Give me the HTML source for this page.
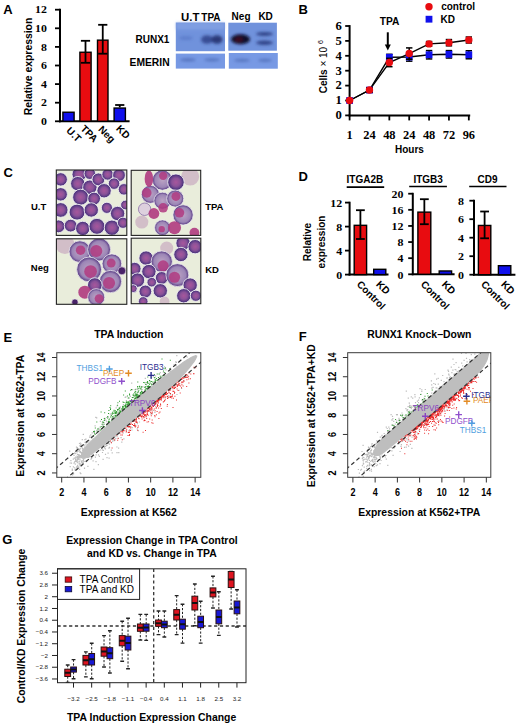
<!DOCTYPE html><html><head><meta charset="utf-8"><style>html,body{margin:0;padding:0;background:#fff;}svg{display:block;}</style></head><body><svg width="520" height="725" viewBox="0 0 520 725"><rect width="520" height="725" fill="#fff"/><text x="3.30" y="13.60" font-size="13" font-weight="bold" text-anchor="start" fill="#000" font-family='"Liberation Sans", sans-serif'>A</text>
<text x="298.60" y="13.90" font-size="13" font-weight="bold" text-anchor="start" fill="#000" font-family='"Liberation Sans", sans-serif'>B</text>
<text x="3.60" y="177.00" font-size="13" font-weight="bold" text-anchor="start" fill="#000" font-family='"Liberation Sans", sans-serif'>C</text>
<text x="298.60" y="181.40" font-size="13" font-weight="bold" text-anchor="start" fill="#000" font-family='"Liberation Sans", sans-serif'>D</text>
<text x="3.60" y="341.60" font-size="13" font-weight="bold" text-anchor="start" fill="#000" font-family='"Liberation Sans", sans-serif'>E</text>
<text x="298.80" y="340.90" font-size="13" font-weight="bold" text-anchor="start" fill="#000" font-family='"Liberation Sans", sans-serif'>F</text>
<text x="2.20" y="543.80" font-size="13" font-weight="bold" text-anchor="start" fill="#000" font-family='"Liberation Sans", sans-serif'>G</text>
<line x1="60.00" y1="8.80" x2="60.00" y2="122.20" stroke="#000" stroke-width="2"/>
<line x1="59.00" y1="121.30" x2="129.60" y2="121.30" stroke="#000" stroke-width="1.9"/>
<line x1="55.00" y1="121.30" x2="60.00" y2="121.30" stroke="#000" stroke-width="1.8"/>
<text x="0.00" y="0.00" font-size="10.6" font-weight="bold" text-anchor="end" fill="#000" font-family='"Liberation Serif", serif' transform="translate(46.90 125.00) scale(1.12 1)">0</text>
<line x1="55.00" y1="102.70" x2="60.00" y2="102.70" stroke="#000" stroke-width="1.8"/>
<text x="0.00" y="0.00" font-size="10.6" font-weight="bold" text-anchor="end" fill="#000" font-family='"Liberation Serif", serif' transform="translate(46.90 106.40) scale(1.12 1)">2</text>
<line x1="55.00" y1="84.10" x2="60.00" y2="84.10" stroke="#000" stroke-width="1.8"/>
<text x="0.00" y="0.00" font-size="10.6" font-weight="bold" text-anchor="end" fill="#000" font-family='"Liberation Serif", serif' transform="translate(46.90 87.80) scale(1.12 1)">4</text>
<line x1="55.00" y1="65.50" x2="60.00" y2="65.50" stroke="#000" stroke-width="1.8"/>
<text x="0.00" y="0.00" font-size="10.6" font-weight="bold" text-anchor="end" fill="#000" font-family='"Liberation Serif", serif' transform="translate(46.90 69.20) scale(1.12 1)">6</text>
<line x1="55.00" y1="46.90" x2="60.00" y2="46.90" stroke="#000" stroke-width="1.8"/>
<text x="0.00" y="0.00" font-size="10.6" font-weight="bold" text-anchor="end" fill="#000" font-family='"Liberation Serif", serif' transform="translate(46.90 50.60) scale(1.12 1)">8</text>
<line x1="55.00" y1="28.30" x2="60.00" y2="28.30" stroke="#000" stroke-width="1.8"/>
<text x="0.00" y="0.00" font-size="10.6" font-weight="bold" text-anchor="end" fill="#000" font-family='"Liberation Serif", serif' transform="translate(46.90 32.00) scale(1.12 1)">10</text>
<line x1="55.00" y1="9.70" x2="60.00" y2="9.70" stroke="#000" stroke-width="1.8"/>
<text x="0.00" y="0.00" font-size="10.6" font-weight="bold" text-anchor="end" fill="#000" font-family='"Liberation Serif", serif' transform="translate(46.90 13.40) scale(1.12 1)">12</text>
<text x="32.20" y="66.50" font-size="10.4" font-weight="bold" text-anchor="middle" fill="#000" font-family='"Liberation Sans", sans-serif' transform="rotate(-90 32.2 66.5)">Relative expression</text>
<rect x="62.90" y="112.23" width="11.20" height="9.07" fill="#1010ec" stroke="#000" stroke-width="1.4"/>
<rect x="79.90" y="52.25" width="11.20" height="69.05" fill="#e80c10" stroke="#000" stroke-width="1.4"/>
<line x1="85.50" y1="40.80" x2="85.50" y2="62.80" stroke="#000" stroke-width="1.8"/>
<line x1="80.90" y1="40.80" x2="90.10" y2="40.80" stroke="#000" stroke-width="1.8"/>
<line x1="80.90" y1="62.80" x2="90.10" y2="62.80" stroke="#000" stroke-width="1.8"/>
<rect x="97.50" y="40.16" width="10.50" height="81.14" fill="#e80c10" stroke="#000" stroke-width="1.4"/>
<line x1="102.75" y1="24.80" x2="102.75" y2="53.70" stroke="#000" stroke-width="1.8"/>
<line x1="98.15" y1="24.80" x2="107.35" y2="24.80" stroke="#000" stroke-width="1.8"/>
<line x1="98.15" y1="53.70" x2="107.35" y2="53.70" stroke="#000" stroke-width="1.8"/>
<rect x="114.10" y="108.05" width="11.30" height="13.25" fill="#1010ec" stroke="#000" stroke-width="1.4"/>
<line x1="119.75" y1="105.00" x2="119.75" y2="107.35" stroke="#000" stroke-width="1.8"/>
<line x1="115.15" y1="105.00" x2="124.35" y2="105.00" stroke="#000" stroke-width="1.8"/>
<text x="65.80" y="131.30" font-size="10" font-weight="bold" text-anchor="start" fill="#000" font-family='"Liberation Sans", sans-serif' transform="rotate(45 65.8 131.3)">U.T</text>
<text x="80.10" y="129.20" font-size="10" font-weight="bold" text-anchor="start" fill="#000" font-family='"Liberation Sans", sans-serif' transform="rotate(45 80.1 129.2)">TPA</text>
<text x="97.75" y="130.00" font-size="10" font-weight="bold" text-anchor="start" fill="#000" font-family='"Liberation Sans", sans-serif' transform="rotate(45 97.75 130.0)">Neg</text>
<text x="115.55" y="129.30" font-size="10" font-weight="bold" text-anchor="start" fill="#000" font-family='"Liberation Sans", sans-serif' transform="rotate(45 115.55 129.3)">KD</text>
<text x="169.40" y="42.60" font-size="10" font-weight="bold" text-anchor="end" fill="#000" font-family='"Liberation Sans", sans-serif'>RUNX1</text>
<text x="169.60" y="66.20" font-size="10.3" font-weight="bold" text-anchor="end" fill="#000" font-family='"Liberation Sans", sans-serif'>EMERIN</text>
<text x="181.00" y="20.70" font-size="10.2" font-weight="bold" text-anchor="start" fill="#000" font-family='"Liberation Sans", sans-serif' textLength="18.4" lengthAdjust="spacingAndGlyphs">U.T</text>
<text x="201.30" y="20.70" font-size="10" font-weight="bold" text-anchor="start" fill="#000" font-family='"Liberation Sans", sans-serif'>TPA</text>
<text x="231.60" y="20.20" font-size="10" font-weight="bold" text-anchor="start" fill="#000" font-family='"Liberation Sans", sans-serif'>Neg</text>
<text x="258.40" y="20.40" font-size="10" font-weight="bold" text-anchor="start" fill="#000" font-family='"Liberation Sans", sans-serif'>KD</text>
<defs><filter id="blur1" x="-50%" y="-50%" width="200%" height="200%"><feGaussianBlur stdDeviation="1.6"/></filter><filter id="blur2" x="-50%" y="-50%" width="200%" height="200%"><feGaussianBlur stdDeviation="0.9"/></filter><filter id="blur3" x="-10%" y="-10%" width="120%" height="120%"><feGaussianBlur stdDeviation="0.55"/></filter></defs>
<rect x="175.80" y="22.50" width="49.20" height="28.70" fill="#7092dc" stroke="none" stroke-width="1"/>
<rect x="228.30" y="22.70" width="48.60" height="28.00" fill="#7092dc" stroke="none" stroke-width="1"/>
<rect x="175.80" y="53.60" width="49.20" height="15.00" fill="#7799e4" stroke="none" stroke-width="1"/>
<rect x="228.80" y="53.00" width="49.00" height="15.70" fill="#7799e4" stroke="none" stroke-width="1"/>
<g filter="url(#blur1)">
<rect x="176" y="22.5" width="48.6" height="7" fill="#8aa6e6" opacity="0.6"/>
<ellipse cx="186" cy="38" rx="7" ry="2" fill="#5070c0" opacity="0.55"/>
<ellipse cx="207" cy="39.5" rx="6" ry="4.3" fill="#24347a" opacity="0.72"/>
<ellipse cx="217" cy="39.5" rx="5.5" ry="4.3" fill="#1c2a68" opacity="0.85"/>
<ellipse cx="240.5" cy="39.3" rx="9.5" ry="5" fill="#0a0a2c"/>
<ellipse cx="238.8" cy="39.6" rx="4" ry="2.5" fill="#4a0a22" opacity="0.8"/>
<ellipse cx="264.5" cy="33.9" rx="8.5" ry="2.0" fill="#26367a" opacity="0.85"/>
<ellipse cx="264.5" cy="42.8" rx="8.5" ry="2.2" fill="#26367a" opacity="0.85"/>
<ellipse cx="188" cy="59.8" rx="8" ry="1.6" fill="#4a66b0" opacity="0.75"/>
<ellipse cx="212" cy="59.8" rx="8" ry="1.6" fill="#4a66b0" opacity="0.7"/>
<ellipse cx="242" cy="60.4" rx="8" ry="1.6" fill="#4a66b0" opacity="0.7"/>
<ellipse cx="265" cy="60.4" rx="7" ry="1.6" fill="#4a66b0" opacity="0.7"/>
</g>
<line x1="349.60" y1="25.10" x2="349.60" y2="116.30" stroke="#000" stroke-width="2"/>
<line x1="348.60" y1="115.40" x2="470.20" y2="115.40" stroke="#000" stroke-width="2"/>
<line x1="345.20" y1="115.40" x2="349.60" y2="115.40" stroke="#000" stroke-width="1.8"/>
<text x="0.00" y="0.00" font-size="11.5" font-weight="bold" text-anchor="end" fill="#000" font-family='"Liberation Serif", serif' transform="translate(341.80 119.20) scale(1.1 1)">0</text>
<line x1="345.20" y1="100.50" x2="349.60" y2="100.50" stroke="#000" stroke-width="1.8"/>
<text x="0.00" y="0.00" font-size="11.5" font-weight="bold" text-anchor="end" fill="#000" font-family='"Liberation Serif", serif' transform="translate(341.80 104.30) scale(1.1 1)">1</text>
<line x1="345.20" y1="85.60" x2="349.60" y2="85.60" stroke="#000" stroke-width="1.8"/>
<text x="0.00" y="0.00" font-size="11.5" font-weight="bold" text-anchor="end" fill="#000" font-family='"Liberation Serif", serif' transform="translate(341.80 89.40) scale(1.1 1)">2</text>
<line x1="345.20" y1="70.70" x2="349.60" y2="70.70" stroke="#000" stroke-width="1.8"/>
<text x="0.00" y="0.00" font-size="11.5" font-weight="bold" text-anchor="end" fill="#000" font-family='"Liberation Serif", serif' transform="translate(341.80 74.50) scale(1.1 1)">3</text>
<line x1="345.20" y1="55.80" x2="349.60" y2="55.80" stroke="#000" stroke-width="1.8"/>
<text x="0.00" y="0.00" font-size="11.5" font-weight="bold" text-anchor="end" fill="#000" font-family='"Liberation Serif", serif' transform="translate(341.80 59.60) scale(1.1 1)">4</text>
<line x1="345.20" y1="40.90" x2="349.60" y2="40.90" stroke="#000" stroke-width="1.8"/>
<text x="0.00" y="0.00" font-size="11.5" font-weight="bold" text-anchor="end" fill="#000" font-family='"Liberation Serif", serif' transform="translate(341.80 44.70) scale(1.1 1)">5</text>
<line x1="345.20" y1="26.00" x2="349.60" y2="26.00" stroke="#000" stroke-width="1.8"/>
<text x="0.00" y="0.00" font-size="11.5" font-weight="bold" text-anchor="end" fill="#000" font-family='"Liberation Serif", serif' transform="translate(341.80 29.80) scale(1.1 1)">6</text>
<line x1="349.60" y1="115.40" x2="349.60" y2="120.40" stroke="#000" stroke-width="1.8"/>
<text x="0.00" y="0.00" font-size="11.5" font-weight="bold" text-anchor="middle" fill="#000" font-family='"Liberation Serif", serif' transform="translate(349.60 138.90) scale(1.08 1)">1</text>
<line x1="369.47" y1="115.40" x2="369.47" y2="120.40" stroke="#000" stroke-width="1.8"/>
<text x="0.00" y="0.00" font-size="11.5" font-weight="bold" text-anchor="middle" fill="#000" font-family='"Liberation Serif", serif' transform="translate(369.47 138.90) scale(1.08 1)">24</text>
<line x1="389.34" y1="115.40" x2="389.34" y2="120.40" stroke="#000" stroke-width="1.8"/>
<text x="0.00" y="0.00" font-size="11.5" font-weight="bold" text-anchor="middle" fill="#000" font-family='"Liberation Serif", serif' transform="translate(389.34 138.90) scale(1.08 1)">48</text>
<line x1="409.21" y1="115.40" x2="409.21" y2="120.40" stroke="#000" stroke-width="1.8"/>
<text x="0.00" y="0.00" font-size="11.5" font-weight="bold" text-anchor="middle" fill="#000" font-family='"Liberation Serif", serif' transform="translate(409.21 138.90) scale(1.08 1)">24</text>
<line x1="429.08" y1="115.40" x2="429.08" y2="120.40" stroke="#000" stroke-width="1.8"/>
<text x="0.00" y="0.00" font-size="11.5" font-weight="bold" text-anchor="middle" fill="#000" font-family='"Liberation Serif", serif' transform="translate(429.08 138.90) scale(1.08 1)">48</text>
<line x1="448.95" y1="115.40" x2="448.95" y2="120.40" stroke="#000" stroke-width="1.8"/>
<text x="0.00" y="0.00" font-size="11.5" font-weight="bold" text-anchor="middle" fill="#000" font-family='"Liberation Serif", serif' transform="translate(448.95 138.90) scale(1.08 1)">72</text>
<line x1="468.82" y1="115.40" x2="468.82" y2="120.40" stroke="#000" stroke-width="1.8"/>
<text x="0.00" y="0.00" font-size="11.5" font-weight="bold" text-anchor="middle" fill="#000" font-family='"Liberation Serif", serif' transform="translate(468.82 138.90) scale(1.08 1)">96</text>
<text x="409.40" y="153.00" font-size="10" font-weight="bold" text-anchor="middle" fill="#000" font-family='"Liberation Sans", sans-serif'>Hours</text>
<text transform="translate(327.3 93.3) rotate(-90)" font-size="10" font-family='"Liberation Sans", sans-serif' font-weight="bold" fill="#000">Cells<tspan font-weight="normal"> × 10 </tspan><tspan font-size="7" font-weight="normal" dy="-4.5">6</tspan></text>
<polyline points="349.60,100.50 369.47,90.07 389.34,57.29 409.21,56.99 429.08,54.76 448.95,54.31 468.82,54.76" fill="none" stroke="#000" stroke-width="1.4"/>
<polyline points="349.60,100.50 369.47,90.07 389.34,62.51 409.21,53.56 429.08,43.88 448.95,42.69 468.82,40.01" fill="none" stroke="#000" stroke-width="1.4"/>
<rect x="346.20" y="97.10" width="6.80" height="6.80" fill="#1010ec" stroke="none" stroke-width="1"/>
<line x1="369.47" y1="87.84" x2="369.47" y2="92.31" stroke="#000" stroke-width="1.5"/>
<line x1="366.27" y1="87.84" x2="372.67" y2="87.84" stroke="#000" stroke-width="1.5"/>
<line x1="366.27" y1="92.31" x2="372.67" y2="92.31" stroke="#000" stroke-width="1.5"/>
<rect x="366.07" y="86.67" width="6.80" height="6.80" fill="#1010ec" stroke="none" stroke-width="1"/>
<line x1="389.34" y1="54.31" x2="389.34" y2="60.27" stroke="#000" stroke-width="1.5"/>
<line x1="386.14" y1="54.31" x2="392.54" y2="54.31" stroke="#000" stroke-width="1.5"/>
<line x1="386.14" y1="60.27" x2="392.54" y2="60.27" stroke="#000" stroke-width="1.5"/>
<rect x="385.94" y="53.89" width="6.80" height="6.80" fill="#1010ec" stroke="none" stroke-width="1"/>
<line x1="409.21" y1="52.82" x2="409.21" y2="61.16" stroke="#000" stroke-width="1.5"/>
<line x1="406.01" y1="52.82" x2="412.41" y2="52.82" stroke="#000" stroke-width="1.5"/>
<line x1="406.01" y1="61.16" x2="412.41" y2="61.16" stroke="#000" stroke-width="1.5"/>
<rect x="405.81" y="53.59" width="6.80" height="6.80" fill="#1010ec" stroke="none" stroke-width="1"/>
<line x1="429.08" y1="50.58" x2="429.08" y2="58.93" stroke="#000" stroke-width="1.5"/>
<line x1="425.88" y1="50.58" x2="432.28" y2="50.58" stroke="#000" stroke-width="1.5"/>
<line x1="425.88" y1="58.93" x2="432.28" y2="58.93" stroke="#000" stroke-width="1.5"/>
<rect x="425.68" y="51.36" width="6.80" height="6.80" fill="#1010ec" stroke="none" stroke-width="1"/>
<line x1="448.95" y1="50.59" x2="448.95" y2="58.04" stroke="#000" stroke-width="1.5"/>
<line x1="445.75" y1="50.59" x2="452.15" y2="50.59" stroke="#000" stroke-width="1.5"/>
<line x1="445.75" y1="58.04" x2="452.15" y2="58.04" stroke="#000" stroke-width="1.5"/>
<rect x="445.55" y="50.91" width="6.80" height="6.80" fill="#1010ec" stroke="none" stroke-width="1"/>
<line x1="468.82" y1="50.73" x2="468.82" y2="58.78" stroke="#000" stroke-width="1.5"/>
<line x1="465.62" y1="50.73" x2="472.02" y2="50.73" stroke="#000" stroke-width="1.5"/>
<line x1="465.62" y1="58.78" x2="472.02" y2="58.78" stroke="#000" stroke-width="1.5"/>
<rect x="465.42" y="51.36" width="6.80" height="6.80" fill="#1010ec" stroke="none" stroke-width="1"/>
<circle cx="349.60" cy="100.50" r="3.7" fill="#e80c10"/>
<line x1="369.47" y1="87.84" x2="369.47" y2="92.31" stroke="#000" stroke-width="1.5"/>
<line x1="366.27" y1="87.84" x2="372.67" y2="87.84" stroke="#000" stroke-width="1.5"/>
<line x1="366.27" y1="92.31" x2="372.67" y2="92.31" stroke="#000" stroke-width="1.5"/>
<circle cx="369.47" cy="90.07" r="3.7" fill="#e80c10"/>
<line x1="389.34" y1="58.33" x2="389.34" y2="66.68" stroke="#000" stroke-width="1.5"/>
<line x1="386.14" y1="58.33" x2="392.54" y2="58.33" stroke="#000" stroke-width="1.5"/>
<line x1="386.14" y1="66.68" x2="392.54" y2="66.68" stroke="#000" stroke-width="1.5"/>
<circle cx="389.34" cy="62.51" r="3.7" fill="#e80c10"/>
<line x1="409.21" y1="47.90" x2="409.21" y2="59.23" stroke="#000" stroke-width="1.5"/>
<line x1="406.01" y1="47.90" x2="412.41" y2="47.90" stroke="#000" stroke-width="1.5"/>
<line x1="406.01" y1="59.23" x2="412.41" y2="59.23" stroke="#000" stroke-width="1.5"/>
<circle cx="409.21" cy="53.56" r="3.7" fill="#e80c10"/>
<line x1="429.08" y1="41.50" x2="429.08" y2="46.26" stroke="#000" stroke-width="1.5"/>
<line x1="425.88" y1="41.50" x2="432.28" y2="41.50" stroke="#000" stroke-width="1.5"/>
<line x1="425.88" y1="46.26" x2="432.28" y2="46.26" stroke="#000" stroke-width="1.5"/>
<circle cx="429.08" cy="43.88" r="3.7" fill="#e80c10"/>
<line x1="448.95" y1="39.56" x2="448.95" y2="45.82" stroke="#000" stroke-width="1.5"/>
<line x1="445.75" y1="39.56" x2="452.15" y2="39.56" stroke="#000" stroke-width="1.5"/>
<line x1="445.75" y1="45.82" x2="452.15" y2="45.82" stroke="#000" stroke-width="1.5"/>
<circle cx="448.95" cy="42.69" r="3.7" fill="#e80c10"/>
<line x1="468.82" y1="37.03" x2="468.82" y2="42.99" stroke="#000" stroke-width="1.5"/>
<line x1="465.62" y1="37.03" x2="472.02" y2="37.03" stroke="#000" stroke-width="1.5"/>
<line x1="465.62" y1="42.99" x2="472.02" y2="42.99" stroke="#000" stroke-width="1.5"/>
<circle cx="468.82" cy="40.01" r="3.7" fill="#e80c10"/>
<circle cx="429" cy="6.7" r="3.7" fill="#e80c10"/>
<rect x="425.60" y="15.80" width="6.80" height="6.80" fill="#1010ec" stroke="none" stroke-width="1"/>
<text x="441.20" y="10.20" font-size="10" font-weight="bold" text-anchor="start" fill="#000" font-family='"Liberation Sans", sans-serif'>control</text>
<text x="440.60" y="22.70" font-size="10" font-weight="bold" text-anchor="start" fill="#000" font-family='"Liberation Sans", sans-serif'>KD</text>
<text x="389.60" y="24.90" font-size="10.2" font-weight="bold" text-anchor="middle" fill="#000" font-family='"Liberation Sans", sans-serif'>TPA</text>
<line x1="387.80" y1="32.30" x2="387.80" y2="45.00" stroke="#000" stroke-width="2"/>
<polygon points="384.8,44.4 390.8,44.4 387.8,50.5" fill="#000"/>
<radialGradient id="gpur"><stop offset="0" stop-color="#a8569c"/><stop offset="0.5" stop-color="#8a5298"/><stop offset="0.78" stop-color="#603e88"/><stop offset="1" stop-color="#3a2a6c"/></radialGradient><radialGradient id="glav"><stop offset="0" stop-color="#bca4c4"/><stop offset="0.72" stop-color="#9c86b6"/><stop offset="0.9" stop-color="#6e5294"/><stop offset="1" stop-color="#4e3a7a"/></radialGradient>
<clipPath id="cp1"><rect x="56.3" y="170.0" width="70.5" height="65.4"/></clipPath>
<g clip-path="url(#cp1)">
<rect x="56.30" y="170.00" width="70.50" height="65.40" fill="#e9eddb" stroke="none" stroke-width="1"/>
<g filter="url(#blur3)">
<circle cx="60.69" cy="179.38" r="6.69" fill="url(#gpur)" stroke="#f2eef4" stroke-width="0.9"/>
<circle cx="79.18" cy="174.40" r="7.17" fill="url(#gpur)" stroke="#f2eef4" stroke-width="0.9"/>
<circle cx="89.85" cy="173.69" r="5.74" fill="url(#gpur)" stroke="#f2eef4" stroke-width="0.9"/>
<circle cx="77.76" cy="183.65" r="7.17" fill="url(#gpur)" stroke="#f2eef4" stroke-width="0.9"/>
<circle cx="89.85" cy="187.20" r="7.17" fill="url(#gpur)" stroke="#f2eef4" stroke-width="0.9"/>
<circle cx="98.39" cy="179.38" r="6.37" fill="url(#gpur)" stroke="#f2eef4" stroke-width="0.9"/>
<circle cx="107.63" cy="174.40" r="5.74" fill="url(#gpur)" stroke="#f2eef4" stroke-width="0.9"/>
<circle cx="119.01" cy="175.11" r="6.37" fill="url(#gpur)" stroke="#f2eef4" stroke-width="0.9"/>
<circle cx="114.03" cy="183.65" r="5.74" fill="url(#gpur)" stroke="#f2eef4" stroke-width="0.9"/>
<circle cx="104.08" cy="190.76" r="7.17" fill="url(#gpur)" stroke="#f2eef4" stroke-width="0.9"/>
<circle cx="123.99" cy="189.34" r="5.74" fill="url(#gpur)" stroke="#f2eef4" stroke-width="0.9"/>
<circle cx="60.69" cy="194.32" r="6.69" fill="url(#gpur)" stroke="#f2eef4" stroke-width="0.9"/>
<circle cx="80.60" cy="197.16" r="7.97" fill="url(#gpur)" stroke="#f2eef4" stroke-width="0.9"/>
<circle cx="94.12" cy="198.58" r="6.37" fill="url(#gpur)" stroke="#f2eef4" stroke-width="0.9"/>
<circle cx="60.69" cy="209.96" r="7.33" fill="url(#gpur)" stroke="#f2eef4" stroke-width="0.9"/>
<circle cx="77.05" cy="212.10" r="7.97" fill="url(#gpur)" stroke="#f2eef4" stroke-width="0.9"/>
<circle cx="91.27" cy="209.96" r="7.17" fill="url(#gpur)" stroke="#f2eef4" stroke-width="0.9"/>
<circle cx="106.92" cy="207.83" r="5.58" fill="url(#gpur)" stroke="#f2eef4" stroke-width="0.9"/>
<circle cx="117.59" cy="213.52" r="7.17" fill="url(#gpur)" stroke="#f2eef4" stroke-width="0.9"/>
<circle cx="125.41" cy="204.98" r="4.78" fill="url(#gpur)" stroke="#f2eef4" stroke-width="0.9"/>
<circle cx="58.56" cy="226.32" r="6.37" fill="url(#gpur)" stroke="#f2eef4" stroke-width="0.9"/>
<circle cx="70.65" cy="225.61" r="6.37" fill="url(#gpur)" stroke="#f2eef4" stroke-width="0.9"/>
<circle cx="82.74" cy="228.46" r="7.17" fill="url(#gpur)" stroke="#f2eef4" stroke-width="0.9"/>
<circle cx="96.96" cy="226.32" r="7.97" fill="url(#gpur)" stroke="#f2eef4" stroke-width="0.9"/>
<circle cx="111.90" cy="227.74" r="7.65" fill="url(#gpur)" stroke="#f2eef4" stroke-width="0.9"/>
<circle cx="122.99" cy="222.77" r="5.58" fill="url(#gpur)" stroke="#f2eef4" stroke-width="0.9"/>
</g></g>
<rect x="56.30" y="170.00" width="70.50" height="65.40" fill="none" stroke="#222" stroke-width="1.1"/>
<clipPath id="cp2"><rect x="131.2" y="170.3" width="69.5" height="65.1"/></clipPath>
<g clip-path="url(#cp2)">
<rect x="131.20" y="170.30" width="69.50" height="65.10" fill="#e9eddb" stroke="none" stroke-width="1"/>
<g filter="url(#blur3)">
<circle cx="190.17" cy="176.53" r="9.00" fill="#c9a9c0" opacity="0.7"/>
<circle cx="141.80" cy="222.05" r="6.54" fill="#c9a9c0" opacity="0.7"/>
<circle cx="162.43" cy="180.09" r="10.14" fill="url(#glav)" stroke="#f0ecf2" stroke-width="0.8"/>
<circle cx="163.14" cy="175.82" r="4.14" fill="#b03a80" opacity="0.85"/>
<circle cx="150.34" cy="194.32" r="9.00" fill="url(#glav)" stroke="#f0ecf2" stroke-width="0.8"/>
<circle cx="146.78" cy="192.89" r="4.78" fill="#b03a80" opacity="0.85"/>
<ellipse cx="148.91" cy="178.67" rx="4.27" ry="8.25" fill="#b03a80" opacity="0.9"/>
<circle cx="175.94" cy="182.22" r="8.28" fill="url(#gpur)" stroke="#f2eef4" stroke-width="0.9"/>
<circle cx="162.43" cy="200.72" r="8.51" fill="url(#glav)" stroke="#f0ecf2" stroke-width="0.8"/>
<circle cx="163.14" cy="207.83" r="4.78" fill="#b03a80" opacity="0.85"/>
<circle cx="175.23" cy="198.58" r="8.51" fill="url(#glav)" stroke="#f0ecf2" stroke-width="0.8"/>
<circle cx="175.94" cy="196.45" r="4.46" fill="#b03a80" opacity="0.85"/>
<circle cx="144.65" cy="209.25" r="6.22" fill="#ddd0de" stroke="#8a70a8" stroke-width="0.8"/>
<circle cx="153.89" cy="213.52" r="5.40" fill="#b03a80" opacity="0.9"/>
<circle cx="183.05" cy="214.94" r="10.14" fill="url(#glav)" stroke="#f0ecf2" stroke-width="0.8"/>
<circle cx="179.50" cy="212.81" r="4.78" fill="#b03a80" opacity="0.85"/>
<circle cx="162.43" cy="227.74" r="7.85" fill="url(#glav)" stroke="#f0ecf2" stroke-width="0.8"/>
<circle cx="161.72" cy="229.17" r="3.19" fill="#b03a80" opacity="0.85"/>
<circle cx="174.52" cy="227.74" r="6.54" fill="#b03a80" opacity="0.9"/>
<circle cx="194.43" cy="232.72" r="4.91" fill="#b03a80" opacity="0.9"/>
</g></g>
<rect x="131.20" y="170.30" width="69.50" height="65.10" fill="none" stroke="#222" stroke-width="1.1"/>
<clipPath id="cp3"><rect x="56.4" y="238.8" width="70.4" height="65.5"/></clipPath>
<g clip-path="url(#cp3)">
<rect x="56.40" y="238.80" width="70.40" height="65.50" fill="#e9eddb" stroke="none" stroke-width="1"/>
<g filter="url(#blur3)">
<circle cx="64.96" cy="244.53" r="9.49" fill="#c9a9c0" opacity="0.7"/>
<circle cx="79.89" cy="251.65" r="10.80" fill="url(#glav)" stroke="#f0ecf2" stroke-width="0.8"/>
<circle cx="80.60" cy="250.22" r="4.78" fill="#b03a80" opacity="0.85"/>
<circle cx="99.10" cy="249.51" r="11.45" fill="url(#glav)" stroke="#f0ecf2" stroke-width="0.8"/>
<circle cx="96.25" cy="250.94" r="6.05" fill="#b03a80" opacity="0.85"/>
<circle cx="111.90" cy="263.74" r="9.82" fill="url(#glav)" stroke="#f0ecf2" stroke-width="0.8"/>
<circle cx="111.19" cy="263.03" r="4.46" fill="#b03a80" opacity="0.85"/>
<circle cx="89.14" cy="269.43" r="12.43" fill="url(#glav)" stroke="#f0ecf2" stroke-width="0.8"/>
<circle cx="90.56" cy="271.56" r="6.37" fill="#b03a80" opacity="0.85"/>
<circle cx="121.86" cy="270.85" r="3.98" fill="#4a2268" stroke="#efeaf2" stroke-width="0.6"/>
<circle cx="110.48" cy="281.52" r="11.12" fill="url(#glav)" stroke="#f0ecf2" stroke-width="0.8"/>
<circle cx="109.05" cy="282.94" r="6.05" fill="#b03a80" opacity="0.85"/>
<circle cx="94.83" cy="285.08" r="7.33" fill="url(#gpur)" stroke="#f2eef4" stroke-width="0.9"/>
<circle cx="84.87" cy="292.19" r="6.54" fill="#b03a80" opacity="0.9"/>
<circle cx="96.25" cy="297.17" r="8.51" fill="url(#glav)" stroke="#f0ecf2" stroke-width="0.8"/>
<circle cx="99.10" cy="298.59" r="4.46" fill="#b03a80" opacity="0.85"/>
<circle cx="74.91" cy="302.15" r="3.19" fill="#4a2268" stroke="#efeaf2" stroke-width="0.6"/>
</g></g>
<rect x="56.40" y="238.80" width="70.40" height="65.50" fill="none" stroke="#222" stroke-width="1.1"/>
<clipPath id="cp4"><rect x="131.2" y="238.2" width="69.60000000000002" height="65.5"/></clipPath>
<g clip-path="url(#cp4)">
<rect x="131.20" y="238.20" width="69.60" height="65.50" fill="#e9eddb" stroke="none" stroke-width="1"/>
<g filter="url(#blur3)">
<circle cx="166.70" cy="248.09" r="6.54" fill="#c9a9c0" opacity="0.7"/>
<circle cx="183.05" cy="243.11" r="7.17" fill="url(#gpur)" stroke="#f2eef4" stroke-width="0.9"/>
<circle cx="195.15" cy="246.67" r="7.17" fill="url(#gpur)" stroke="#f2eef4" stroke-width="0.9"/>
<circle cx="180.92" cy="254.49" r="7.17" fill="url(#gpur)" stroke="#f2eef4" stroke-width="0.9"/>
<circle cx="146.07" cy="258.05" r="7.17" fill="url(#gpur)" stroke="#f2eef4" stroke-width="0.9"/>
<circle cx="161.72" cy="261.60" r="10.63" fill="url(#glav)" stroke="#f0ecf2" stroke-width="0.8"/>
<circle cx="163.14" cy="265.87" r="5.58" fill="#b03a80" opacity="0.85"/>
<circle cx="134.69" cy="268.72" r="6.37" fill="url(#gpur)" stroke="#f2eef4" stroke-width="0.9"/>
<circle cx="148.91" cy="271.56" r="7.17" fill="url(#gpur)" stroke="#f2eef4" stroke-width="0.9"/>
<circle cx="161.72" cy="277.96" r="6.37" fill="url(#gpur)" stroke="#f2eef4" stroke-width="0.9"/>
<circle cx="177.36" cy="275.12" r="11.45" fill="url(#glav)" stroke="#f0ecf2" stroke-width="0.8"/>
<circle cx="174.52" cy="277.25" r="5.58" fill="#b03a80" opacity="0.85"/>
<circle cx="137.53" cy="280.10" r="7.17" fill="url(#gpur)" stroke="#f2eef4" stroke-width="0.9"/>
<circle cx="151.76" cy="282.23" r="4.78" fill="url(#gpur)" stroke="#f2eef4" stroke-width="0.9"/>
<circle cx="190.17" cy="285.08" r="7.17" fill="url(#gpur)" stroke="#f2eef4" stroke-width="0.9"/>
<circle cx="133.27" cy="288.63" r="3.98" fill="url(#gpur)" stroke="#f2eef4" stroke-width="0.9"/>
<circle cx="145.36" cy="291.48" r="6.37" fill="url(#gpur)" stroke="#f2eef4" stroke-width="0.9"/>
<circle cx="160.29" cy="290.77" r="7.17" fill="url(#gpur)" stroke="#f2eef4" stroke-width="0.9"/>
<circle cx="183.77" cy="295.74" r="7.17" fill="url(#gpur)" stroke="#f2eef4" stroke-width="0.9"/>
<circle cx="195.86" cy="295.74" r="5.58" fill="url(#gpur)" stroke="#f2eef4" stroke-width="0.9"/>
<circle cx="143.22" cy="301.43" r="4.78" fill="url(#gpur)" stroke="#f2eef4" stroke-width="0.9"/>
<circle cx="164.56" cy="301.43" r="4.91" fill="#c9a9c0" opacity="0.7"/>
</g></g>
<rect x="131.20" y="238.20" width="69.60" height="65.50" fill="none" stroke="#222" stroke-width="1.1"/>
<text x="31.00" y="209.80" font-size="9.5" font-weight="bold" text-anchor="start" fill="#000" font-family='"Liberation Sans", sans-serif'>U.T</text>
<text x="205.20" y="210.20" font-size="9.5" font-weight="bold" text-anchor="start" fill="#000" font-family='"Liberation Sans", sans-serif'>TPA</text>
<text x="30.80" y="270.80" font-size="9.5" font-weight="bold" text-anchor="start" fill="#000" font-family='"Liberation Sans", sans-serif'>Neg</text>
<text x="205.20" y="272.70" font-size="9.5" font-weight="bold" text-anchor="start" fill="#000" font-family='"Liberation Sans", sans-serif'>KD</text>
<line x1="349.60" y1="201.70" x2="349.60" y2="275.50" stroke="#000" stroke-width="2"/>
<line x1="348.60" y1="274.60" x2="388.50" y2="274.60" stroke="#000" stroke-width="2"/>
<line x1="345.00" y1="274.60" x2="349.60" y2="274.60" stroke="#000" stroke-width="1.8"/>
<text x="0.00" y="0.00" font-size="10.3" font-weight="bold" text-anchor="end" fill="#000" font-family='"Liberation Serif", serif' transform="translate(342.20 278.80) scale(1.16 1)">0</text>
<line x1="345.00" y1="250.60" x2="349.60" y2="250.60" stroke="#000" stroke-width="1.8"/>
<text x="0.00" y="0.00" font-size="10.3" font-weight="bold" text-anchor="end" fill="#000" font-family='"Liberation Serif", serif' transform="translate(342.20 254.80) scale(1.16 1)">4</text>
<line x1="345.00" y1="226.60" x2="349.60" y2="226.60" stroke="#000" stroke-width="1.8"/>
<text x="0.00" y="0.00" font-size="10.3" font-weight="bold" text-anchor="end" fill="#000" font-family='"Liberation Serif", serif' transform="translate(342.20 230.80) scale(1.16 1)">8</text>
<line x1="345.00" y1="202.60" x2="349.60" y2="202.60" stroke="#000" stroke-width="1.8"/>
<text x="0.00" y="0.00" font-size="10.3" font-weight="bold" text-anchor="end" fill="#000" font-family='"Liberation Serif", serif' transform="translate(342.20 206.80) scale(1.16 1)">12</text>
<rect x="354.20" y="225.32" width="12.40" height="49.28" fill="#e80c10" stroke="#000" stroke-width="1.4"/>
<line x1="360.40" y1="210.20" x2="360.40" y2="239.00" stroke="#000" stroke-width="1.8"/>
<line x1="356.00" y1="210.20" x2="364.80" y2="210.20" stroke="#000" stroke-width="1.8"/>
<line x1="356.00" y1="239.00" x2="364.80" y2="239.00" stroke="#000" stroke-width="1.8"/>
<rect x="373.70" y="269.30" width="12.10" height="5.30" fill="#1010ec" stroke="#000" stroke-width="1.4"/>
<text x="346.60" y="183.30" font-size="10" font-weight="bold" text-anchor="start" fill="#000" font-family='"Liberation Sans", sans-serif'>ITGA2B</text>
<line x1="346.70" y1="187.10" x2="384.20" y2="187.10" stroke="#000" stroke-width="1.6"/>
<text x="356.20" y="285.00" font-size="10" font-weight="bold" text-anchor="start" fill="#000" font-family='"Liberation Sans", sans-serif' transform="rotate(45 356.2 285.0)">Control</text>
<text x="375.55" y="285.00" font-size="10" font-weight="bold" text-anchor="start" fill="#000" font-family='"Liberation Sans", sans-serif' transform="rotate(45 375.55 285.0)">KD</text>
<line x1="412.80" y1="192.80" x2="412.80" y2="275.20" stroke="#000" stroke-width="2"/>
<line x1="411.80" y1="274.30" x2="454.60" y2="274.30" stroke="#000" stroke-width="2"/>
<line x1="408.20" y1="274.30" x2="412.80" y2="274.30" stroke="#000" stroke-width="1.8"/>
<text x="0.00" y="0.00" font-size="10.3" font-weight="bold" text-anchor="end" fill="#000" font-family='"Liberation Serif", serif' transform="translate(403.40 278.50) scale(1.16 1)">0</text>
<line x1="408.20" y1="258.18" x2="412.80" y2="258.18" stroke="#000" stroke-width="1.8"/>
<text x="0.00" y="0.00" font-size="10.3" font-weight="bold" text-anchor="end" fill="#000" font-family='"Liberation Serif", serif' transform="translate(403.40 262.38) scale(1.16 1)">4</text>
<line x1="408.20" y1="242.06" x2="412.80" y2="242.06" stroke="#000" stroke-width="1.8"/>
<text x="0.00" y="0.00" font-size="10.3" font-weight="bold" text-anchor="end" fill="#000" font-family='"Liberation Serif", serif' transform="translate(403.40 246.26) scale(1.16 1)">8</text>
<line x1="408.20" y1="225.94" x2="412.80" y2="225.94" stroke="#000" stroke-width="1.8"/>
<text x="0.00" y="0.00" font-size="10.3" font-weight="bold" text-anchor="end" fill="#000" font-family='"Liberation Serif", serif' transform="translate(403.40 230.14) scale(1.16 1)">12</text>
<line x1="408.20" y1="209.82" x2="412.80" y2="209.82" stroke="#000" stroke-width="1.8"/>
<text x="0.00" y="0.00" font-size="10.3" font-weight="bold" text-anchor="end" fill="#000" font-family='"Liberation Serif", serif' transform="translate(403.40 214.02) scale(1.16 1)">16</text>
<line x1="408.20" y1="193.70" x2="412.80" y2="193.70" stroke="#000" stroke-width="1.8"/>
<text x="0.00" y="0.00" font-size="10.3" font-weight="bold" text-anchor="end" fill="#000" font-family='"Liberation Serif", serif' transform="translate(403.40 197.90) scale(1.16 1)">20</text>
<rect x="417.90" y="212.13" width="12.90" height="62.17" fill="#e80c10" stroke="#000" stroke-width="1.4"/>
<line x1="424.35" y1="199.20" x2="424.35" y2="224.20" stroke="#000" stroke-width="1.8"/>
<line x1="419.95" y1="199.20" x2="428.75" y2="199.20" stroke="#000" stroke-width="1.8"/>
<line x1="419.95" y1="224.20" x2="428.75" y2="224.20" stroke="#000" stroke-width="1.8"/>
<rect x="439.20" y="270.97" width="12.40" height="3.33" fill="#1010ec" stroke="#000" stroke-width="1.4"/>
<text x="413.40" y="182.70" font-size="10" font-weight="bold" text-anchor="start" fill="#000" font-family='"Liberation Sans", sans-serif'>ITGB3</text>
<line x1="409.20" y1="186.50" x2="446.90" y2="186.50" stroke="#000" stroke-width="1.6"/>
<text x="420.15" y="285.00" font-size="10" font-weight="bold" text-anchor="start" fill="#000" font-family='"Liberation Sans", sans-serif' transform="rotate(45 420.15000000000003 285.0)">Control</text>
<text x="441.20" y="285.00" font-size="10" font-weight="bold" text-anchor="start" fill="#000" font-family='"Liberation Sans", sans-serif' transform="rotate(45 441.2 285.0)">KD</text>
<line x1="474.00" y1="199.80" x2="474.00" y2="275.60" stroke="#000" stroke-width="2"/>
<line x1="473.00" y1="274.70" x2="515.40" y2="274.70" stroke="#000" stroke-width="2"/>
<line x1="469.40" y1="274.70" x2="474.00" y2="274.70" stroke="#000" stroke-width="1.8"/>
<text x="0.00" y="0.00" font-size="10.3" font-weight="bold" text-anchor="end" fill="#000" font-family='"Liberation Serif", serif' transform="translate(464.00 278.90) scale(1.16 1)">0</text>
<line x1="469.40" y1="256.20" x2="474.00" y2="256.20" stroke="#000" stroke-width="1.8"/>
<text x="0.00" y="0.00" font-size="10.3" font-weight="bold" text-anchor="end" fill="#000" font-family='"Liberation Serif", serif' transform="translate(464.00 260.40) scale(1.16 1)">2</text>
<line x1="469.40" y1="237.70" x2="474.00" y2="237.70" stroke="#000" stroke-width="1.8"/>
<text x="0.00" y="0.00" font-size="10.3" font-weight="bold" text-anchor="end" fill="#000" font-family='"Liberation Serif", serif' transform="translate(464.00 241.90) scale(1.16 1)">4</text>
<line x1="469.40" y1="219.20" x2="474.00" y2="219.20" stroke="#000" stroke-width="1.8"/>
<text x="0.00" y="0.00" font-size="10.3" font-weight="bold" text-anchor="end" fill="#000" font-family='"Liberation Serif", serif' transform="translate(464.00 223.40) scale(1.16 1)">6</text>
<line x1="469.40" y1="200.70" x2="474.00" y2="200.70" stroke="#000" stroke-width="1.8"/>
<text x="0.00" y="0.00" font-size="10.3" font-weight="bold" text-anchor="end" fill="#000" font-family='"Liberation Serif", serif' transform="translate(464.00 204.90) scale(1.16 1)">8</text>
<rect x="478.40" y="225.45" width="12.40" height="49.25" fill="#e80c10" stroke="#000" stroke-width="1.4"/>
<line x1="484.60" y1="211.50" x2="484.60" y2="238.30" stroke="#000" stroke-width="1.8"/>
<line x1="480.20" y1="211.50" x2="489.00" y2="211.50" stroke="#000" stroke-width="1.8"/>
<line x1="480.20" y1="238.30" x2="489.00" y2="238.30" stroke="#000" stroke-width="1.8"/>
<rect x="498.40" y="265.69" width="12.40" height="9.01" fill="#1010ec" stroke="#000" stroke-width="1.4"/>
<text x="477.60" y="182.70" font-size="10" font-weight="bold" text-anchor="start" fill="#000" font-family='"Liberation Sans", sans-serif'>CD9</text>
<line x1="469.20" y1="186.50" x2="506.50" y2="186.50" stroke="#000" stroke-width="1.6"/>
<text x="480.40" y="285.00" font-size="10" font-weight="bold" text-anchor="start" fill="#000" font-family='"Liberation Sans", sans-serif' transform="rotate(45 480.40000000000003 285.0)">Control</text>
<text x="500.40" y="285.00" font-size="10" font-weight="bold" text-anchor="start" fill="#000" font-family='"Liberation Sans", sans-serif' transform="rotate(45 500.40000000000003 285.0)">KD</text>
<text x="311.20" y="242.00" font-size="10" font-weight="bold" text-anchor="middle" fill="#000" font-family='"Liberation Sans", sans-serif' transform="rotate(-90 311.2 242.0)">Relative</text>
<text x="324.80" y="242.00" font-size="10" font-weight="bold" text-anchor="middle" fill="#000" font-family='"Liberation Sans", sans-serif' transform="rotate(-90 324.8 242.0)">expression</text>
<clipPath id="sc1"><rect x="56.8" y="352.7" width="144.0" height="124.60000000000002"/></clipPath>
<g clip-path="url(#sc1)">
<path fill="#bcbcbc" d="M113.2 419.1h1.2v1.2h-1.2zM89.2 436.7h1.2v1.2h-1.2zM135.1 396.3h1.2v1.2h-1.2zM182.0 349.5h1.2v1.2h-1.2zM101.7 449.2h1.2v1.2h-1.2zM116.5 431.2h1.2v1.2h-1.2zM139.8 411.8h1.2v1.2h-1.2zM141.5 386.5h1.2v1.2h-1.2zM107.2 442.9h1.2v1.2h-1.2zM95.2 416.7h1.2v1.2h-1.2zM83.6 460.9h1.2v1.2h-1.2zM130.7 426.4h1.2v1.2h-1.2zM132.4 397.0h1.2v1.2h-1.2zM131.3 429.4h1.2v1.2h-1.2zM136.8 389.0h1.2v1.2h-1.2zM161.0 376.3h1.2v1.2h-1.2zM90.4 458.5h1.2v1.2h-1.2zM115.6 407.2h1.2v1.2h-1.2zM98.8 455.8h1.2v1.2h-1.2zM124.1 410.9h1.2v1.2h-1.2zM116.3 446.4h1.2v1.2h-1.2zM140.7 413.1h1.2v1.2h-1.2zM126.3 426.6h1.2v1.2h-1.2zM86.3 460.3h1.2v1.2h-1.2zM151.7 413.2h1.2v1.2h-1.2zM115.9 411.5h1.2v1.2h-1.2zM189.3 348.4h1.2v1.2h-1.2zM99.8 420.8h1.2v1.2h-1.2zM79.9 444.8h1.2v1.2h-1.2zM128.4 402.5h1.2v1.2h-1.2zM116.1 431.8h1.2v1.2h-1.2zM149.6 407.6h1.2v1.2h-1.2zM185.3 347.6h1.2v1.2h-1.2zM145.5 416.0h1.2v1.2h-1.2zM105.8 442.7h1.2v1.2h-1.2zM140.9 396.0h1.2v1.2h-1.2zM176.4 393.9h1.2v1.2h-1.2zM186.6 356.4h1.2v1.2h-1.2zM165.4 369.2h1.2v1.2h-1.2zM156.8 403.4h1.2v1.2h-1.2zM91.0 457.7h1.2v1.2h-1.2zM149.9 413.4h1.2v1.2h-1.2zM113.8 418.7h1.2v1.2h-1.2zM118.0 447.5h1.2v1.2h-1.2zM118.4 408.2h1.2v1.2h-1.2zM96.2 429.8h1.2v1.2h-1.2zM152.7 376.2h1.2v1.2h-1.2zM98.3 427.7h1.2v1.2h-1.2zM137.7 430.0h1.2v1.2h-1.2zM180.3 376.1h1.2v1.2h-1.2zM171.4 386.4h1.2v1.2h-1.2zM120.5 408.5h1.2v1.2h-1.2zM104.4 447.8h1.2v1.2h-1.2zM131.8 404.3h1.2v1.2h-1.2zM115.2 437.8h1.2v1.2h-1.2zM119.7 411.8h1.2v1.2h-1.2zM126.9 405.1h1.2v1.2h-1.2zM144.0 408.6h1.2v1.2h-1.2zM125.8 400.1h1.2v1.2h-1.2zM121.2 441.5h1.2v1.2h-1.2zM133.9 420.9h1.2v1.2h-1.2zM121.8 430.5h1.2v1.2h-1.2zM141.5 386.4h1.2v1.2h-1.2zM108.4 447.5h1.2v1.2h-1.2zM129.7 395.8h1.2v1.2h-1.2zM89.3 456.1h1.2v1.2h-1.2zM164.9 397.3h1.2v1.2h-1.2zM97.9 454.3h1.2v1.2h-1.2zM118.2 452.0h1.2v1.2h-1.2zM99.8 449.4h1.2v1.2h-1.2zM78.9 442.9h1.2v1.2h-1.2zM96.5 449.2h1.2v1.2h-1.2zM119.8 406.5h1.2v1.2h-1.2zM108.3 440.9h1.2v1.2h-1.2zM98.6 429.0h1.2v1.2h-1.2zM91.6 432.2h1.2v1.2h-1.2zM89.2 435.4h1.2v1.2h-1.2zM170.0 367.7h1.2v1.2h-1.2zM109.1 422.7h1.2v1.2h-1.2zM106.7 424.3h1.2v1.2h-1.2zM110.7 414.1h1.2v1.2h-1.2zM78.5 449.3h1.2v1.2h-1.2zM107.7 416.5h1.2v1.2h-1.2zM102.5 458.7h1.2v1.2h-1.2zM154.1 402.1h1.2v1.2h-1.2zM117.8 437.9h1.2v1.2h-1.2zM114.5 418.7h1.2v1.2h-1.2zM135.9 420.8h1.2v1.2h-1.2zM100.0 446.1h1.2v1.2h-1.2zM91.0 436.0h1.2v1.2h-1.2zM138.9 421.4h1.2v1.2h-1.2zM122.3 411.4h1.2v1.2h-1.2zM99.4 446.3h1.2v1.2h-1.2zM180.9 375.6h1.2v1.2h-1.2zM84.1 444.4h1.2v1.2h-1.2zM131.7 427.0h1.2v1.2h-1.2zM143.1 394.5h1.2v1.2h-1.2zM185.2 355.9h1.2v1.2h-1.2zM136.5 394.7h1.2v1.2h-1.2zM84.5 441.8h1.2v1.2h-1.2zM135.1 425.7h1.2v1.2h-1.2zM125.5 407.8h1.2v1.2h-1.2zM155.1 406.0h1.2v1.2h-1.2zM131.6 400.0h1.2v1.2h-1.2zM141.0 412.3h1.2v1.2h-1.2zM135.2 418.8h1.2v1.2h-1.2zM72.4 472.7h1.2v1.2h-1.2zM127.8 426.0h1.2v1.2h-1.2zM137.9 391.5h1.2v1.2h-1.2zM103.9 419.8h1.2v1.2h-1.2zM145.5 388.3h1.2v1.2h-1.2zM134.3 424.1h1.2v1.2h-1.2zM76.7 447.1h1.2v1.2h-1.2zM140.9 389.1h1.2v1.2h-1.2zM122.7 407.8h1.2v1.2h-1.2zM122.8 404.0h1.2v1.2h-1.2zM103.4 422.0h1.2v1.2h-1.2zM154.3 381.4h1.2v1.2h-1.2zM97.8 464.1h1.2v1.2h-1.2zM154.3 411.8h1.2v1.2h-1.2zM106.2 424.5h1.2v1.2h-1.2zM72.6 472.9h1.2v1.2h-1.2zM156.8 382.6h1.2v1.2h-1.2zM95.4 461.0h1.2v1.2h-1.2zM110.7 449.6h1.2v1.2h-1.2zM116.4 452.0h1.2v1.2h-1.2zM132.0 389.0h1.2v1.2h-1.2zM115.7 432.1h1.2v1.2h-1.2zM171.8 383.4h1.2v1.2h-1.2zM102.5 425.0h1.2v1.2h-1.2zM116.5 405.2h1.2v1.2h-1.2zM135.4 388.5h1.2v1.2h-1.2zM128.9 425.5h1.2v1.2h-1.2zM143.5 386.2h1.2v1.2h-1.2zM170.1 370.5h1.2v1.2h-1.2zM114.5 418.3h1.2v1.2h-1.2zM108.5 457.6h1.2v1.2h-1.2zM117.9 411.5h1.2v1.2h-1.2zM191.8 338.7h1.2v1.2h-1.2zM130.5 400.2h1.2v1.2h-1.2zM119.1 432.6h1.2v1.2h-1.2zM119.2 431.3h1.2v1.2h-1.2zM96.1 417.3h1.2v1.2h-1.2zM125.5 429.8h1.2v1.2h-1.2zM104.8 448.4h1.2v1.2h-1.2zM121.4 410.5h1.2v1.2h-1.2zM175.8 361.7h1.2v1.2h-1.2zM79.6 472.3h1.2v1.2h-1.2zM123.3 438.3h1.2v1.2h-1.2zM131.8 401.5h1.2v1.2h-1.2zM155.0 375.3h1.2v1.2h-1.2zM107.5 452.5h1.2v1.2h-1.2zM139.9 394.5h1.2v1.2h-1.2zM148.0 410.8h1.2v1.2h-1.2zM106.2 421.1h1.2v1.2h-1.2zM141.5 389.1h1.2v1.2h-1.2zM94.5 432.9h1.2v1.2h-1.2zM75.9 446.6h1.2v1.2h-1.2zM111.6 452.2h1.2v1.2h-1.2zM162.8 391.3h1.2v1.2h-1.2zM79.5 464.3h1.2v1.2h-1.2zM108.2 440.5h1.2v1.2h-1.2zM114.2 439.2h1.2v1.2h-1.2zM103.3 428.9h1.2v1.2h-1.2zM103.9 446.7h1.2v1.2h-1.2zM180.0 376.2h1.2v1.2h-1.2zM106.1 416.9h1.2v1.2h-1.2zM175.3 381.5h1.2v1.2h-1.2zM87.3 465.8h1.2v1.2h-1.2zM162.8 371.6h1.2v1.2h-1.2zM144.7 377.7h1.2v1.2h-1.2zM102.1 422.2h1.2v1.2h-1.2zM100.6 430.4h1.2v1.2h-1.2zM176.2 355.1h1.2v1.2h-1.2zM104.1 417.7h1.2v1.2h-1.2zM115.4 417.6h1.2v1.2h-1.2zM120.5 437.1h1.2v1.2h-1.2zM85.5 460.4h1.2v1.2h-1.2zM102.8 449.7h1.2v1.2h-1.2zM81.7 439.1h1.2v1.2h-1.2zM83.9 467.8h1.2v1.2h-1.2zM82.7 433.7h1.2v1.2h-1.2zM108.2 423.3h1.2v1.2h-1.2zM146.2 391.7h1.2v1.2h-1.2zM168.2 395.1h1.2v1.2h-1.2zM80.2 473.0h1.2v1.2h-1.2zM106.4 457.0h1.2v1.2h-1.2zM124.7 407.1h1.2v1.2h-1.2zM170.3 370.8h1.2v1.2h-1.2zM145.3 383.7h1.2v1.2h-1.2zM113.5 440.1h1.2v1.2h-1.2zM112.9 438.4h1.2v1.2h-1.2zM90.2 434.3h1.2v1.2h-1.2zM88.1 456.3h1.2v1.2h-1.2zM82.5 461.9h1.2v1.2h-1.2zM162.8 376.8h1.2v1.2h-1.2zM92.5 460.3h1.2v1.2h-1.2zM106.4 444.8h1.2v1.2h-1.2zM146.3 390.5h1.2v1.2h-1.2zM95.5 454.2h1.2v1.2h-1.2zM116.5 412.4h1.2v1.2h-1.2zM107.3 425.5h1.2v1.2h-1.2zM99.0 430.1h1.2v1.2h-1.2zM113.4 435.5h1.2v1.2h-1.2zM118.0 411.7h1.2v1.2h-1.2zM152.9 409.8h1.2v1.2h-1.2zM93.3 468.7h1.2v1.2h-1.2zM123.4 410.7h1.2v1.2h-1.2zM167.8 396.8h1.2v1.2h-1.2zM181.0 387.9h1.2v1.2h-1.2zM116.5 435.5h1.2v1.2h-1.2zM160.3 393.6h1.2v1.2h-1.2zM173.9 364.5h1.2v1.2h-1.2zM134.5 400.8h1.2v1.2h-1.2zM108.1 443.1h1.2v1.2h-1.2zM103.8 443.6h1.2v1.2h-1.2zM76.3 466.0h1.2v1.2h-1.2zM102.1 424.1h1.2v1.2h-1.2zM128.8 397.4h1.2v1.2h-1.2zM87.8 441.4h1.2v1.2h-1.2zM175.6 365.2h1.2v1.2h-1.2zM112.4 436.3h1.2v1.2h-1.2zM160.0 377.6h1.2v1.2h-1.2zM162.7 393.3h1.2v1.2h-1.2zM173.4 364.3h1.2v1.2h-1.2zM170.0 394.0h1.2v1.2h-1.2zM134.6 395.3h1.2v1.2h-1.2zM154.8 382.2h1.2v1.2h-1.2zM105.4 419.8h1.2v1.2h-1.2zM118.6 412.3h1.2v1.2h-1.2zM101.9 451.9h1.2v1.2h-1.2zM105.0 443.7h1.2v1.2h-1.2zM117.2 417.0h1.2v1.2h-1.2zM164.9 367.1h1.2v1.2h-1.2zM83.9 467.5h1.2v1.2h-1.2zM156.5 380.2h1.2v1.2h-1.2zM128.9 404.9h1.2v1.2h-1.2zM131.5 402.0h1.2v1.2h-1.2zM120.9 429.4h1.2v1.2h-1.2zM80.0 464.2h1.2v1.2h-1.2zM106.5 440.7h1.2v1.2h-1.2zM101.6 447.8h1.2v1.2h-1.2zM91.9 456.4h1.2v1.2h-1.2zM135.9 394.0h1.2v1.2h-1.2zM149.4 388.2h1.2v1.2h-1.2zM126.0 405.4h1.2v1.2h-1.2zM175.1 361.3h1.2v1.2h-1.2zM191.5 345.2h1.2v1.2h-1.2zM124.6 396.8h1.2v1.2h-1.2zM147.1 386.8h1.2v1.2h-1.2zM109.6 413.2h1.2v1.2h-1.2zM153.7 385.1h1.2v1.2h-1.2zM168.8 370.3h1.2v1.2h-1.2zM112.8 416.2h1.2v1.2h-1.2zM94.8 456.6h1.2v1.2h-1.2zM161.2 397.6h1.2v1.2h-1.2zM93.6 430.7h1.2v1.2h-1.2zM131.1 382.6h1.2v1.2h-1.2zM101.3 447.9h1.2v1.2h-1.2zM145.8 382.0h1.2v1.2h-1.2zM136.1 394.7h1.2v1.2h-1.2zM134.2 419.6h1.2v1.2h-1.2zM79.7 442.4h1.2v1.2h-1.2zM105.6 445.0h1.2v1.2h-1.2zM108.8 440.6h1.2v1.2h-1.2zM76.3 466.8h1.2v1.2h-1.2zM115.0 435.5h1.2v1.2h-1.2zM136.7 428.2h1.2v1.2h-1.2zM144.8 392.1h1.2v1.2h-1.2zM76.6 480.6h1.2v1.2h-1.2zM97.9 447.7h1.2v1.2h-1.2zM103.4 444.6h1.2v1.2h-1.2zM136.3 414.4h1.2v1.2h-1.2zM111.5 421.4h1.2v1.2h-1.2zM85.3 438.5h1.2v1.2h-1.2zM143.1 412.2h1.2v1.2h-1.2zM74.1 452.2h1.2v1.2h-1.2zM122.7 432.2h1.2v1.2h-1.2zM106.2 424.9h1.2v1.2h-1.2zM141.1 394.6h1.2v1.2h-1.2zM108.9 443.5h1.2v1.2h-1.2zM129.2 429.0h1.2v1.2h-1.2zM108.9 446.7h1.2v1.2h-1.2zM104.9 453.8h1.2v1.2h-1.2zM162.3 377.4h1.2v1.2h-1.2zM145.9 384.0h1.2v1.2h-1.2zM183.0 380.2h1.2v1.2h-1.2zM123.0 410.8h1.2v1.2h-1.2zM159.1 400.1h1.2v1.2h-1.2zM112.0 440.6h1.2v1.2h-1.2zM140.9 413.2h1.2v1.2h-1.2zM145.2 410.7h1.2v1.2h-1.2zM88.2 456.6h1.2v1.2h-1.2zM94.5 425.2h1.2v1.2h-1.2zM110.5 441.7h1.2v1.2h-1.2zM93.0 431.5h1.2v1.2h-1.2zM103.9 426.0h1.2v1.2h-1.2zM113.0 436.5h1.2v1.2h-1.2zM178.4 389.7h1.2v1.2h-1.2zM81.8 463.2h1.2v1.2h-1.2zM104.9 445.9h1.2v1.2h-1.2zM159.7 372.0h1.2v1.2h-1.2zM100.7 428.5h1.2v1.2h-1.2zM182.6 351.7h1.2v1.2h-1.2zM73.0 473.2h1.2v1.2h-1.2zM102.0 445.8h1.2v1.2h-1.2zM108.5 424.0h1.2v1.2h-1.2zM150.4 409.5h1.2v1.2h-1.2zM117.9 415.5h1.2v1.2h-1.2zM163.9 366.2h1.2v1.2h-1.2zM80.4 445.2h1.2v1.2h-1.2zM125.3 396.2h1.2v1.2h-1.2zM136.8 423.0h1.2v1.2h-1.2zM78.7 464.3h1.2v1.2h-1.2zM77.3 458.0h1.2v1.2h-1.2zM80.6 443.4h1.2v1.2h-1.2zM82.0 453.2h1.2v1.2h-1.2zM92.4 438.5h1.2v1.2h-1.2zM84.5 449.5h1.2v1.2h-1.2zM78.6 454.6h1.2v1.2h-1.2zM74.9 458.7h1.2v1.2h-1.2zM85.4 443.2h1.2v1.2h-1.2zM80.0 450.8h1.2v1.2h-1.2zM81.6 460.3h1.2v1.2h-1.2zM83.4 456.6h1.2v1.2h-1.2zM82.5 458.0h1.2v1.2h-1.2zM77.4 450.7h1.2v1.2h-1.2zM84.3 451.5h1.2v1.2h-1.2zM78.3 466.6h1.2v1.2h-1.2zM85.5 445.5h1.2v1.2h-1.2zM77.7 458.8h1.2v1.2h-1.2zM81.4 452.1h1.2v1.2h-1.2zM69.6 466.0h1.2v1.2h-1.2zM80.8 460.4h1.2v1.2h-1.2zM79.1 464.3h1.2v1.2h-1.2zM92.5 443.9h1.2v1.2h-1.2zM73.4 452.9h1.2v1.2h-1.2zM70.9 462.6h1.2v1.2h-1.2zM81.1 453.6h1.2v1.2h-1.2zM81.9 449.2h1.2v1.2h-1.2zM79.2 445.3h1.2v1.2h-1.2zM75.1 456.4h1.2v1.2h-1.2zM89.2 440.3h1.2v1.2h-1.2zM75.4 451.0h1.2v1.2h-1.2zM77.1 456.9h1.2v1.2h-1.2zM92.0 453.2h1.2v1.2h-1.2zM78.8 456.9h1.2v1.2h-1.2zM86.0 455.3h1.2v1.2h-1.2zM88.6 447.4h1.2v1.2h-1.2zM74.0 461.4h1.2v1.2h-1.2zM83.2 455.1h1.2v1.2h-1.2zM79.7 455.0h1.2v1.2h-1.2zM82.0 455.7h1.2v1.2h-1.2zM79.9 445.0h1.2v1.2h-1.2zM82.9 459.6h1.2v1.2h-1.2zM76.7 458.9h1.2v1.2h-1.2zM80.2 451.7h1.2v1.2h-1.2zM76.8 456.1h1.2v1.2h-1.2zM83.2 444.7h1.2v1.2h-1.2zM78.1 454.0h1.2v1.2h-1.2zM82.1 454.3h1.2v1.2h-1.2zM75.2 453.1h1.2v1.2h-1.2zM77.5 466.2h1.2v1.2h-1.2zM85.1 449.7h1.2v1.2h-1.2zM78.6 461.0h1.2v1.2h-1.2zM80.9 452.8h1.2v1.2h-1.2zM83.8 454.7h1.2v1.2h-1.2zM82.5 460.5h1.2v1.2h-1.2zM88.0 447.0h1.2v1.2h-1.2zM76.4 455.4h1.2v1.2h-1.2zM85.6 454.5h1.2v1.2h-1.2zM87.5 445.2h1.2v1.2h-1.2zM93.1 435.0h1.2v1.2h-1.2zM78.1 455.1h1.2v1.2h-1.2zM91.4 445.7h1.2v1.2h-1.2zM69.6 462.4h1.2v1.2h-1.2zM84.8 453.5h1.2v1.2h-1.2zM73.7 457.6h1.2v1.2h-1.2zM73.4 454.7h1.2v1.2h-1.2zM78.8 449.7h1.2v1.2h-1.2zM88.0 453.2h1.2v1.2h-1.2zM91.8 442.0h1.2v1.2h-1.2zM85.9 450.1h1.2v1.2h-1.2zM83.9 446.5h1.2v1.2h-1.2zM76.9 457.2h1.2v1.2h-1.2zM80.2 455.0h1.2v1.2h-1.2zM92.6 444.4h1.2v1.2h-1.2zM78.4 455.4h1.2v1.2h-1.2zM80.9 457.0h1.2v1.2h-1.2zM74.7 463.5h1.2v1.2h-1.2zM83.9 451.2h1.2v1.2h-1.2zM75.0 460.8h1.2v1.2h-1.2zM74.1 467.3h1.2v1.2h-1.2zM79.0 468.7h1.2v1.2h-1.2zM78.9 456.6h1.2v1.2h-1.2zM76.5 448.3h1.2v1.2h-1.2zM84.7 454.2h1.2v1.2h-1.2zM77.6 456.2h1.2v1.2h-1.2zM72.7 458.6h1.2v1.2h-1.2zM71.7 468.6h1.2v1.2h-1.2zM81.9 454.6h1.2v1.2h-1.2zM79.1 448.7h1.2v1.2h-1.2zM83.3 452.6h1.2v1.2h-1.2zM81.7 462.2h1.2v1.2h-1.2zM92.0 448.1h1.2v1.2h-1.2zM87.8 450.3h1.2v1.2h-1.2zM78.4 462.6h1.2v1.2h-1.2zM80.0 450.8h1.2v1.2h-1.2zM79.5 457.3h1.2v1.2h-1.2zM79.9 444.3h1.2v1.2h-1.2zM69.1 450.6h1.2v1.2h-1.2zM82.6 450.1h1.2v1.2h-1.2zM82.7 455.5h1.2v1.2h-1.2zM79.4 456.3h1.2v1.2h-1.2zM74.2 457.5h1.2v1.2h-1.2zM87.0 447.5h1.2v1.2h-1.2zM72.0 474.2h1.2v1.2h-1.2zM84.0 455.9h1.2v1.2h-1.2zM81.8 447.6h1.2v1.2h-1.2zM78.4 457.2h1.2v1.2h-1.2zM85.0 451.7h1.2v1.2h-1.2zM87.2 456.8h1.2v1.2h-1.2zM93.1 445.1h1.2v1.2h-1.2zM76.9 464.7h1.2v1.2h-1.2zM79.4 462.9h1.2v1.2h-1.2zM84.3 457.3h1.2v1.2h-1.2zM82.7 449.6h1.2v1.2h-1.2zM83.7 456.0h1.2v1.2h-1.2zM81.7 447.8h1.2v1.2h-1.2zM76.7 462.0h1.2v1.2h-1.2zM88.8 451.1h1.2v1.2h-1.2zM80.8 456.5h1.2v1.2h-1.2zM80.8 461.6h1.2v1.2h-1.2zM76.6 451.3h1.2v1.2h-1.2zM81.5 445.3h1.2v1.2h-1.2zM81.4 464.3h1.2v1.2h-1.2zM77.0 460.3h1.2v1.2h-1.2zM75.6 457.2h1.2v1.2h-1.2zM83.1 458.6h1.2v1.2h-1.2zM86.6 441.9h1.2v1.2h-1.2zM71.7 469.7h1.2v1.2h-1.2zM79.4 451.7h1.2v1.2h-1.2zM74.4 469.3h1.2v1.2h-1.2zM75.2 460.2h1.2v1.2h-1.2zM79.0 454.4h1.2v1.2h-1.2zM86.1 456.5h1.2v1.2h-1.2zM73.4 462.5h1.2v1.2h-1.2zM79.6 448.1h1.2v1.2h-1.2zM80.4 455.8h1.2v1.2h-1.2zM80.8 452.6h1.2v1.2h-1.2zM75.1 468.8h1.2v1.2h-1.2zM83.8 457.0h1.2v1.2h-1.2zM77.0 453.8h1.2v1.2h-1.2zM79.3 459.4h1.2v1.2h-1.2zM70.3 460.0h1.2v1.2h-1.2zM76.2 460.9h1.2v1.2h-1.2zM75.7 460.5h1.2v1.2h-1.2zM84.4 452.9h1.2v1.2h-1.2zM77.1 453.9h1.2v1.2h-1.2zM86.8 443.8h1.2v1.2h-1.2zM87.4 445.5h1.2v1.2h-1.2zM76.2 467.5h1.2v1.2h-1.2zM82.8 449.2h1.2v1.2h-1.2zM79.3 451.1h1.2v1.2h-1.2zM79.2 455.1h1.2v1.2h-1.2zM84.3 453.8h1.2v1.2h-1.2zM83.3 448.0h1.2v1.2h-1.2zM86.3 453.7h1.2v1.2h-1.2zM82.2 449.9h1.2v1.2h-1.2zM89.3 442.9h1.2v1.2h-1.2zM84.3 439.1h1.2v1.2h-1.2zM79.3 459.0h1.2v1.2h-1.2zM72.8 466.3h1.2v1.2h-1.2z"/>
<path fill="#2b9a2b" d="M140.3 388.0h1v1h-1zM112.7 418.4h1v1h-1zM118.7 412.4h1v1h-1zM131.6 402.0h1v1h-1zM123.0 409.3h1v1h-1zM163.1 370.4h1v1h-1zM108.4 410.1h1v1h-1zM108.4 420.9h1v1h-1zM164.9 367.8h1v1h-1zM141.9 391.5h1v1h-1zM115.5 412.7h1v1h-1zM108.9 421.5h1v1h-1zM125.9 407.5h1v1h-1zM126.4 401.2h1v1h-1zM139.8 393.0h1v1h-1zM136.6 395.9h1v1h-1zM111.7 416.3h1v1h-1zM126.6 401.8h1v1h-1zM154.5 380.7h1v1h-1zM133.9 395.4h1v1h-1zM127.4 405.4h1v1h-1zM141.3 386.1h1v1h-1zM144.4 387.0h1v1h-1zM149.7 382.6h1v1h-1zM137.1 395.6h1v1h-1zM122.2 407.0h1v1h-1zM108.1 421.0h1v1h-1zM144.9 386.4h1v1h-1zM136.5 397.3h1v1h-1zM127.5 403.9h1v1h-1zM136.1 396.7h1v1h-1zM138.8 386.2h1v1h-1zM114.7 413.2h1v1h-1zM144.6 389.5h1v1h-1zM130.3 389.7h1v1h-1zM101.3 425.9h1v1h-1zM113.1 412.8h1v1h-1zM158.0 377.0h1v1h-1zM108.4 419.5h1v1h-1zM132.5 397.1h1v1h-1zM131.2 399.1h1v1h-1zM148.0 385.6h1v1h-1zM126.9 395.4h1v1h-1zM116.4 411.4h1v1h-1zM126.1 401.9h1v1h-1zM110.2 405.2h1v1h-1zM124.3 408.7h1v1h-1zM120.2 410.6h1v1h-1zM96.7 430.8h1v1h-1zM127.3 401.8h1v1h-1zM124.2 407.9h1v1h-1zM117.3 409.8h1v1h-1zM157.9 377.0h1v1h-1zM117.0 409.1h1v1h-1zM126.0 406.6h1v1h-1zM110.8 415.0h1v1h-1zM146.7 385.8h1v1h-1zM129.4 401.4h1v1h-1zM117.4 402.2h1v1h-1zM124.2 405.2h1v1h-1zM147.3 382.6h1v1h-1zM129.4 403.3h1v1h-1zM132.8 401.2h1v1h-1zM148.4 386.5h1v1h-1zM149.6 385.9h1v1h-1zM125.3 407.0h1v1h-1zM127.6 405.4h1v1h-1zM93.1 431.1h1v1h-1zM120.5 411.2h1v1h-1zM121.6 408.8h1v1h-1zM127.7 402.2h1v1h-1zM138.0 395.4h1v1h-1zM156.7 373.6h1v1h-1zM103.8 419.9h1v1h-1zM154.3 377.1h1v1h-1zM111.6 413.1h1v1h-1zM136.7 398.2h1v1h-1zM96.3 421.6h1v1h-1zM137.8 396.2h1v1h-1zM108.4 422.2h1v1h-1zM117.9 408.8h1v1h-1zM123.9 408.7h1v1h-1zM154.1 377.2h1v1h-1zM113.6 409.7h1v1h-1zM135.5 393.5h1v1h-1zM138.4 388.1h1v1h-1zM145.3 383.9h1v1h-1zM115.6 412.0h1v1h-1zM132.0 397.1h1v1h-1zM128.1 397.4h1v1h-1zM133.1 400.2h1v1h-1zM117.9 414.0h1v1h-1zM130.4 403.5h1v1h-1zM129.3 404.0h1v1h-1zM130.3 401.1h1v1h-1zM132.4 394.4h1v1h-1zM94.8 427.5h1v1h-1zM129.4 401.4h1v1h-1zM138.3 389.8h1v1h-1zM125.3 406.1h1v1h-1zM160.7 377.2h1v1h-1zM136.9 394.2h1v1h-1zM99.8 426.6h1v1h-1zM139.2 385.8h1v1h-1zM123.1 394.6h1v1h-1zM131.1 400.5h1v1h-1zM153.5 383.6h1v1h-1zM141.1 390.7h1v1h-1zM123.5 402.1h1v1h-1zM124.8 406.1h1v1h-1zM131.8 396.9h1v1h-1zM116.5 413.6h1v1h-1zM127.4 403.2h1v1h-1zM147.9 387.3h1v1h-1zM147.9 386.6h1v1h-1zM130.9 402.1h1v1h-1zM131.0 389.0h1v1h-1zM137.7 391.3h1v1h-1zM123.1 408.5h1v1h-1zM121.5 408.0h1v1h-1zM136.8 392.3h1v1h-1zM101.6 423.7h1v1h-1zM152.5 381.6h1v1h-1zM102.9 426.1h1v1h-1zM94.6 433.9h1v1h-1zM155.9 378.1h1v1h-1zM137.9 391.2h1v1h-1zM154.7 379.1h1v1h-1zM135.9 395.2h1v1h-1zM139.9 392.0h1v1h-1zM139.1 395.3h1v1h-1zM138.4 394.5h1v1h-1zM143.7 391.8h1v1h-1zM114.6 417.3h1v1h-1zM144.4 382.2h1v1h-1zM137.8 395.6h1v1h-1zM147.6 382.9h1v1h-1zM133.4 400.0h1v1h-1zM121.7 409.2h1v1h-1zM122.5 408.4h1v1h-1zM137.1 387.5h1v1h-1zM103.5 423.7h1v1h-1zM101.5 428.2h1v1h-1zM146.7 386.3h1v1h-1zM155.6 379.7h1v1h-1zM96.9 430.8h1v1h-1zM134.7 389.3h1v1h-1zM164.2 372.0h1v1h-1zM127.0 406.3h1v1h-1zM137.2 396.9h1v1h-1zM112.5 419.2h1v1h-1zM94.1 430.7h1v1h-1zM110.1 408.2h1v1h-1zM107.2 416.0h1v1h-1zM110.7 420.7h1v1h-1zM141.2 393.3h1v1h-1zM142.0 392.9h1v1h-1zM103.0 421.7h1v1h-1zM140.8 387.2h1v1h-1zM141.7 393.6h1v1h-1zM136.5 393.7h1v1h-1zM129.1 394.5h1v1h-1zM119.0 400.7h1v1h-1zM141.0 394.5h1v1h-1zM97.1 428.5h1v1h-1zM147.2 388.9h1v1h-1zM122.1 405.9h1v1h-1zM113.5 410.8h1v1h-1zM130.1 403.7h1v1h-1zM124.9 405.2h1v1h-1zM128.1 401.3h1v1h-1zM112.0 413.5h1v1h-1zM124.7 404.7h1v1h-1zM136.5 396.3h1v1h-1zM125.8 401.8h1v1h-1zM158.6 373.5h1v1h-1zM133.6 399.6h1v1h-1zM104.2 412.3h1v1h-1zM140.3 388.4h1v1h-1zM123.2 406.4h1v1h-1zM163.5 368.2h1v1h-1zM135.2 398.2h1v1h-1zM127.7 397.6h1v1h-1zM125.3 403.7h1v1h-1zM135.2 390.9h1v1h-1zM146.5 388.5h1v1h-1zM92.5 435.4h1v1h-1zM127.4 402.9h1v1h-1zM147.1 380.9h1v1h-1zM101.9 421.5h1v1h-1zM146.8 381.8h1v1h-1zM133.8 399.5h1v1h-1zM149.7 380.7h1v1h-1zM139.3 386.6h1v1h-1zM123.9 409.0h1v1h-1zM133.0 395.3h1v1h-1zM115.8 411.0h1v1h-1zM157.0 379.7h1v1h-1zM135.4 395.0h1v1h-1zM129.3 403.8h1v1h-1zM119.1 408.2h1v1h-1zM145.5 388.3h1v1h-1zM107.1 417.6h1v1h-1zM144.3 390.7h1v1h-1zM134.2 391.7h1v1h-1zM152.4 381.8h1v1h-1zM129.7 400.9h1v1h-1zM115.1 416.2h1v1h-1zM114.5 412.8h1v1h-1zM124.7 405.5h1v1h-1zM126.5 404.3h1v1h-1zM112.3 419.2h1v1h-1zM169.2 368.3h1v1h-1zM108.8 418.5h1v1h-1zM145.2 390.3h1v1h-1zM135.0 398.1h1v1h-1zM131.5 402.7h1v1h-1zM100.6 411.6h1v1h-1zM150.8 383.5h1v1h-1zM133.6 399.8h1v1h-1zM144.7 389.2h1v1h-1zM158.8 373.6h1v1h-1zM147.3 376.4h1v1h-1zM119.0 413.4h1v1h-1zM115.8 415.6h1v1h-1zM106.7 424.0h1v1h-1zM133.2 393.5h1v1h-1zM129.0 393.6h1v1h-1zM154.7 382.4h1v1h-1zM135.0 397.8h1v1h-1zM110.0 409.1h1v1h-1zM119.2 410.2h1v1h-1zM137.1 385.9h1v1h-1zM138.5 394.8h1v1h-1zM128.5 404.7h1v1h-1zM161.5 358.4h1v1h-1zM117.1 415.0h1v1h-1zM119.1 411.8h1v1h-1zM154.0 374.3h1v1h-1zM148.6 387.8h1v1h-1zM145.1 386.2h1v1h-1zM137.3 381.4h1v1h-1zM103.7 426.3h1v1h-1zM143.2 381.9h1v1h-1zM138.9 395.0h1v1h-1zM134.7 394.5h1v1h-1zM108.7 420.9h1v1h-1zM119.2 412.9h1v1h-1zM129.9 403.4h1v1h-1zM118.1 413.7h1v1h-1zM138.9 396.3h1v1h-1zM141.0 393.7h1v1h-1zM101.0 419.0h1v1h-1zM117.1 404.8h1v1h-1zM150.9 377.6h1v1h-1zM111.6 417.7h1v1h-1zM108.0 412.9h1v1h-1zM149.0 383.8h1v1h-1zM128.7 403.6h1v1h-1zM147.6 386.3h1v1h-1zM136.4 397.9h1v1h-1zM117.1 415.0h1v1h-1zM140.8 391.6h1v1h-1zM111.9 411.8h1v1h-1zM119.7 410.9h1v1h-1zM112.8 417.8h1v1h-1zM148.8 386.3h1v1h-1zM113.6 415.6h1v1h-1zM122.5 401.6h1v1h-1zM109.5 407.0h1v1h-1zM103.8 418.1h1v1h-1zM138.4 395.9h1v1h-1zM129.8 403.0h1v1h-1zM119.3 412.5h1v1h-1zM124.8 390.5h1v1h-1zM169.8 359.7h1v1h-1zM108.0 421.8h1v1h-1zM153.4 383.6h1v1h-1zM141.6 392.7h1v1h-1zM163.8 374.8h1v1h-1zM146.5 388.2h1v1h-1zM111.6 420.0h1v1h-1zM148.2 385.4h1v1h-1zM114.9 415.0h1v1h-1zM154.9 381.6h1v1h-1zM133.8 400.2h1v1h-1zM114.5 411.8h1v1h-1zM140.7 393.9h1v1h-1zM106.3 424.2h1v1h-1zM135.5 396.7h1v1h-1zM120.1 411.7h1v1h-1zM135.7 394.4h1v1h-1zM146.8 386.2h1v1h-1zM115.9 416.0h1v1h-1zM141.9 391.7h1v1h-1zM141.3 394.1h1v1h-1zM146.7 388.0h1v1h-1zM149.0 380.0h1v1h-1zM130.4 403.7h1v1h-1zM154.7 380.2h1v1h-1zM151.3 384.4h1v1h-1zM114.9 410.3h1v1h-1zM124.9 407.8h1v1h-1zM125.1 404.9h1v1h-1zM94.0 432.4h1v1h-1zM128.4 402.6h1v1h-1zM110.1 416.5h1v1h-1zM147.1 381.5h1v1h-1zM122.6 405.7h1v1h-1zM125.6 402.6h1v1h-1zM104.3 418.4h1v1h-1zM159.8 375.7h1v1h-1zM131.3 400.1h1v1h-1zM132.3 402.0h1v1h-1zM161.8 375.6h1v1h-1zM114.6 417.0h1v1h-1zM118.8 407.2h1v1h-1zM100.1 429.6h1v1h-1zM140.0 394.5h1v1h-1zM97.7 428.5h1v1h-1zM134.0 397.7h1v1h-1zM140.2 394.8h1v1h-1zM151.1 381.0h1v1h-1zM102.3 427.5h1v1h-1zM130.4 401.0h1v1h-1zM120.5 411.8h1v1h-1zM126.7 406.4h1v1h-1zM134.7 392.4h1v1h-1zM112.1 416.3h1v1h-1zM142.7 392.4h1v1h-1z"/>
<path fill="#ec2a2a" d="M172.9 397.8h1v1h-1zM148.8 408.0h1v1h-1zM173.9 387.2h1v1h-1zM149.2 418.6h1v1h-1zM169.4 389.5h1v1h-1zM139.6 415.3h1v1h-1zM151.3 422.3h1v1h-1zM171.3 397.6h1v1h-1zM172.1 394.2h1v1h-1zM121.7 432.3h1v1h-1zM186.2 386.1h1v1h-1zM140.2 415.4h1v1h-1zM161.0 396.9h1v1h-1zM156.0 399.4h1v1h-1zM151.2 406.6h1v1h-1zM115.7 434.7h1v1h-1zM188.2 378.5h1v1h-1zM183.3 380.3h1v1h-1zM171.7 395.9h1v1h-1zM177.7 380.4h1v1h-1zM161.5 395.8h1v1h-1zM163.5 394.2h1v1h-1zM156.6 411.0h1v1h-1zM160.4 396.6h1v1h-1zM155.5 402.2h1v1h-1zM185.2 375.5h1v1h-1zM143.9 414.6h1v1h-1zM129.7 426.2h1v1h-1zM185.9 376.7h1v1h-1zM141.5 414.7h1v1h-1zM156.2 399.7h1v1h-1zM130.0 422.2h1v1h-1zM143.1 412.7h1v1h-1zM142.8 411.9h1v1h-1zM126.2 428.7h1v1h-1zM173.9 388.1h1v1h-1zM157.9 402.5h1v1h-1zM136.7 421.8h1v1h-1zM152.6 405.8h1v1h-1zM160.0 398.7h1v1h-1zM144.2 410.6h1v1h-1zM138.2 417.9h1v1h-1zM148.5 409.8h1v1h-1zM113.2 438.2h1v1h-1zM175.7 383.3h1v1h-1zM157.3 401.3h1v1h-1zM142.6 431.8h1v1h-1zM143.3 417.2h1v1h-1zM133.2 419.1h1v1h-1zM176.5 384.1h1v1h-1zM122.9 430.1h1v1h-1zM151.5 409.4h1v1h-1zM128.5 424.1h1v1h-1zM186.4 379.2h1v1h-1zM132.9 421.1h1v1h-1zM146.7 412.5h1v1h-1zM160.2 404.6h1v1h-1zM172.5 388.3h1v1h-1zM167.0 396.1h1v1h-1zM168.3 391.6h1v1h-1zM170.0 392.9h1v1h-1zM180.7 378.3h1v1h-1zM176.5 381.4h1v1h-1zM168.7 392.4h1v1h-1zM154.5 416.2h1v1h-1zM158.0 400.0h1v1h-1zM169.9 397.0h1v1h-1zM159.7 398.2h1v1h-1zM152.2 405.3h1v1h-1zM166.0 392.1h1v1h-1zM148.9 409.1h1v1h-1zM148.5 407.4h1v1h-1zM170.1 396.0h1v1h-1zM154.5 403.2h1v1h-1zM135.3 418.7h1v1h-1zM132.0 424.0h1v1h-1zM158.4 397.4h1v1h-1zM181.3 379.0h1v1h-1zM174.2 392.1h1v1h-1zM186.3 373.9h1v1h-1zM150.8 415.2h1v1h-1zM112.8 436.7h1v1h-1zM157.6 401.0h1v1h-1zM181.4 384.3h1v1h-1zM155.4 403.1h1v1h-1zM163.8 394.7h1v1h-1zM147.0 411.2h1v1h-1zM146.6 421.4h1v1h-1zM163.4 396.3h1v1h-1zM127.4 426.1h1v1h-1zM149.4 408.7h1v1h-1zM158.1 407.5h1v1h-1zM187.2 375.3h1v1h-1zM151.5 407.7h1v1h-1zM195.2 367.2h1v1h-1zM156.0 407.2h1v1h-1zM134.2 419.8h1v1h-1zM189.9 378.2h1v1h-1zM155.2 400.4h1v1h-1zM178.7 385.1h1v1h-1zM172.5 407.1h1v1h-1zM178.1 382.6h1v1h-1zM133.0 420.6h1v1h-1zM155.1 403.2h1v1h-1zM135.7 417.7h1v1h-1zM160.9 399.3h1v1h-1zM161.2 394.8h1v1h-1zM150.0 411.7h1v1h-1zM144.0 415.1h1v1h-1zM110.0 440.6h1v1h-1zM174.1 387.6h1v1h-1zM162.9 394.2h1v1h-1zM154.5 404.3h1v1h-1zM141.3 416.8h1v1h-1zM158.1 399.8h1v1h-1zM129.8 422.6h1v1h-1zM168.3 389.0h1v1h-1zM127.5 424.6h1v1h-1zM155.6 407.7h1v1h-1zM160.0 403.5h1v1h-1zM122.9 427.8h1v1h-1zM169.0 389.7h1v1h-1zM165.6 392.9h1v1h-1zM134.1 419.5h1v1h-1zM127.5 435.0h1v1h-1zM158.5 399.0h1v1h-1zM152.0 404.9h1v1h-1zM121.8 439.3h1v1h-1zM158.5 412.4h1v1h-1zM151.5 407.6h1v1h-1zM140.2 413.0h1v1h-1zM182.6 385.4h1v1h-1zM144.5 420.1h1v1h-1zM172.1 386.9h1v1h-1zM159.5 411.6h1v1h-1zM154.3 414.9h1v1h-1zM139.7 415.5h1v1h-1zM165.8 391.9h1v1h-1zM144.1 419.4h1v1h-1zM153.8 408.6h1v1h-1zM139.8 414.0h1v1h-1zM147.1 407.8h1v1h-1zM188.5 372.6h1v1h-1zM157.5 398.4h1v1h-1zM156.2 401.3h1v1h-1zM149.6 405.0h1v1h-1zM130.0 430.0h1v1h-1zM146.6 408.5h1v1h-1zM135.9 418.1h1v1h-1zM139.3 413.7h1v1h-1zM162.7 395.3h1v1h-1zM133.0 424.9h1v1h-1zM126.7 425.9h1v1h-1zM173.6 384.5h1v1h-1zM151.7 411.5h1v1h-1zM171.3 386.6h1v1h-1zM146.7 413.3h1v1h-1zM148.1 421.2h1v1h-1zM137.2 429.8h1v1h-1zM154.8 401.4h1v1h-1zM152.2 403.1h1v1h-1zM165.1 392.7h1v1h-1zM179.2 383.3h1v1h-1zM147.6 407.7h1v1h-1zM159.8 397.0h1v1h-1zM176.6 381.9h1v1h-1zM155.2 403.5h1v1h-1zM141.6 418.6h1v1h-1zM148.6 410.7h1v1h-1zM157.8 399.3h1v1h-1zM148.8 405.7h1v1h-1zM134.8 426.6h1v1h-1zM144.8 414.0h1v1h-1zM128.5 426.8h1v1h-1zM147.2 410.0h1v1h-1zM143.3 410.4h1v1h-1zM144.2 410.5h1v1h-1zM130.2 427.4h1v1h-1zM142.4 413.3h1v1h-1zM180.1 385.4h1v1h-1zM177.6 389.9h1v1h-1zM130.8 422.4h1v1h-1zM117.6 437.8h1v1h-1zM162.6 395.4h1v1h-1zM150.1 409.4h1v1h-1zM164.6 393.0h1v1h-1zM174.5 385.2h1v1h-1zM160.8 395.9h1v1h-1zM129.1 434.0h1v1h-1zM166.7 395.8h1v1h-1zM119.6 430.8h1v1h-1zM133.5 419.6h1v1h-1zM143.7 412.0h1v1h-1zM119.4 432.6h1v1h-1zM161.3 395.4h1v1h-1zM173.9 387.6h1v1h-1zM165.6 392.2h1v1h-1zM151.3 408.7h1v1h-1zM146.5 407.3h1v1h-1zM173.5 391.1h1v1h-1zM142.7 410.8h1v1h-1zM175.1 387.1h1v1h-1zM120.7 431.0h1v1h-1zM128.7 430.2h1v1h-1zM137.4 427.0h1v1h-1zM167.6 389.4h1v1h-1zM164.4 394.2h1v1h-1zM167.5 397.6h1v1h-1zM142.3 411.4h1v1h-1zM184.5 377.1h1v1h-1zM182.5 381.8h1v1h-1zM167.0 398.1h1v1h-1zM160.8 397.9h1v1h-1zM121.8 434.4h1v1h-1zM150.9 406.9h1v1h-1zM182.2 377.0h1v1h-1zM168.4 388.5h1v1h-1zM164.8 399.3h1v1h-1zM141.0 415.9h1v1h-1zM188.1 376.2h1v1h-1zM156.7 399.9h1v1h-1zM122.5 430.2h1v1h-1zM150.0 405.3h1v1h-1zM144.2 410.0h1v1h-1zM165.1 396.6h1v1h-1zM139.4 414.8h1v1h-1zM155.3 402.5h1v1h-1zM183.2 377.7h1v1h-1zM143.5 420.3h1v1h-1zM131.7 424.1h1v1h-1zM145.6 416.2h1v1h-1zM156.9 405.2h1v1h-1zM134.1 423.3h1v1h-1zM159.3 399.2h1v1h-1zM168.7 396.6h1v1h-1zM129.1 424.0h1v1h-1zM147.2 407.8h1v1h-1zM122.7 429.5h1v1h-1zM136.4 421.9h1v1h-1zM151.9 403.2h1v1h-1zM145.1 411.6h1v1h-1zM147.3 407.5h1v1h-1zM124.2 426.6h1v1h-1zM193.5 373.3h1v1h-1zM125.7 431.4h1v1h-1zM190.3 373.4h1v1h-1zM128.5 426.1h1v1h-1zM151.2 404.2h1v1h-1zM156.6 398.6h1v1h-1zM181.3 382.2h1v1h-1zM160.8 408.1h1v1h-1zM162.1 395.2h1v1h-1zM140.0 413.7h1v1h-1zM117.2 439.8h1v1h-1zM173.9 385.3h1v1h-1zM135.5 421.7h1v1h-1zM174.4 395.7h1v1h-1zM134.1 425.5h1v1h-1zM173.2 390.7h1v1h-1zM145.2 409.4h1v1h-1zM172.8 386.4h1v1h-1zM147.6 410.2h1v1h-1zM147.7 414.8h1v1h-1zM139.5 413.6h1v1h-1zM157.7 402.3h1v1h-1zM172.4 390.8h1v1h-1zM179.7 392.5h1v1h-1zM154.3 403.9h1v1h-1zM133.1 420.6h1v1h-1zM158.4 397.4h1v1h-1zM164.0 393.0h1v1h-1zM151.7 419.6h1v1h-1zM126.4 424.9h1v1h-1zM151.5 404.0h1v1h-1zM166.0 390.4h1v1h-1zM174.0 392.8h1v1h-1zM170.1 389.6h1v1h-1zM142.5 416.0h1v1h-1zM155.3 402.4h1v1h-1zM145.9 410.6h1v1h-1zM162.8 401.6h1v1h-1zM179.6 379.5h1v1h-1zM143.3 412.9h1v1h-1zM157.6 399.8h1v1h-1zM136.2 416.6h1v1h-1zM145.0 411.6h1v1h-1zM188.4 382.5h1v1h-1zM176.0 399.4h1v1h-1zM186.8 377.1h1v1h-1zM171.8 385.7h1v1h-1zM163.4 397.2h1v1h-1zM143.4 414.1h1v1h-1zM185.4 376.8h1v1h-1zM161.8 395.8h1v1h-1zM146.2 418.0h1v1h-1zM117.2 433.6h1v1h-1zM163.5 395.5h1v1h-1zM125.9 430.4h1v1h-1zM147.8 410.3h1v1h-1zM150.3 407.7h1v1h-1zM157.6 400.1h1v1h-1zM129.0 423.4h1v1h-1zM178.3 383.7h1v1h-1zM128.8 432.1h1v1h-1zM140.5 413.0h1v1h-1zM156.0 400.4h1v1h-1zM154.0 404.7h1v1h-1zM138.6 418.2h1v1h-1zM128.9 426.0h1v1h-1zM158.8 397.1h1v1h-1zM149.8 404.8h1v1h-1zM151.5 412.6h1v1h-1zM157.0 404.3h1v1h-1zM168.1 389.2h1v1h-1zM193.0 373.2h1v1h-1zM127.8 432.0h1v1h-1zM149.0 406.1h1v1h-1zM186.5 376.7h1v1h-1zM169.3 388.3h1v1h-1zM169.4 387.8h1v1h-1zM139.3 415.8h1v1h-1zM114.2 439.6h1v1h-1zM137.6 416.7h1v1h-1zM165.1 393.9h1v1h-1zM178.1 384.6h1v1h-1zM176.6 385.2h1v1h-1zM181.0 387.3h1v1h-1zM134.0 424.7h1v1h-1zM146.1 414.6h1v1h-1zM163.6 400.9h1v1h-1zM129.9 423.9h1v1h-1zM166.9 403.9h1v1h-1zM165.9 390.7h1v1h-1zM159.5 396.5h1v1h-1zM156.9 406.1h1v1h-1zM128.9 435.0h1v1h-1zM163.3 394.2h1v1h-1zM136.1 419.2h1v1h-1zM173.8 387.9h1v1h-1zM129.0 422.6h1v1h-1zM128.6 430.5h1v1h-1zM135.4 420.8h1v1h-1zM142.9 416.0h1v1h-1zM148.3 406.5h1v1h-1zM176.9 384.7h1v1h-1zM164.1 400.0h1v1h-1zM184.9 374.2h1v1h-1zM146.1 408.4h1v1h-1zM154.6 410.2h1v1h-1zM171.0 386.3h1v1h-1zM135.2 425.3h1v1h-1zM163.5 395.0h1v1h-1zM153.4 402.2h1v1h-1zM174.4 385.6h1v1h-1zM176.7 385.7h1v1h-1zM124.7 428.1h1v1h-1zM137.8 425.6h1v1h-1zM158.8 396.9h1v1h-1zM134.2 420.1h1v1h-1zM153.0 405.9h1v1h-1zM148.7 407.5h1v1h-1zM111.0 442.2h1v1h-1zM145.6 408.2h1v1h-1zM152.5 422.8h1v1h-1zM120.4 430.6h1v1h-1zM163.1 394.5h1v1h-1zM141.8 414.7h1v1h-1zM141.1 416.1h1v1h-1zM155.9 414.3h1v1h-1zM193.5 366.8h1v1h-1zM157.4 404.9h1v1h-1zM176.6 388.4h1v1h-1zM161.0 399.6h1v1h-1zM147.3 408.2h1v1h-1zM170.7 396.3h1v1h-1zM183.5 380.8h1v1h-1zM143.8 416.6h1v1h-1zM167.0 393.0h1v1h-1zM161.1 396.7h1v1h-1zM157.0 400.7h1v1h-1zM122.7 429.9h1v1h-1zM145.0 430.1h1v1h-1zM153.6 403.3h1v1h-1zM139.8 414.4h1v1h-1zM146.5 408.0h1v1h-1zM111.6 447.4h1v1h-1zM152.2 405.2h1v1h-1zM157.8 399.2h1v1h-1zM134.1 418.4h1v1h-1zM143.6 411.6h1v1h-1zM166.2 394.1h1v1h-1zM183.4 377.4h1v1h-1zM181.5 381.3h1v1h-1zM125.2 426.6h1v1h-1zM158.4 418.1h1v1h-1zM147.0 414.1h1v1h-1zM150.9 413.2h1v1h-1zM123.7 430.2h1v1h-1zM179.1 380.6h1v1h-1zM140.8 412.4h1v1h-1zM133.7 419.9h1v1h-1zM164.9 392.5h1v1h-1zM149.4 405.9h1v1h-1zM159.5 405.7h1v1h-1zM161.8 395.1h1v1h-1zM166.7 405.7h1v1h-1zM159.4 396.5h1v1h-1zM171.7 395.6h1v1h-1zM146.1 408.4h1v1h-1zM135.7 420.4h1v1h-1zM176.9 385.9h1v1h-1zM181.6 378.1h1v1h-1zM145.2 415.1h1v1h-1zM161.9 396.5h1v1h-1zM163.5 394.6h1v1h-1zM122.2 430.9h1v1h-1zM120.4 434.6h1v1h-1z"/>
<polygon points="75.0,461.4 76.6,460.1 78.1,458.8 79.6,457.4 81.1,456.1 82.7,451.8 84.2,449.4 85.7,447.3 87.2,445.4 88.7,443.7 90.3,442.2 91.8,440.7 93.3,439.3 94.8,437.9 96.4,436.5 97.9,435.0 99.4,433.5 100.9,432.0 102.4,430.5 104.0,429.1 105.5,427.6 107.0,426.1 108.5,424.6 110.1,423.1 111.6,421.6 113.1,420.3 114.6,418.9 116.1,417.6 117.7,416.2 119.2,414.9 120.7,413.5 122.2,412.1 123.7,410.8 125.3,409.4 126.8,408.1 128.3,406.7 129.8,405.4 131.4,404.0 132.9,402.7 134.4,401.3 135.9,400.0 137.4,398.6 139.0,397.3 140.5,396.0 142.0,394.7 143.5,393.5 145.1,392.3 146.6,391.0 148.1,389.8 149.6,388.5 151.1,387.3 152.7,386.1 154.2,384.8 155.7,383.6 157.2,382.4 158.8,381.1 160.3,379.9 161.8,378.6 163.3,377.5 164.8,376.3 166.4,375.2 167.9,374.0 169.4,372.9 170.9,371.7 172.5,370.6 174.0,369.4 175.5,368.3 177.0,367.1 178.5,366.0 180.1,364.8 181.6,363.7 183.1,362.6 184.6,361.6 186.2,360.6 187.7,359.6 189.2,358.7 190.7,357.8 192.2,357.0 193.8,356.3 195.3,355.7 196.8,356.1 196.8,356.1 195.3,359.5 193.8,361.8 192.2,363.9 190.7,365.9 189.2,367.8 187.7,369.6 186.2,371.5 184.6,373.2 183.1,374.9 181.6,376.6 180.1,378.2 178.5,379.6 177.0,381.0 175.5,382.4 174.0,383.7 172.5,385.1 170.9,386.5 169.4,387.9 167.9,389.3 166.4,390.7 164.8,392.0 163.3,393.4 161.8,394.8 160.3,396.2 158.8,397.5 157.2,398.8 155.7,400.2 154.2,401.5 152.7,402.9 151.1,404.2 149.6,405.6 148.1,406.9 146.6,408.2 145.1,409.6 143.5,410.9 142.0,412.3 140.5,413.6 139.0,414.9 137.4,416.2 135.9,417.5 134.4,418.8 132.9,420.1 131.4,421.4 129.8,422.7 128.3,424.0 126.8,425.3 125.3,426.6 123.7,427.9 122.2,429.2 120.7,430.5 119.2,431.8 117.7,433.1 116.1,434.4 114.6,435.7 113.1,437.0 111.6,438.2 110.1,439.5 108.5,440.7 107.0,441.9 105.5,443.1 104.0,444.3 102.4,445.5 100.9,446.7 99.4,447.9 97.9,449.1 96.4,450.3 94.8,451.5 93.3,452.7 91.8,453.9 90.3,455.0 88.7,456.1 87.2,456.9 85.7,457.6 84.2,458.1 82.7,458.1 81.1,456.1 79.6,457.4 78.1,458.8 76.6,460.1 75.0,461.4" fill="#bebebe" stroke="#bebebe" stroke-width="1.2" stroke-linejoin="round"/>
<line x1="39.5" y1="482.6" x2="217.4" y2="328.6" stroke="#333" stroke-width="1.2" stroke-dasharray="4 2.8"/>
<line x1="39.5" y1="501.8" x2="217.4" y2="347.9" stroke="#333" stroke-width="1.2" stroke-dasharray="4 2.8"/>
<text x="76.60" y="371.30" font-size="8.2" text-anchor="start" fill="#4f9ee0" font-family='"Liberation Sans", sans-serif'>THBS1</text>
<line x1="106.10" y1="369.00" x2="112.70" y2="369.00" stroke="#4f9ee0" stroke-width="1.4"/>
<line x1="109.40" y1="365.70" x2="109.40" y2="372.30" stroke="#4f9ee0" stroke-width="1.4"/>
<text x="103.00" y="376.30" font-size="8.2" text-anchor="start" fill="#e38b25" font-family='"Liberation Sans", sans-serif'>PAEP</text>
<line x1="125.20" y1="373.30" x2="131.80" y2="373.30" stroke="#e38b25" stroke-width="1.4"/>
<line x1="128.50" y1="370.00" x2="128.50" y2="376.60" stroke="#e38b25" stroke-width="1.4"/>
<text x="88.30" y="383.70" font-size="8.2" text-anchor="start" fill="#9050cc" font-family='"Liberation Sans", sans-serif'>PDGFB</text>
<line x1="118.40" y1="381.20" x2="125.00" y2="381.20" stroke="#9050cc" stroke-width="1.4"/>
<line x1="121.70" y1="377.90" x2="121.70" y2="384.50" stroke="#9050cc" stroke-width="1.4"/>
<text x="139.80" y="370.40" font-size="8.2" text-anchor="start" fill="#2b2e8e" font-family='"Liberation Sans", sans-serif'>ITGB3</text>
<line x1="147.80" y1="375.40" x2="154.40" y2="375.40" stroke="#2b2e8e" stroke-width="1.4"/>
<line x1="151.10" y1="372.10" x2="151.10" y2="378.70" stroke="#2b2e8e" stroke-width="1.4"/>
<text x="128.90" y="405.50" font-size="8.2" text-anchor="start" fill="#8a44c0" font-family='"Liberation Sans", sans-serif'>TRPV6</text>
<line x1="139.10" y1="410.50" x2="145.70" y2="410.50" stroke="#8a44c0" stroke-width="1.4"/>
<line x1="142.40" y1="407.20" x2="142.40" y2="413.80" stroke="#8a44c0" stroke-width="1.4"/>
</g>
<rect x="56.80" y="352.70" width="144.00" height="124.60" fill="none" stroke="#3a3a3a" stroke-width="1"/>
<line x1="52.00" y1="472.94" x2="56.80" y2="472.94" stroke="#333" stroke-width="1"/>
<text transform="translate(45.20 472.94) rotate(-90) scale(0.9 1)" font-size="10" font-weight="bold" text-anchor="middle" font-family='"Liberation Sans", sans-serif'>2</text>
<line x1="61.70" y1="477.30" x2="61.70" y2="482.50" stroke="#333" stroke-width="1"/>
<text x="0.00" y="0.00" font-size="10" font-weight="bold" text-anchor="middle" fill="#000" font-family='"Liberation Sans", sans-serif' transform="translate(61.70 495.90) scale(0.9 1)">2</text>
<line x1="52.00" y1="453.70" x2="56.80" y2="453.70" stroke="#333" stroke-width="1"/>
<text transform="translate(45.20 453.70) rotate(-90) scale(0.9 1)" font-size="10" font-weight="bold" text-anchor="middle" font-family='"Liberation Sans", sans-serif'>4</text>
<line x1="83.94" y1="477.30" x2="83.94" y2="482.50" stroke="#333" stroke-width="1"/>
<text x="0.00" y="0.00" font-size="10" font-weight="bold" text-anchor="middle" fill="#000" font-family='"Liberation Sans", sans-serif' transform="translate(83.94 495.90) scale(0.9 1)">4</text>
<line x1="52.00" y1="434.46" x2="56.80" y2="434.46" stroke="#333" stroke-width="1"/>
<text transform="translate(45.20 434.46) rotate(-90) scale(0.9 1)" font-size="10" font-weight="bold" text-anchor="middle" font-family='"Liberation Sans", sans-serif'>6</text>
<line x1="106.18" y1="477.30" x2="106.18" y2="482.50" stroke="#333" stroke-width="1"/>
<text x="0.00" y="0.00" font-size="10" font-weight="bold" text-anchor="middle" fill="#000" font-family='"Liberation Sans", sans-serif' transform="translate(106.18 495.90) scale(0.9 1)">6</text>
<line x1="52.00" y1="415.22" x2="56.80" y2="415.22" stroke="#333" stroke-width="1"/>
<text transform="translate(45.20 415.22) rotate(-90) scale(0.9 1)" font-size="10" font-weight="bold" text-anchor="middle" font-family='"Liberation Sans", sans-serif'>8</text>
<line x1="128.42" y1="477.30" x2="128.42" y2="482.50" stroke="#333" stroke-width="1"/>
<text x="0.00" y="0.00" font-size="10" font-weight="bold" text-anchor="middle" fill="#000" font-family='"Liberation Sans", sans-serif' transform="translate(128.42 495.90) scale(0.9 1)">8</text>
<line x1="52.00" y1="395.98" x2="56.80" y2="395.98" stroke="#333" stroke-width="1"/>
<text transform="translate(45.20 395.98) rotate(-90) scale(0.9 1)" font-size="10" font-weight="bold" text-anchor="middle" font-family='"Liberation Sans", sans-serif'>10</text>
<line x1="150.66" y1="477.30" x2="150.66" y2="482.50" stroke="#333" stroke-width="1"/>
<text x="0.00" y="0.00" font-size="10" font-weight="bold" text-anchor="middle" fill="#000" font-family='"Liberation Sans", sans-serif' transform="translate(150.66 495.90) scale(0.9 1)">10</text>
<line x1="52.00" y1="376.74" x2="56.80" y2="376.74" stroke="#333" stroke-width="1"/>
<text transform="translate(45.20 376.74) rotate(-90) scale(0.9 1)" font-size="10" font-weight="bold" text-anchor="middle" font-family='"Liberation Sans", sans-serif'>12</text>
<line x1="172.90" y1="477.30" x2="172.90" y2="482.50" stroke="#333" stroke-width="1"/>
<text x="0.00" y="0.00" font-size="10" font-weight="bold" text-anchor="middle" fill="#000" font-family='"Liberation Sans", sans-serif' transform="translate(172.90 495.90) scale(0.9 1)">12</text>
<line x1="52.00" y1="357.50" x2="56.80" y2="357.50" stroke="#333" stroke-width="1"/>
<text transform="translate(45.20 357.50) rotate(-90) scale(0.9 1)" font-size="10" font-weight="bold" text-anchor="middle" font-family='"Liberation Sans", sans-serif'>14</text>
<line x1="195.14" y1="477.30" x2="195.14" y2="482.50" stroke="#333" stroke-width="1"/>
<text x="0.00" y="0.00" font-size="10" font-weight="bold" text-anchor="middle" fill="#000" font-family='"Liberation Sans", sans-serif' transform="translate(195.14 495.90) scale(0.9 1)">14</text>
<text x="128.80" y="337.60" font-size="10.4" font-weight="bold" text-anchor="middle" fill="#000" font-family='"Liberation Sans", sans-serif'>TPA Induction</text>
<text x="128.80" y="515.60" font-size="10.4" font-weight="bold" text-anchor="middle" fill="#000" font-family='"Liberation Sans", sans-serif'>Expression at K562</text>
<text x="24.20" y="415.70" font-size="10.4" font-weight="bold" text-anchor="middle" fill="#000" font-family='"Liberation Sans", sans-serif' transform="rotate(-90 24.2 415.7)">Expression at K562+TPA</text>
<clipPath id="sc2"><rect x="347.7" y="352.7" width="143.10000000000002" height="124.60000000000002"/></clipPath>
<g clip-path="url(#sc2)">
<path fill="#bcbcbc" d="M438.8 403.2h1.2v1.2h-1.2zM416.8 405.6h1.2v1.2h-1.2zM414.4 433.6h1.2v1.2h-1.2zM415.2 407.1h1.2v1.2h-1.2zM417.9 406.2h1.2v1.2h-1.2zM437.2 408.8h1.2v1.2h-1.2zM410.3 405.3h1.2v1.2h-1.2zM411.3 447.8h1.2v1.2h-1.2zM445.5 406.0h1.2v1.2h-1.2zM418.4 405.4h1.2v1.2h-1.2zM367.2 448.9h1.2v1.2h-1.2zM421.2 390.9h1.2v1.2h-1.2zM451.9 377.2h1.2v1.2h-1.2zM400.4 445.8h1.2v1.2h-1.2zM395.9 420.4h1.2v1.2h-1.2zM414.5 428.4h1.2v1.2h-1.2zM443.7 383.8h1.2v1.2h-1.2zM421.2 389.3h1.2v1.2h-1.2zM410.7 408.0h1.2v1.2h-1.2zM443.1 384.0h1.2v1.2h-1.2zM424.0 424.2h1.2v1.2h-1.2zM413.8 406.6h1.2v1.2h-1.2zM379.8 458.3h1.2v1.2h-1.2zM451.3 372.1h1.2v1.2h-1.2zM460.7 391.7h1.2v1.2h-1.2zM448.1 373.5h1.2v1.2h-1.2zM396.3 414.3h1.2v1.2h-1.2zM385.7 426.6h1.2v1.2h-1.2zM466.5 361.2h1.2v1.2h-1.2zM391.5 424.3h1.2v1.2h-1.2zM458.8 385.6h1.2v1.2h-1.2zM391.3 419.2h1.2v1.2h-1.2zM443.4 381.1h1.2v1.2h-1.2zM384.8 456.4h1.2v1.2h-1.2zM431.3 387.5h1.2v1.2h-1.2zM388.2 426.5h1.2v1.2h-1.2zM460.9 352.8h1.2v1.2h-1.2zM402.9 435.0h1.2v1.2h-1.2zM416.8 400.6h1.2v1.2h-1.2zM462.1 365.2h1.2v1.2h-1.2zM451.5 377.5h1.2v1.2h-1.2zM401.4 412.4h1.2v1.2h-1.2zM398.0 441.5h1.2v1.2h-1.2zM461.1 362.6h1.2v1.2h-1.2zM406.5 409.3h1.2v1.2h-1.2zM381.6 452.0h1.2v1.2h-1.2zM421.4 399.6h1.2v1.2h-1.2zM442.2 384.8h1.2v1.2h-1.2zM407.1 432.1h1.2v1.2h-1.2zM392.5 424.6h1.2v1.2h-1.2zM393.0 426.2h1.2v1.2h-1.2zM453.6 373.4h1.2v1.2h-1.2zM419.7 403.6h1.2v1.2h-1.2zM432.3 412.4h1.2v1.2h-1.2zM374.8 459.1h1.2v1.2h-1.2zM403.0 418.4h1.2v1.2h-1.2zM455.4 369.4h1.2v1.2h-1.2zM398.6 423.0h1.2v1.2h-1.2zM380.5 459.9h1.2v1.2h-1.2zM399.5 450.9h1.2v1.2h-1.2zM376.9 464.2h1.2v1.2h-1.2zM406.4 439.2h1.2v1.2h-1.2zM444.7 410.5h1.2v1.2h-1.2zM464.2 381.0h1.2v1.2h-1.2zM391.3 450.2h1.2v1.2h-1.2zM405.7 390.6h1.2v1.2h-1.2zM415.6 431.4h1.2v1.2h-1.2zM406.9 409.2h1.2v1.2h-1.2zM430.8 380.3h1.2v1.2h-1.2zM437.7 383.6h1.2v1.2h-1.2zM463.5 359.7h1.2v1.2h-1.2zM443.8 408.5h1.2v1.2h-1.2zM423.9 424.0h1.2v1.2h-1.2zM441.8 385.0h1.2v1.2h-1.2zM419.4 388.1h1.2v1.2h-1.2zM465.4 352.7h1.2v1.2h-1.2zM442.1 374.9h1.2v1.2h-1.2zM458.2 366.7h1.2v1.2h-1.2zM441.7 401.4h1.2v1.2h-1.2zM442.8 400.6h1.2v1.2h-1.2zM446.5 408.8h1.2v1.2h-1.2zM410.6 407.1h1.2v1.2h-1.2zM447.8 379.5h1.2v1.2h-1.2zM406.2 437.9h1.2v1.2h-1.2zM442.7 401.5h1.2v1.2h-1.2zM444.9 400.7h1.2v1.2h-1.2zM414.0 409.6h1.2v1.2h-1.2zM448.9 377.1h1.2v1.2h-1.2zM433.4 412.5h1.2v1.2h-1.2zM407.7 397.5h1.2v1.2h-1.2zM397.8 419.9h1.2v1.2h-1.2zM455.9 388.3h1.2v1.2h-1.2zM409.8 443.7h1.2v1.2h-1.2zM478.2 353.8h1.2v1.2h-1.2zM392.3 418.0h1.2v1.2h-1.2zM419.0 405.8h1.2v1.2h-1.2zM385.7 458.6h1.2v1.2h-1.2zM408.6 402.4h1.2v1.2h-1.2zM430.2 410.9h1.2v1.2h-1.2zM408.6 432.3h1.2v1.2h-1.2zM418.6 421.4h1.2v1.2h-1.2zM416.9 432.4h1.2v1.2h-1.2zM431.8 410.5h1.2v1.2h-1.2zM375.7 465.1h1.2v1.2h-1.2zM405.3 408.1h1.2v1.2h-1.2zM455.5 362.1h1.2v1.2h-1.2zM390.6 447.1h1.2v1.2h-1.2zM402.2 440.1h1.2v1.2h-1.2zM411.5 406.6h1.2v1.2h-1.2zM474.0 374.5h1.2v1.2h-1.2zM431.1 415.3h1.2v1.2h-1.2zM408.9 405.8h1.2v1.2h-1.2zM401.9 419.9h1.2v1.2h-1.2zM446.6 377.2h1.2v1.2h-1.2zM453.4 373.7h1.2v1.2h-1.2zM393.1 420.7h1.2v1.2h-1.2zM404.4 416.8h1.2v1.2h-1.2zM470.5 361.1h1.2v1.2h-1.2zM412.7 409.2h1.2v1.2h-1.2zM409.2 410.6h1.2v1.2h-1.2zM458.3 371.3h1.2v1.2h-1.2zM413.5 409.4h1.2v1.2h-1.2zM441.1 404.3h1.2v1.2h-1.2zM404.6 414.9h1.2v1.2h-1.2zM414.9 402.1h1.2v1.2h-1.2zM401.8 440.8h1.2v1.2h-1.2zM407.7 411.2h1.2v1.2h-1.2zM376.9 431.7h1.2v1.2h-1.2zM446.7 396.0h1.2v1.2h-1.2zM444.4 398.7h1.2v1.2h-1.2zM470.7 354.1h1.2v1.2h-1.2zM409.8 435.2h1.2v1.2h-1.2zM409.7 428.6h1.2v1.2h-1.2zM419.4 425.6h1.2v1.2h-1.2zM417.2 404.8h1.2v1.2h-1.2zM422.9 419.9h1.2v1.2h-1.2zM438.6 415.4h1.2v1.2h-1.2zM437.4 389.8h1.2v1.2h-1.2zM453.6 394.4h1.2v1.2h-1.2zM425.6 420.4h1.2v1.2h-1.2zM401.7 414.8h1.2v1.2h-1.2zM384.9 434.6h1.2v1.2h-1.2zM431.1 384.2h1.2v1.2h-1.2zM433.2 382.9h1.2v1.2h-1.2zM405.3 415.6h1.2v1.2h-1.2zM380.0 457.0h1.2v1.2h-1.2zM422.1 401.8h1.2v1.2h-1.2zM374.2 460.6h1.2v1.2h-1.2zM410.2 432.0h1.2v1.2h-1.2zM482.4 348.7h1.2v1.2h-1.2zM405.6 446.5h1.2v1.2h-1.2zM477.1 351.6h1.2v1.2h-1.2zM413.8 430.0h1.2v1.2h-1.2zM402.3 417.1h1.2v1.2h-1.2zM412.7 428.7h1.2v1.2h-1.2zM421.5 417.4h1.2v1.2h-1.2zM437.9 420.1h1.2v1.2h-1.2zM465.9 357.7h1.2v1.2h-1.2zM392.5 454.7h1.2v1.2h-1.2zM403.9 446.7h1.2v1.2h-1.2zM456.7 371.1h1.2v1.2h-1.2zM479.2 370.4h1.2v1.2h-1.2zM446.1 398.8h1.2v1.2h-1.2zM388.9 428.2h1.2v1.2h-1.2zM417.6 405.1h1.2v1.2h-1.2zM434.2 373.2h1.2v1.2h-1.2zM412.6 426.4h1.2v1.2h-1.2zM436.4 409.9h1.2v1.2h-1.2zM448.5 374.5h1.2v1.2h-1.2zM389.5 430.6h1.2v1.2h-1.2zM408.8 402.5h1.2v1.2h-1.2zM414.5 396.2h1.2v1.2h-1.2zM454.6 368.9h1.2v1.2h-1.2zM423.5 397.8h1.2v1.2h-1.2zM381.3 454.4h1.2v1.2h-1.2zM435.6 387.2h1.2v1.2h-1.2zM424.6 400.4h1.2v1.2h-1.2zM398.2 443.0h1.2v1.2h-1.2zM446.3 377.5h1.2v1.2h-1.2zM399.1 422.8h1.2v1.2h-1.2zM462.2 388.3h1.2v1.2h-1.2zM400.8 444.0h1.2v1.2h-1.2zM391.5 419.5h1.2v1.2h-1.2zM426.3 415.7h1.2v1.2h-1.2zM367.9 446.6h1.2v1.2h-1.2zM437.6 377.7h1.2v1.2h-1.2zM414.1 406.0h1.2v1.2h-1.2zM396.4 421.7h1.2v1.2h-1.2zM412.1 397.5h1.2v1.2h-1.2zM420.4 393.7h1.2v1.2h-1.2zM407.1 409.1h1.2v1.2h-1.2zM449.6 376.6h1.2v1.2h-1.2zM449.4 378.1h1.2v1.2h-1.2zM439.4 386.2h1.2v1.2h-1.2zM474.2 353.5h1.2v1.2h-1.2zM432.6 409.5h1.2v1.2h-1.2zM410.6 429.6h1.2v1.2h-1.2zM459.6 385.5h1.2v1.2h-1.2zM436.4 390.6h1.2v1.2h-1.2zM448.0 407.0h1.2v1.2h-1.2zM434.8 383.8h1.2v1.2h-1.2zM475.0 376.0h1.2v1.2h-1.2zM439.4 412.5h1.2v1.2h-1.2zM447.9 370.7h1.2v1.2h-1.2zM454.7 373.3h1.2v1.2h-1.2zM440.7 379.8h1.2v1.2h-1.2zM419.4 422.4h1.2v1.2h-1.2zM408.0 445.5h1.2v1.2h-1.2zM463.7 382.8h1.2v1.2h-1.2zM410.7 406.4h1.2v1.2h-1.2zM457.9 370.4h1.2v1.2h-1.2zM478.7 344.8h1.2v1.2h-1.2zM393.6 447.2h1.2v1.2h-1.2zM469.8 375.8h1.2v1.2h-1.2zM429.3 412.9h1.2v1.2h-1.2zM380.7 452.6h1.2v1.2h-1.2zM381.2 435.4h1.2v1.2h-1.2zM387.2 464.7h1.2v1.2h-1.2zM403.7 437.3h1.2v1.2h-1.2zM413.2 408.8h1.2v1.2h-1.2zM436.0 378.6h1.2v1.2h-1.2zM406.4 410.1h1.2v1.2h-1.2zM447.4 369.5h1.2v1.2h-1.2zM401.9 440.1h1.2v1.2h-1.2zM368.8 447.4h1.2v1.2h-1.2zM391.9 415.8h1.2v1.2h-1.2zM429.6 414.7h1.2v1.2h-1.2zM390.5 414.0h1.2v1.2h-1.2zM409.0 404.7h1.2v1.2h-1.2zM400.0 436.0h1.2v1.2h-1.2zM387.0 430.7h1.2v1.2h-1.2zM397.4 424.2h1.2v1.2h-1.2zM409.1 429.4h1.2v1.2h-1.2zM415.0 404.9h1.2v1.2h-1.2zM452.3 369.5h1.2v1.2h-1.2zM398.6 419.2h1.2v1.2h-1.2zM412.8 410.9h1.2v1.2h-1.2zM387.8 430.5h1.2v1.2h-1.2zM437.5 413.6h1.2v1.2h-1.2zM450.7 366.6h1.2v1.2h-1.2zM418.8 397.2h1.2v1.2h-1.2zM399.0 419.8h1.2v1.2h-1.2zM396.8 414.0h1.2v1.2h-1.2zM414.3 394.1h1.2v1.2h-1.2zM436.3 387.4h1.2v1.2h-1.2zM387.9 446.4h1.2v1.2h-1.2zM408.1 440.2h1.2v1.2h-1.2zM424.5 400.7h1.2v1.2h-1.2zM457.1 372.9h1.2v1.2h-1.2zM423.3 399.0h1.2v1.2h-1.2zM369.9 447.6h1.2v1.2h-1.2zM417.9 402.1h1.2v1.2h-1.2zM395.9 413.9h1.2v1.2h-1.2zM418.6 429.6h1.2v1.2h-1.2zM379.6 455.6h1.2v1.2h-1.2zM398.6 423.1h1.2v1.2h-1.2zM413.7 405.3h1.2v1.2h-1.2zM410.7 408.1h1.2v1.2h-1.2zM451.0 393.2h1.2v1.2h-1.2zM410.7 396.2h1.2v1.2h-1.2zM452.4 358.5h1.2v1.2h-1.2zM411.5 436.6h1.2v1.2h-1.2zM429.5 417.5h1.2v1.2h-1.2zM456.7 388.1h1.2v1.2h-1.2zM422.3 402.7h1.2v1.2h-1.2zM400.3 414.5h1.2v1.2h-1.2zM398.8 437.1h1.2v1.2h-1.2zM431.2 392.5h1.2v1.2h-1.2zM415.0 428.6h1.2v1.2h-1.2zM394.0 446.8h1.2v1.2h-1.2zM469.1 358.9h1.2v1.2h-1.2zM407.5 406.1h1.2v1.2h-1.2zM464.6 380.3h1.2v1.2h-1.2zM371.5 443.0h1.2v1.2h-1.2zM469.3 360.4h1.2v1.2h-1.2zM439.9 386.6h1.2v1.2h-1.2zM427.5 416.3h1.2v1.2h-1.2zM433.7 392.8h1.2v1.2h-1.2zM424.7 388.9h1.2v1.2h-1.2zM449.6 376.2h1.2v1.2h-1.2zM395.6 441.0h1.2v1.2h-1.2zM370.7 468.7h1.2v1.2h-1.2zM381.7 438.1h1.2v1.2h-1.2zM434.3 391.0h1.2v1.2h-1.2zM418.7 405.1h1.2v1.2h-1.2zM404.9 433.5h1.2v1.2h-1.2zM394.7 423.4h1.2v1.2h-1.2zM432.6 411.5h1.2v1.2h-1.2zM398.2 419.6h1.2v1.2h-1.2zM442.5 408.2h1.2v1.2h-1.2zM398.4 417.8h1.2v1.2h-1.2zM421.9 401.4h1.2v1.2h-1.2zM386.6 427.9h1.2v1.2h-1.2zM411.7 410.6h1.2v1.2h-1.2zM432.5 386.8h1.2v1.2h-1.2zM440.4 386.2h1.2v1.2h-1.2zM468.4 382.6h1.2v1.2h-1.2zM435.3 389.9h1.2v1.2h-1.2zM418.0 399.6h1.2v1.2h-1.2zM453.4 363.9h1.2v1.2h-1.2zM374.6 443.8h1.2v1.2h-1.2zM366.8 459.5h1.2v1.2h-1.2zM374.7 454.8h1.2v1.2h-1.2zM377.0 444.2h1.2v1.2h-1.2zM360.1 469.6h1.2v1.2h-1.2zM375.0 452.0h1.2v1.2h-1.2zM379.3 456.0h1.2v1.2h-1.2zM369.4 454.9h1.2v1.2h-1.2zM368.7 464.3h1.2v1.2h-1.2zM367.9 458.4h1.2v1.2h-1.2zM378.0 454.6h1.2v1.2h-1.2zM368.6 457.3h1.2v1.2h-1.2zM379.7 436.6h1.2v1.2h-1.2zM368.5 465.3h1.2v1.2h-1.2zM363.0 463.0h1.2v1.2h-1.2zM380.2 448.2h1.2v1.2h-1.2zM376.3 453.8h1.2v1.2h-1.2zM376.4 445.2h1.2v1.2h-1.2zM366.2 466.1h1.2v1.2h-1.2zM376.4 442.9h1.2v1.2h-1.2zM374.8 448.7h1.2v1.2h-1.2zM368.7 454.8h1.2v1.2h-1.2zM360.9 468.7h1.2v1.2h-1.2zM382.3 451.2h1.2v1.2h-1.2zM374.3 446.7h1.2v1.2h-1.2zM373.7 456.1h1.2v1.2h-1.2zM369.2 470.0h1.2v1.2h-1.2zM373.2 450.3h1.2v1.2h-1.2zM357.8 468.9h1.2v1.2h-1.2zM375.4 448.4h1.2v1.2h-1.2zM373.5 466.1h1.2v1.2h-1.2zM377.9 447.2h1.2v1.2h-1.2zM363.7 452.7h1.2v1.2h-1.2zM374.9 450.1h1.2v1.2h-1.2zM375.9 452.5h1.2v1.2h-1.2zM372.6 453.8h1.2v1.2h-1.2zM379.6 449.1h1.2v1.2h-1.2zM365.1 461.4h1.2v1.2h-1.2zM381.6 449.4h1.2v1.2h-1.2zM376.8 451.1h1.2v1.2h-1.2zM382.3 439.9h1.2v1.2h-1.2zM378.9 454.6h1.2v1.2h-1.2zM363.7 471.8h1.2v1.2h-1.2zM370.5 453.2h1.2v1.2h-1.2zM365.7 453.8h1.2v1.2h-1.2zM358.8 472.5h1.2v1.2h-1.2zM362.7 475.8h1.2v1.2h-1.2zM375.3 456.5h1.2v1.2h-1.2zM380.7 440.8h1.2v1.2h-1.2zM366.8 454.2h1.2v1.2h-1.2zM370.3 452.0h1.2v1.2h-1.2zM361.8 458.0h1.2v1.2h-1.2zM375.9 458.5h1.2v1.2h-1.2zM378.1 459.0h1.2v1.2h-1.2zM363.2 457.0h1.2v1.2h-1.2zM382.7 450.3h1.2v1.2h-1.2zM373.3 445.4h1.2v1.2h-1.2zM366.5 454.7h1.2v1.2h-1.2zM385.3 454.9h1.2v1.2h-1.2zM373.3 456.3h1.2v1.2h-1.2zM370.2 460.7h1.2v1.2h-1.2zM372.7 461.5h1.2v1.2h-1.2zM369.1 464.9h1.2v1.2h-1.2zM368.0 453.4h1.2v1.2h-1.2zM366.1 467.9h1.2v1.2h-1.2zM362.8 461.4h1.2v1.2h-1.2zM369.0 452.4h1.2v1.2h-1.2zM378.1 449.8h1.2v1.2h-1.2zM369.8 450.6h1.2v1.2h-1.2zM380.5 443.5h1.2v1.2h-1.2zM378.3 440.3h1.2v1.2h-1.2zM375.3 448.8h1.2v1.2h-1.2zM373.1 457.0h1.2v1.2h-1.2zM366.8 464.8h1.2v1.2h-1.2zM376.6 446.9h1.2v1.2h-1.2zM380.0 443.8h1.2v1.2h-1.2zM374.5 461.2h1.2v1.2h-1.2zM373.3 453.9h1.2v1.2h-1.2zM371.3 456.1h1.2v1.2h-1.2zM370.7 455.9h1.2v1.2h-1.2zM361.4 450.9h1.2v1.2h-1.2zM375.9 451.3h1.2v1.2h-1.2zM366.1 456.5h1.2v1.2h-1.2zM378.9 452.1h1.2v1.2h-1.2zM375.8 458.5h1.2v1.2h-1.2zM368.9 462.8h1.2v1.2h-1.2zM379.6 457.1h1.2v1.2h-1.2zM379.7 450.2h1.2v1.2h-1.2zM368.6 461.9h1.2v1.2h-1.2zM363.3 459.0h1.2v1.2h-1.2zM380.7 449.4h1.2v1.2h-1.2zM374.1 458.7h1.2v1.2h-1.2zM380.8 441.8h1.2v1.2h-1.2zM376.5 448.2h1.2v1.2h-1.2zM374.0 457.1h1.2v1.2h-1.2zM367.9 457.8h1.2v1.2h-1.2zM376.2 458.1h1.2v1.2h-1.2zM381.5 434.7h1.2v1.2h-1.2zM384.4 444.8h1.2v1.2h-1.2zM364.4 454.1h1.2v1.2h-1.2zM370.9 449.2h1.2v1.2h-1.2zM383.7 441.2h1.2v1.2h-1.2zM377.9 452.2h1.2v1.2h-1.2zM382.5 441.7h1.2v1.2h-1.2zM362.1 456.5h1.2v1.2h-1.2zM362.9 471.6h1.2v1.2h-1.2zM383.4 448.0h1.2v1.2h-1.2zM372.1 458.8h1.2v1.2h-1.2zM375.1 463.1h1.2v1.2h-1.2zM381.3 448.3h1.2v1.2h-1.2zM370.2 445.9h1.2v1.2h-1.2zM375.8 450.5h1.2v1.2h-1.2zM375.9 448.9h1.2v1.2h-1.2zM381.4 445.2h1.2v1.2h-1.2zM370.9 470.6h1.2v1.2h-1.2zM367.1 455.9h1.2v1.2h-1.2zM375.6 444.4h1.2v1.2h-1.2zM377.5 446.8h1.2v1.2h-1.2zM366.1 458.5h1.2v1.2h-1.2zM379.4 463.1h1.2v1.2h-1.2zM378.6 440.0h1.2v1.2h-1.2zM374.2 455.4h1.2v1.2h-1.2zM379.3 445.2h1.2v1.2h-1.2zM376.2 458.4h1.2v1.2h-1.2zM366.7 461.6h1.2v1.2h-1.2zM380.2 442.9h1.2v1.2h-1.2zM378.4 453.5h1.2v1.2h-1.2zM362.5 444.7h1.2v1.2h-1.2zM362.6 463.6h1.2v1.2h-1.2zM383.3 442.5h1.2v1.2h-1.2zM370.8 464.0h1.2v1.2h-1.2zM373.9 445.3h1.2v1.2h-1.2zM375.5 457.3h1.2v1.2h-1.2zM383.7 441.9h1.2v1.2h-1.2zM369.1 463.3h1.2v1.2h-1.2zM365.6 460.9h1.2v1.2h-1.2zM365.8 470.1h1.2v1.2h-1.2zM372.2 454.6h1.2v1.2h-1.2zM362.5 459.7h1.2v1.2h-1.2zM381.0 447.8h1.2v1.2h-1.2zM361.8 465.1h1.2v1.2h-1.2zM368.8 459.8h1.2v1.2h-1.2zM372.0 454.1h1.2v1.2h-1.2zM372.0 460.5h1.2v1.2h-1.2zM371.7 459.3h1.2v1.2h-1.2zM383.5 445.0h1.2v1.2h-1.2zM367.0 453.7h1.2v1.2h-1.2zM370.7 450.1h1.2v1.2h-1.2zM377.1 441.5h1.2v1.2h-1.2zM371.0 453.1h1.2v1.2h-1.2zM382.4 447.3h1.2v1.2h-1.2zM370.0 450.2h1.2v1.2h-1.2zM373.9 454.3h1.2v1.2h-1.2zM371.8 446.0h1.2v1.2h-1.2zM376.9 451.8h1.2v1.2h-1.2zM374.3 446.2h1.2v1.2h-1.2zM377.1 453.5h1.2v1.2h-1.2zM363.6 466.6h1.2v1.2h-1.2zM364.6 458.5h1.2v1.2h-1.2zM366.8 455.9h1.2v1.2h-1.2zM376.0 457.7h1.2v1.2h-1.2zM368.1 447.1h1.2v1.2h-1.2zM368.4 456.1h1.2v1.2h-1.2zM376.4 447.6h1.2v1.2h-1.2zM374.6 452.1h1.2v1.2h-1.2zM376.3 440.1h1.2v1.2h-1.2zM372.2 460.8h1.2v1.2h-1.2zM372.4 459.3h1.2v1.2h-1.2zM363.9 470.6h1.2v1.2h-1.2zM371.1 444.6h1.2v1.2h-1.2zM375.6 442.7h1.2v1.2h-1.2zM380.4 441.8h1.2v1.2h-1.2zM371.1 459.9h1.2v1.2h-1.2zM368.6 452.3h1.2v1.2h-1.2zM367.5 452.1h1.2v1.2h-1.2zM373.5 446.6h1.2v1.2h-1.2zM383.6 432.9h1.2v1.2h-1.2zM383.1 447.5h1.2v1.2h-1.2zM379.7 444.7h1.2v1.2h-1.2zM384.7 442.9h1.2v1.2h-1.2z"/>
<path fill="#2b9a2b" d="M410.8 412.2h1v1h-1zM416.8 406.2h1v1h-1zM419.0 405.9h1v1h-1zM393.5 427.0h1v1h-1zM409.8 413.4h1v1h-1zM415.2 408.9h1v1h-1zM404.8 416.9h1v1h-1zM416.7 404.6h1v1h-1zM406.5 415.5h1v1h-1zM426.8 392.9h1v1h-1zM413.6 410.6h1v1h-1zM409.0 412.4h1v1h-1zM403.5 419.5h1v1h-1zM431.7 389.4h1v1h-1zM397.1 423.6h1v1h-1zM413.6 410.0h1v1h-1zM393.4 425.0h1v1h-1zM418.8 404.9h1v1h-1zM394.6 426.1h1v1h-1zM395.1 418.9h1v1h-1zM392.1 428.6h1v1h-1zM418.7 406.1h1v1h-1zM395.9 426.0h1v1h-1zM398.8 421.8h1v1h-1zM421.5 403.6h1v1h-1zM399.3 419.8h1v1h-1zM408.2 414.5h1v1h-1zM396.8 424.7h1v1h-1zM430.6 395.9h1v1h-1zM402.8 417.0h1v1h-1zM424.5 395.8h1v1h-1zM409.5 406.9h1v1h-1zM413.2 410.4h1v1h-1zM409.3 411.5h1v1h-1zM417.4 407.2h1v1h-1zM400.1 414.8h1v1h-1zM395.9 422.1h1v1h-1zM405.5 417.2h1v1h-1zM402.6 418.8h1v1h-1zM433.2 393.5h1v1h-1zM422.5 402.2h1v1h-1zM399.2 420.0h1v1h-1zM405.6 417.3h1v1h-1zM407.9 411.6h1v1h-1zM422.9 400.7h1v1h-1zM387.4 430.0h1v1h-1zM413.2 405.6h1v1h-1zM428.6 396.9h1v1h-1zM422.2 399.3h1v1h-1zM403.0 418.9h1v1h-1zM406.6 415.8h1v1h-1zM406.7 416.5h1v1h-1zM401.5 415.5h1v1h-1zM407.7 413.5h1v1h-1zM424.2 398.2h1v1h-1zM402.2 414.6h1v1h-1zM420.2 393.9h1v1h-1zM417.2 404.3h1v1h-1zM420.6 404.1h1v1h-1zM414.8 408.7h1v1h-1zM421.8 403.4h1v1h-1zM411.3 411.9h1v1h-1zM420.9 403.5h1v1h-1zM422.0 399.0h1v1h-1zM423.8 401.7h1v1h-1zM427.5 395.5h1v1h-1zM415.5 406.7h1v1h-1zM391.8 424.8h1v1h-1zM411.5 411.2h1v1h-1zM405.5 414.2h1v1h-1z"/>
<path fill="#ec2a2a" d="M452.6 395.6h1v1h-1zM431.9 411.5h1v1h-1zM431.2 415.7h1v1h-1zM425.5 416.8h1v1h-1zM450.3 397.4h1v1h-1zM435.0 429.5h1v1h-1zM430.3 418.0h1v1h-1zM438.1 415.0h1v1h-1zM430.4 418.3h1v1h-1zM416.4 428.5h1v1h-1zM440.1 405.7h1v1h-1zM459.2 389.0h1v1h-1zM433.1 418.0h1v1h-1zM448.0 403.7h1v1h-1zM408.1 432.6h1v1h-1zM449.0 397.2h1v1h-1zM440.4 414.7h1v1h-1zM432.8 413.9h1v1h-1zM453.8 398.1h1v1h-1zM473.3 377.7h1v1h-1zM448.7 398.8h1v1h-1zM429.9 416.2h1v1h-1zM422.9 420.6h1v1h-1zM446.6 406.5h1v1h-1zM477.7 376.7h1v1h-1zM422.6 424.5h1v1h-1zM451.3 398.1h1v1h-1zM463.0 385.3h1v1h-1zM439.5 420.5h1v1h-1zM466.5 388.8h1v1h-1zM441.9 405.4h1v1h-1zM453.9 395.1h1v1h-1zM427.5 416.3h1v1h-1zM439.9 404.8h1v1h-1zM401.4 439.9h1v1h-1zM450.7 396.3h1v1h-1zM440.1 406.7h1v1h-1zM461.2 388.9h1v1h-1zM449.2 405.2h1v1h-1zM448.7 401.6h1v1h-1zM463.1 392.0h1v1h-1zM436.9 407.3h1v1h-1zM453.5 393.6h1v1h-1zM437.6 421.0h1v1h-1zM431.7 413.4h1v1h-1zM423.7 419.5h1v1h-1zM444.3 401.3h1v1h-1zM425.0 417.6h1v1h-1zM430.6 412.8h1v1h-1zM438.5 414.5h1v1h-1zM438.8 409.8h1v1h-1zM423.6 418.6h1v1h-1zM421.6 422.9h1v1h-1zM468.1 381.9h1v1h-1zM436.1 410.6h1v1h-1zM434.5 413.9h1v1h-1zM442.4 407.1h1v1h-1zM449.6 398.8h1v1h-1zM462.6 386.9h1v1h-1zM429.7 415.8h1v1h-1zM450.0 397.2h1v1h-1zM433.2 420.7h1v1h-1zM443.1 402.9h1v1h-1zM465.2 384.6h1v1h-1zM422.5 424.6h1v1h-1zM453.7 394.0h1v1h-1zM438.5 406.9h1v1h-1zM460.4 389.2h1v1h-1zM463.6 386.3h1v1h-1zM431.5 413.9h1v1h-1zM452.8 394.9h1v1h-1zM434.3 415.2h1v1h-1zM441.0 404.6h1v1h-1zM455.0 394.7h1v1h-1zM405.7 433.4h1v1h-1zM454.0 393.4h1v1h-1zM411.3 431.8h1v1h-1zM449.2 416.6h1v1h-1zM441.5 403.9h1v1h-1zM463.1 385.6h1v1h-1zM450.7 398.8h1v1h-1zM415.2 434.7h1v1h-1zM443.4 401.9h1v1h-1zM411.1 428.8h1v1h-1zM448.6 397.6h1v1h-1zM421.1 422.7h1v1h-1zM446.8 401.8h1v1h-1zM470.1 380.4h1v1h-1zM427.1 424.1h1v1h-1zM474.2 377.1h1v1h-1zM422.4 420.3h1v1h-1zM450.1 397.9h1v1h-1zM447.2 399.8h1v1h-1zM453.1 395.0h1v1h-1zM459.3 389.3h1v1h-1zM434.7 422.2h1v1h-1zM462.1 386.3h1v1h-1zM422.0 422.4h1v1h-1zM401.0 447.7h1v1h-1zM440.0 408.4h1v1h-1zM435.5 410.3h1v1h-1zM449.6 404.2h1v1h-1zM466.5 388.7h1v1h-1zM430.7 413.1h1v1h-1zM461.1 397.2h1v1h-1zM455.0 399.8h1v1h-1zM430.8 414.3h1v1h-1zM444.0 405.8h1v1h-1zM438.9 411.6h1v1h-1zM414.2 435.7h1v1h-1zM420.1 427.0h1v1h-1zM461.4 387.9h1v1h-1zM464.0 388.0h1v1h-1zM416.2 424.8h1v1h-1zM458.5 392.1h1v1h-1zM427.3 422.2h1v1h-1zM415.7 428.0h1v1h-1zM424.7 418.1h1v1h-1zM433.5 429.3h1v1h-1zM475.6 376.7h1v1h-1zM454.2 396.7h1v1h-1zM457.9 396.7h1v1h-1zM438.2 409.3h1v1h-1zM419.8 421.6h1v1h-1zM472.1 380.8h1v1h-1zM418.6 423.6h1v1h-1zM426.9 415.8h1v1h-1zM438.4 410.4h1v1h-1zM460.2 389.0h1v1h-1zM438.0 415.0h1v1h-1zM432.1 412.5h1v1h-1zM419.1 422.9h1v1h-1zM422.8 419.9h1v1h-1zM421.2 424.6h1v1h-1zM452.8 399.6h1v1h-1zM425.1 423.4h1v1h-1zM468.8 387.1h1v1h-1zM440.7 407.8h1v1h-1zM415.7 435.9h1v1h-1zM447.3 400.2h1v1h-1zM462.9 388.0h1v1h-1zM441.6 403.6h1v1h-1zM419.1 423.7h1v1h-1zM428.0 416.5h1v1h-1zM451.4 395.3h1v1h-1zM459.6 395.8h1v1h-1zM470.7 380.9h1v1h-1zM468.1 382.8h1v1h-1zM430.5 413.0h1v1h-1zM418.0 425.3h1v1h-1zM442.0 410.6h1v1h-1zM433.0 417.1h1v1h-1zM441.2 411.0h1v1h-1zM433.0 411.3h1v1h-1zM468.5 389.3h1v1h-1zM412.1 429.8h1v1h-1zM424.1 418.1h1v1h-1zM456.0 393.8h1v1h-1zM463.3 392.6h1v1h-1zM448.8 397.2h1v1h-1zM436.1 410.3h1v1h-1zM442.2 404.0h1v1h-1zM461.0 391.1h1v1h-1zM403.7 435.4h1v1h-1zM455.7 397.8h1v1h-1zM428.0 419.5h1v1h-1zM431.1 415.5h1v1h-1zM448.0 402.0h1v1h-1zM470.6 382.2h1v1h-1zM428.1 415.6h1v1h-1zM473.7 378.8h1v1h-1zM421.0 425.8h1v1h-1zM432.9 412.5h1v1h-1zM419.5 422.1h1v1h-1zM443.0 403.1h1v1h-1zM439.5 406.9h1v1h-1zM435.5 408.3h1v1h-1zM411.4 429.2h1v1h-1zM451.1 399.3h1v1h-1zM426.4 417.5h1v1h-1zM434.3 412.8h1v1h-1zM425.2 421.2h1v1h-1zM437.3 413.0h1v1h-1zM443.7 401.6h1v1h-1zM414.1 426.5h1v1h-1zM445.7 400.6h1v1h-1zM439.9 406.5h1v1h-1zM420.5 421.8h1v1h-1zM461.7 390.1h1v1h-1zM421.4 420.5h1v1h-1zM456.7 390.9h1v1h-1zM444.6 402.3h1v1h-1zM431.7 414.8h1v1h-1zM449.0 397.4h1v1h-1zM446.7 401.5h1v1h-1zM415.1 425.5h1v1h-1zM425.2 417.4h1v1h-1zM414.7 438.0h1v1h-1zM431.7 414.2h1v1h-1zM425.2 419.7h1v1h-1zM436.3 407.8h1v1h-1zM441.2 420.5h1v1h-1zM415.9 426.4h1v1h-1zM423.3 420.1h1v1h-1zM454.2 399.1h1v1h-1zM454.6 392.7h1v1h-1zM438.7 408.4h1v1h-1zM448.0 406.8h1v1h-1zM409.7 440.8h1v1h-1zM417.1 423.9h1v1h-1zM442.8 405.0h1v1h-1zM447.9 400.8h1v1h-1zM428.5 418.0h1v1h-1zM400.5 440.8h1v1h-1zM458.0 389.8h1v1h-1zM458.5 389.8h1v1h-1zM434.0 409.6h1v1h-1zM409.2 435.3h1v1h-1zM474.8 381.1h1v1h-1zM452.8 399.7h1v1h-1zM468.5 387.7h1v1h-1zM442.1 404.5h1v1h-1zM438.6 406.8h1v1h-1zM439.8 405.3h1v1h-1zM428.5 415.8h1v1h-1zM435.8 408.6h1v1h-1zM440.7 407.5h1v1h-1zM448.3 402.4h1v1h-1zM426.9 420.3h1v1h-1zM433.7 411.0h1v1h-1zM448.6 401.7h1v1h-1zM449.8 397.8h1v1h-1zM432.8 411.6h1v1h-1zM451.0 396.8h1v1h-1zM425.9 423.5h1v1h-1zM447.0 401.5h1v1h-1zM428.3 415.4h1v1h-1zM407.7 436.6h1v1h-1zM446.7 409.9h1v1h-1zM425.7 416.8h1v1h-1zM453.4 397.8h1v1h-1zM433.4 411.7h1v1h-1zM448.8 409.9h1v1h-1zM458.2 390.6h1v1h-1zM430.6 413.8h1v1h-1zM420.7 426.8h1v1h-1zM457.1 394.7h1v1h-1zM460.0 388.2h1v1h-1zM452.0 394.7h1v1h-1zM461.0 388.1h1v1h-1zM443.3 401.8h1v1h-1zM434.4 409.2h1v1h-1zM433.5 412.7h1v1h-1zM447.2 399.0h1v1h-1zM405.5 435.8h1v1h-1zM429.4 418.0h1v1h-1zM461.6 388.5h1v1h-1zM442.5 402.5h1v1h-1zM431.2 414.1h1v1h-1zM439.8 405.3h1v1h-1zM430.4 413.6h1v1h-1zM461.0 397.2h1v1h-1zM426.3 417.9h1v1h-1zM443.0 402.1h1v1h-1zM453.4 395.4h1v1h-1zM452.2 404.7h1v1h-1zM410.9 429.6h1v1h-1zM444.6 413.1h1v1h-1zM441.4 407.2h1v1h-1zM416.3 427.7h1v1h-1zM436.8 407.9h1v1h-1zM437.7 406.4h1v1h-1zM415.3 426.4h1v1h-1zM436.4 408.4h1v1h-1zM448.3 407.2h1v1h-1zM421.6 421.6h1v1h-1zM433.5 411.5h1v1h-1zM459.0 389.6h1v1h-1zM444.2 401.8h1v1h-1zM414.3 429.1h1v1h-1zM417.2 425.5h1v1h-1zM431.3 416.3h1v1h-1zM431.8 418.9h1v1h-1zM433.0 410.8h1v1h-1zM446.3 400.6h1v1h-1zM435.2 412.3h1v1h-1zM437.5 409.8h1v1h-1zM449.9 396.8h1v1h-1zM467.2 384.4h1v1h-1zM439.2 405.7h1v1h-1zM421.9 422.6h1v1h-1zM427.4 415.4h1v1h-1zM444.1 402.8h1v1h-1zM430.6 412.8h1v1h-1zM438.7 406.0h1v1h-1zM430.3 414.6h1v1h-1zM444.3 406.6h1v1h-1zM425.2 421.2h1v1h-1zM442.1 405.8h1v1h-1zM437.1 418.6h1v1h-1zM445.9 401.8h1v1h-1zM449.6 401.0h1v1h-1zM422.2 424.4h1v1h-1zM404.4 438.3h1v1h-1zM455.6 393.3h1v1h-1zM457.8 395.1h1v1h-1zM431.9 412.3h1v1h-1zM412.3 430.1h1v1h-1zM417.8 424.0h1v1h-1zM428.6 430.0h1v1h-1zM458.4 393.0h1v1h-1zM453.4 399.5h1v1h-1zM454.3 394.2h1v1h-1zM415.1 430.9h1v1h-1zM444.1 402.1h1v1h-1zM448.1 401.4h1v1h-1zM437.5 414.2h1v1h-1zM428.7 425.9h1v1h-1zM426.8 416.8h1v1h-1zM425.3 424.2h1v1h-1zM433.3 411.8h1v1h-1zM406.7 441.7h1v1h-1zM458.8 389.3h1v1h-1zM432.3 418.2h1v1h-1zM435.2 409.0h1v1h-1zM462.5 387.3h1v1h-1zM452.9 396.8h1v1h-1zM432.6 411.4h1v1h-1zM428.4 415.8h1v1h-1zM433.8 410.3h1v1h-1zM436.6 411.2h1v1h-1zM427.2 420.7h1v1h-1zM443.6 401.8h1v1h-1zM452.3 399.0h1v1h-1zM452.8 397.8h1v1h-1zM436.6 414.7h1v1h-1zM423.0 420.0h1v1h-1zM439.8 405.3h1v1h-1zM458.1 389.7h1v1h-1zM422.6 419.6h1v1h-1zM438.3 407.3h1v1h-1zM439.5 405.0h1v1h-1zM463.6 384.8h1v1h-1zM451.7 396.5h1v1h-1zM424.9 419.6h1v1h-1zM449.5 398.6h1v1h-1zM445.7 401.3h1v1h-1zM412.2 430.6h1v1h-1zM420.4 424.1h1v1h-1zM416.0 438.4h1v1h-1zM410.4 429.6h1v1h-1zM427.1 417.0h1v1h-1zM426.9 417.0h1v1h-1zM433.5 418.6h1v1h-1zM417.2 423.7h1v1h-1zM431.4 414.6h1v1h-1zM452.5 395.6h1v1h-1zM408.4 434.6h1v1h-1zM463.7 385.5h1v1h-1zM413.1 431.9h1v1h-1zM436.8 410.7h1v1h-1zM455.6 391.9h1v1h-1zM435.2 412.1h1v1h-1zM446.3 400.7h1v1h-1zM442.5 404.4h1v1h-1zM458.0 390.5h1v1h-1zM459.2 388.5h1v1h-1zM444.7 405.0h1v1h-1zM438.1 407.0h1v1h-1zM448.8 398.7h1v1h-1zM445.4 402.5h1v1h-1zM405.8 434.2h1v1h-1zM443.4 402.0h1v1h-1zM446.7 402.6h1v1h-1zM430.1 416.8h1v1h-1zM417.3 424.0h1v1h-1zM464.3 387.2h1v1h-1zM433.4 411.3h1v1h-1zM439.4 405.3h1v1h-1zM440.3 412.5h1v1h-1zM434.1 410.1h1v1h-1zM468.4 383.2h1v1h-1zM455.7 394.7h1v1h-1zM428.6 414.2h1v1h-1zM437.1 408.4h1v1h-1zM436.8 409.4h1v1h-1zM420.4 422.3h1v1h-1zM464.5 385.8h1v1h-1zM441.9 403.0h1v1h-1zM436.9 409.5h1v1h-1zM442.9 402.5h1v1h-1zM463.0 386.1h1v1h-1zM449.0 398.1h1v1h-1zM418.3 422.8h1v1h-1zM420.2 421.3h1v1h-1zM415.0 427.3h1v1h-1zM419.1 425.7h1v1h-1zM427.0 419.8h1v1h-1zM409.9 430.5h1v1h-1zM465.2 385.5h1v1h-1zM457.9 389.7h1v1h-1zM447.8 401.0h1v1h-1zM428.6 414.6h1v1h-1zM436.6 409.5h1v1h-1zM429.7 415.6h1v1h-1zM414.5 430.6h1v1h-1zM425.6 418.3h1v1h-1zM439.5 408.1h1v1h-1zM435.5 410.5h1v1h-1zM465.1 387.5h1v1h-1zM444.1 415.5h1v1h-1zM445.7 405.3h1v1h-1zM413.8 427.8h1v1h-1zM427.5 415.5h1v1h-1zM437.7 407.1h1v1h-1zM446.3 400.8h1v1h-1zM445.7 399.8h1v1h-1zM423.1 422.0h1v1h-1zM436.0 410.7h1v1h-1zM450.2 397.1h1v1h-1zM442.2 403.1h1v1h-1zM465.8 393.0h1v1h-1zM473.3 380.9h1v1h-1zM426.4 424.4h1v1h-1zM464.5 398.2h1v1h-1zM428.0 418.9h1v1h-1zM430.5 416.4h1v1h-1zM456.4 398.2h1v1h-1zM421.7 421.9h1v1h-1zM424.5 417.7h1v1h-1zM420.5 422.6h1v1h-1zM456.8 395.0h1v1h-1zM429.9 414.2h1v1h-1zM403.5 436.3h1v1h-1zM403.6 438.2h1v1h-1zM398.1 441.4h1v1h-1zM427.1 415.6h1v1h-1zM448.7 398.9h1v1h-1zM426.7 424.1h1v1h-1zM433.5 424.6h1v1h-1zM418.1 423.0h1v1h-1zM448.7 405.2h1v1h-1zM441.4 404.4h1v1h-1zM441.0 404.9h1v1h-1zM423.2 424.4h1v1h-1zM452.4 396.3h1v1h-1zM462.8 391.0h1v1h-1zM431.2 415.0h1v1h-1zM416.1 427.5h1v1h-1zM463.8 387.2h1v1h-1zM464.4 388.0h1v1h-1zM437.7 409.0h1v1h-1zM416.8 428.0h1v1h-1zM426.8 420.9h1v1h-1zM418.3 424.3h1v1h-1zM437.0 413.8h1v1h-1zM421.9 421.0h1v1h-1zM413.4 426.8h1v1h-1zM438.5 413.2h1v1h-1zM435.5 418.5h1v1h-1zM443.0 402.9h1v1h-1zM439.0 407.8h1v1h-1zM439.6 407.1h1v1h-1zM474.8 376.3h1v1h-1zM403.5 435.3h1v1h-1zM436.0 416.0h1v1h-1zM468.0 386.9h1v1h-1zM442.7 403.4h1v1h-1zM427.6 415.1h1v1h-1zM441.1 405.2h1v1h-1zM435.1 411.8h1v1h-1zM453.7 393.3h1v1h-1zM451.2 400.2h1v1h-1zM446.5 405.2h1v1h-1zM455.3 393.6h1v1h-1zM442.6 403.2h1v1h-1zM451.4 395.9h1v1h-1zM441.2 409.2h1v1h-1zM462.0 397.7h1v1h-1zM407.1 434.0h1v1h-1zM449.5 403.1h1v1h-1zM438.4 407.7h1v1h-1zM448.4 397.5h1v1h-1zM430.9 412.6h1v1h-1zM453.1 396.1h1v1h-1zM453.7 394.2h1v1h-1zM425.5 421.8h1v1h-1zM443.8 403.5h1v1h-1zM426.8 416.8h1v1h-1zM432.2 412.3h1v1h-1zM441.8 421.5h1v1h-1zM405.1 435.4h1v1h-1zM464.3 388.5h1v1h-1zM434.7 415.2h1v1h-1zM412.1 428.3h1v1h-1zM418.9 425.2h1v1h-1zM442.7 406.1h1v1h-1zM439.7 408.9h1v1h-1zM455.0 398.7h1v1h-1zM454.3 392.5h1v1h-1zM458.2 389.9h1v1h-1zM451.7 401.5h1v1h-1zM455.7 394.0h1v1h-1zM455.8 393.8h1v1h-1zM447.4 402.9h1v1h-1zM442.1 403.4h1v1h-1zM441.2 408.3h1v1h-1zM459.9 390.7h1v1h-1zM446.9 402.4h1v1h-1zM451.7 395.0h1v1h-1zM428.8 418.2h1v1h-1zM454.6 392.5h1v1h-1zM432.4 412.1h1v1h-1zM413.2 427.7h1v1h-1zM446.6 399.7h1v1h-1zM446.4 402.7h1v1h-1zM437.2 407.9h1v1h-1zM426.4 424.3h1v1h-1zM452.7 396.7h1v1h-1zM418.3 423.5h1v1h-1zM428.8 415.5h1v1h-1zM431.2 416.7h1v1h-1zM445.2 401.3h1v1h-1zM462.8 389.4h1v1h-1zM442.1 404.7h1v1h-1zM427.4 416.7h1v1h-1zM451.8 396.0h1v1h-1zM472.8 378.2h1v1h-1zM456.2 394.1h1v1h-1zM418.0 426.2h1v1h-1zM462.9 386.1h1v1h-1zM440.0 405.9h1v1h-1zM438.0 422.1h1v1h-1zM463.2 393.0h1v1h-1zM419.3 428.8h1v1h-1zM458.6 400.2h1v1h-1zM406.4 444.2h1v1h-1zM433.6 411.5h1v1h-1zM450.9 396.6h1v1h-1zM423.5 427.2h1v1h-1zM414.8 427.3h1v1h-1zM433.7 411.9h1v1h-1zM460.0 394.5h1v1h-1zM433.2 410.4h1v1h-1zM440.2 405.8h1v1h-1zM470.8 379.7h1v1h-1zM435.7 414.8h1v1h-1zM443.2 403.2h1v1h-1zM426.9 417.1h1v1h-1zM437.0 412.6h1v1h-1zM424.2 418.2h1v1h-1zM432.2 425.9h1v1h-1zM426.1 420.1h1v1h-1zM440.9 403.8h1v1h-1zM412.3 430.5h1v1h-1zM433.9 421.1h1v1h-1zM429.9 414.9h1v1h-1zM446.0 399.6h1v1h-1zM438.8 408.7h1v1h-1zM444.7 402.0h1v1h-1zM425.9 416.8h1v1h-1zM454.6 395.3h1v1h-1zM432.3 417.1h1v1h-1zM446.0 401.5h1v1h-1zM423.1 426.2h1v1h-1zM440.7 404.2h1v1h-1zM431.6 416.0h1v1h-1zM403.7 439.8h1v1h-1zM452.6 396.3h1v1h-1zM425.8 418.8h1v1h-1zM449.3 400.1h1v1h-1zM433.9 409.7h1v1h-1zM458.9 390.5h1v1h-1zM434.3 411.8h1v1h-1zM424.3 423.1h1v1h-1zM451.1 395.3h1v1h-1zM451.9 396.0h1v1h-1zM398.3 442.1h1v1h-1zM451.6 396.2h1v1h-1zM449.8 396.8h1v1h-1zM440.8 406.9h1v1h-1zM423.6 419.3h1v1h-1zM415.5 428.2h1v1h-1zM442.6 405.5h1v1h-1zM417.4 424.5h1v1h-1zM415.5 426.8h1v1h-1zM428.1 433.3h1v1h-1zM428.9 421.9h1v1h-1zM441.9 410.1h1v1h-1zM466.7 383.1h1v1h-1zM430.9 413.5h1v1h-1zM460.6 391.5h1v1h-1zM430.3 418.2h1v1h-1zM428.2 414.7h1v1h-1zM433.3 410.6h1v1h-1zM426.9 416.9h1v1h-1zM430.1 416.4h1v1h-1zM449.4 402.6h1v1h-1zM453.1 395.1h1v1h-1zM431.4 417.0h1v1h-1zM443.9 407.5h1v1h-1zM459.7 390.9h1v1h-1zM426.2 420.4h1v1h-1zM432.5 413.5h1v1h-1zM423.2 419.9h1v1h-1zM470.8 381.6h1v1h-1zM409.1 430.8h1v1h-1zM420.1 421.7h1v1h-1zM453.3 395.7h1v1h-1zM457.7 390.2h1v1h-1zM451.6 401.3h1v1h-1zM431.8 419.0h1v1h-1zM432.1 426.1h1v1h-1zM423.8 424.9h1v1h-1zM417.5 433.4h1v1h-1zM450.7 395.8h1v1h-1zM466.9 385.6h1v1h-1zM449.3 399.4h1v1h-1zM435.4 408.7h1v1h-1zM464.0 388.3h1v1h-1zM438.1 408.5h1v1h-1zM441.2 405.1h1v1h-1zM413.8 434.1h1v1h-1zM436.1 427.6h1v1h-1zM466.7 385.0h1v1h-1zM449.6 396.5h1v1h-1zM463.0 387.4h1v1h-1zM454.6 392.4h1v1h-1zM462.9 385.4h1v1h-1zM419.1 431.1h1v1h-1zM424.4 423.1h1v1h-1zM446.5 399.4h1v1h-1zM435.5 408.3h1v1h-1zM435.8 422.7h1v1h-1zM416.3 436.8h1v1h-1zM449.8 399.2h1v1h-1zM439.1 405.7h1v1h-1zM439.9 405.6h1v1h-1zM458.8 389.4h1v1h-1zM426.3 418.5h1v1h-1zM442.3 407.4h1v1h-1zM439.9 406.2h1v1h-1zM404.6 435.1h1v1h-1zM418.0 423.0h1v1h-1zM462.7 390.5h1v1h-1zM448.0 407.3h1v1h-1zM429.9 414.6h1v1h-1zM441.6 406.7h1v1h-1zM421.5 424.2h1v1h-1zM453.9 393.7h1v1h-1zM424.4 420.7h1v1h-1zM450.5 399.3h1v1h-1zM440.0 410.6h1v1h-1zM445.7 401.9h1v1h-1zM439.1 411.0h1v1h-1zM418.5 423.9h1v1h-1zM436.4 408.6h1v1h-1zM434.5 410.3h1v1h-1zM468.9 380.3h1v1h-1zM449.3 398.2h1v1h-1zM443.2 402.5h1v1h-1zM404.3 453.3h1v1h-1zM429.0 414.7h1v1h-1zM411.4 440.7h1v1h-1zM426.4 418.8h1v1h-1zM453.4 394.4h1v1h-1zM425.9 429.7h1v1h-1zM457.5 392.0h1v1h-1zM471.4 382.3h1v1h-1zM419.8 424.7h1v1h-1zM412.6 434.9h1v1h-1zM438.2 424.2h1v1h-1zM444.3 403.1h1v1h-1zM435.9 414.3h1v1h-1zM449.7 397.0h1v1h-1zM432.1 412.1h1v1h-1zM436.7 408.6h1v1h-1zM449.2 403.8h1v1h-1zM466.1 384.9h1v1h-1zM416.9 426.3h1v1h-1zM445.2 400.2h1v1h-1zM418.1 423.4h1v1h-1zM430.1 418.4h1v1h-1zM440.0 406.6h1v1h-1zM428.4 415.4h1v1h-1zM427.6 420.6h1v1h-1zM421.3 420.5h1v1h-1zM424.7 418.6h1v1h-1zM451.3 396.6h1v1h-1zM434.7 424.7h1v1h-1zM436.1 409.7h1v1h-1zM469.9 382.2h1v1h-1zM434.0 409.9h1v1h-1zM459.6 391.0h1v1h-1zM437.7 407.0h1v1h-1zM422.2 422.2h1v1h-1zM441.2 406.5h1v1h-1zM436.4 408.2h1v1h-1zM424.5 422.9h1v1h-1zM431.2 412.7h1v1h-1zM428.7 417.8h1v1h-1zM453.0 398.8h1v1h-1zM445.9 399.6h1v1h-1zM421.2 422.1h1v1h-1zM455.0 393.2h1v1h-1zM426.4 425.3h1v1h-1zM432.0 420.9h1v1h-1zM427.3 416.0h1v1h-1zM445.9 404.8h1v1h-1zM429.6 413.7h1v1h-1zM454.0 399.7h1v1h-1zM447.3 399.2h1v1h-1zM414.6 426.1h1v1h-1zM444.1 401.6h1v1h-1zM436.6 409.3h1v1h-1zM421.3 422.8h1v1h-1zM439.8 409.6h1v1h-1zM416.9 424.6h1v1h-1zM440.0 406.5h1v1h-1zM449.5 400.8h1v1h-1zM409.2 430.5h1v1h-1zM430.8 414.5h1v1h-1zM452.6 394.8h1v1h-1zM457.0 390.5h1v1h-1zM447.5 401.8h1v1h-1zM420.6 421.7h1v1h-1zM418.9 423.5h1v1h-1zM418.3 424.7h1v1h-1zM441.5 407.1h1v1h-1zM414.7 432.3h1v1h-1zM458.0 399.2h1v1h-1zM440.9 409.5h1v1h-1zM417.5 423.7h1v1h-1zM458.8 390.0h1v1h-1zM441.0 406.6h1v1h-1zM453.4 407.6h1v1h-1zM430.7 415.7h1v1h-1zM447.8 399.0h1v1h-1zM420.4 425.1h1v1h-1zM454.4 393.4h1v1h-1zM439.9 419.0h1v1h-1zM432.6 412.0h1v1h-1zM457.7 395.1h1v1h-1zM433.1 415.5h1v1h-1zM453.7 393.2h1v1h-1zM423.4 418.7h1v1h-1zM454.3 394.5h1v1h-1zM441.0 405.6h1v1h-1zM414.9 426.3h1v1h-1zM419.3 424.4h1v1h-1zM454.1 399.1h1v1h-1zM410.5 429.9h1v1h-1zM452.4 395.9h1v1h-1zM451.9 396.3h1v1h-1zM460.9 390.4h1v1h-1zM438.5 413.6h1v1h-1zM452.6 394.8h1v1h-1zM449.8 400.1h1v1h-1zM433.1 418.0h1v1h-1zM437.2 410.8h1v1h-1zM440.6 404.1h1v1h-1zM460.6 391.8h1v1h-1zM456.9 391.3h1v1h-1zM448.9 400.2h1v1h-1zM473.9 376.2h1v1h-1zM418.0 425.0h1v1h-1zM431.0 413.5h1v1h-1zM413.7 438.9h1v1h-1zM441.8 403.9h1v1h-1zM443.7 410.4h1v1h-1zM466.6 393.9h1v1h-1zM413.4 427.9h1v1h-1zM418.2 433.1h1v1h-1zM455.8 392.9h1v1h-1zM425.2 417.7h1v1h-1zM411.2 429.6h1v1h-1zM446.9 400.9h1v1h-1zM429.8 421.0h1v1h-1zM448.9 398.6h1v1h-1zM429.0 415.2h1v1h-1zM444.2 405.7h1v1h-1zM459.1 399.9h1v1h-1zM438.9 406.2h1v1h-1zM450.1 396.8h1v1h-1zM401.6 437.7h1v1h-1zM443.4 406.1h1v1h-1zM431.8 414.1h1v1h-1zM430.1 420.9h1v1h-1zM443.1 402.4h1v1h-1zM464.3 385.2h1v1h-1zM476.1 381.8h1v1h-1zM427.1 422.3h1v1h-1zM427.7 415.9h1v1h-1zM442.6 422.1h1v1h-1zM458.9 392.8h1v1h-1zM405.0 440.8h1v1h-1zM427.2 417.3h1v1h-1zM426.1 423.3h1v1h-1zM415.4 425.6h1v1h-1zM448.0 398.2h1v1h-1zM413.7 437.4h1v1h-1zM463.2 385.8h1v1h-1zM440.1 413.2h1v1h-1zM446.7 402.4h1v1h-1zM441.8 404.5h1v1h-1zM457.6 391.6h1v1h-1zM442.5 408.6h1v1h-1zM436.7 408.5h1v1h-1zM443.2 401.9h1v1h-1zM415.1 426.3h1v1h-1zM427.3 428.5h1v1h-1zM459.3 388.3h1v1h-1zM451.0 396.4h1v1h-1zM405.1 434.5h1v1h-1zM443.0 403.6h1v1h-1zM413.3 427.2h1v1h-1zM425.3 427.2h1v1h-1zM431.1 413.5h1v1h-1zM421.1 423.3h1v1h-1zM431.1 413.4h1v1h-1zM416.0 426.1h1v1h-1zM462.4 389.0h1v1h-1zM446.7 399.2h1v1h-1zM444.1 405.4h1v1h-1zM438.2 408.3h1v1h-1zM436.0 409.4h1v1h-1zM441.7 403.7h1v1h-1zM444.9 402.3h1v1h-1zM447.7 401.4h1v1h-1zM464.6 386.4h1v1h-1zM458.1 390.3h1v1h-1zM471.2 379.2h1v1h-1zM438.4 412.6h1v1h-1zM463.6 384.7h1v1h-1zM412.9 428.6h1v1h-1zM406.8 434.8h1v1h-1zM423.9 421.6h1v1h-1zM467.1 384.1h1v1h-1zM441.1 407.2h1v1h-1zM400.7 438.4h1v1h-1zM459.3 388.4h1v1h-1zM429.7 417.1h1v1h-1zM416.7 427.4h1v1h-1zM440.4 405.6h1v1h-1zM472.7 393.9h1v1h-1zM450.0 397.1h1v1h-1zM408.2 438.8h1v1h-1zM444.9 401.2h1v1h-1zM462.7 385.5h1v1h-1zM431.9 411.4h1v1h-1zM470.0 390.7h1v1h-1zM400.8 437.7h1v1h-1zM449.5 407.0h1v1h-1zM453.1 393.5h1v1h-1zM415.2 437.2h1v1h-1zM440.0 409.1h1v1h-1zM417.7 423.2h1v1h-1zM470.9 382.1h1v1h-1zM453.7 403.4h1v1h-1zM414.1 428.0h1v1h-1zM431.1 422.7h1v1h-1zM411.6 428.6h1v1h-1zM475.3 377.8h1v1h-1zM440.2 407.1h1v1h-1zM435.5 416.4h1v1h-1zM459.8 392.5h1v1h-1zM450.1 397.3h1v1h-1zM442.1 403.0h1v1h-1zM430.4 412.7h1v1h-1zM449.0 403.4h1v1h-1zM424.1 429.6h1v1h-1zM444.4 402.8h1v1h-1zM434.6 409.4h1v1h-1zM458.0 395.9h1v1h-1zM421.8 421.5h1v1h-1zM411.5 430.3h1v1h-1zM438.6 411.5h1v1h-1zM445.2 403.9h1v1h-1zM433.3 419.6h1v1h-1zM453.2 393.7h1v1h-1zM425.2 417.3h1v1h-1zM405.4 433.6h1v1h-1zM427.5 415.6h1v1h-1zM399.9 438.9h1v1h-1zM431.1 413.1h1v1h-1zM431.1 416.4h1v1h-1zM450.1 396.0h1v1h-1zM425.9 420.5h1v1h-1zM424.1 432.8h1v1h-1zM417.9 425.0h1v1h-1zM417.5 425.7h1v1h-1zM446.9 401.1h1v1h-1zM433.8 409.7h1v1h-1zM456.1 406.9h1v1h-1zM413.4 428.1h1v1h-1zM432.2 415.8h1v1h-1zM454.8 395.3h1v1h-1zM464.3 386.2h1v1h-1zM446.9 399.9h1v1h-1zM415.9 426.1h1v1h-1zM419.0 424.6h1v1h-1zM445.2 404.8h1v1h-1zM450.9 397.2h1v1h-1zM421.6 420.3h1v1h-1zM413.6 431.9h1v1h-1zM446.1 400.0h1v1h-1zM443.2 401.9h1v1h-1zM415.3 427.4h1v1h-1zM413.9 428.3h1v1h-1zM443.1 402.9h1v1h-1zM465.4 384.5h1v1h-1zM451.9 397.6h1v1h-1zM451.3 397.0h1v1h-1zM436.7 410.9h1v1h-1zM425.1 421.5h1v1h-1zM436.1 416.4h1v1h-1zM472.5 388.1h1v1h-1zM427.7 416.4h1v1h-1zM464.7 384.8h1v1h-1zM406.5 434.4h1v1h-1zM430.2 414.3h1v1h-1zM412.8 428.7h1v1h-1zM432.3 412.8h1v1h-1zM434.3 409.3h1v1h-1zM441.8 405.2h1v1h-1zM432.5 414.1h1v1h-1zM439.1 405.3h1v1h-1zM418.8 423.4h1v1h-1zM434.9 416.9h1v1h-1zM436.7 415.2h1v1h-1zM445.4 404.2h1v1h-1zM431.6 419.1h1v1h-1zM440.8 404.0h1v1h-1zM450.5 398.2h1v1h-1zM428.9 416.9h1v1h-1zM428.4 415.9h1v1h-1zM428.2 424.0h1v1h-1zM417.3 427.4h1v1h-1zM413.4 430.5h1v1h-1zM448.8 398.0h1v1h-1zM459.9 391.8h1v1h-1zM438.1 410.4h1v1h-1zM427.4 416.7h1v1h-1zM410.3 434.4h1v1h-1zM442.4 403.6h1v1h-1zM438.5 406.0h1v1h-1zM427.7 423.5h1v1h-1zM439.7 409.5h1v1h-1zM466.3 382.5h1v1h-1zM458.5 389.6h1v1h-1zM419.1 424.1h1v1h-1zM437.6 406.9h1v1h-1zM449.1 397.8h1v1h-1zM455.8 408.5h1v1h-1zM471.4 379.4h1v1h-1zM437.2 410.1h1v1h-1zM461.2 388.4h1v1h-1zM468.2 384.9h1v1h-1zM416.3 426.1h1v1h-1zM452.8 394.6h1v1h-1zM471.3 380.5h1v1h-1zM415.4 428.9h1v1h-1zM463.2 390.1h1v1h-1zM425.5 416.9h1v1h-1zM413.5 435.4h1v1h-1zM432.7 410.9h1v1h-1zM440.0 404.7h1v1h-1zM442.7 403.2h1v1h-1zM455.6 391.7h1v1h-1zM416.5 425.0h1v1h-1zM458.0 393.2h1v1h-1zM451.4 408.0h1v1h-1zM443.5 402.2h1v1h-1zM418.5 424.9h1v1h-1zM457.5 389.9h1v1h-1zM469.0 380.9h1v1h-1zM458.1 393.1h1v1h-1zM460.5 389.5h1v1h-1zM401.5 439.1h1v1h-1zM451.9 394.8h1v1h-1zM425.2 417.1h1v1h-1zM416.5 428.0h1v1h-1zM441.3 411.4h1v1h-1zM442.7 404.2h1v1h-1zM457.3 391.4h1v1h-1z"/>
<polygon points="368.5,457.4 370.0,456.1 371.5,454.8 373.0,453.5 374.5,450.2 376.0,446.9 377.5,444.6 379.0,442.5 380.5,440.7 382.0,439.0 383.5,437.5 385.0,436.1 386.5,434.8 388.0,433.5 389.5,432.2 391.0,430.9 392.5,429.6 394.0,428.4 395.5,427.1 397.0,425.8 398.5,424.5 400.0,423.2 401.5,421.9 403.0,420.6 404.5,419.3 406.0,418.0 407.5,416.7 409.0,415.4 410.5,414.1 412.0,412.8 413.5,411.5 415.0,410.2 416.5,408.9 418.0,407.6 419.5,406.3 421.0,405.0 422.5,403.7 424.0,402.4 425.5,401.1 427.0,399.8 428.5,398.5 430.0,397.2 431.5,395.9 433.0,394.6 434.5,393.3 436.0,392.0 437.5,390.7 439.0,389.4 440.5,388.1 442.0,386.8 443.5,385.5 445.0,384.2 446.5,382.9 448.0,381.6 449.5,380.3 451.0,379.0 452.5,377.7 454.0,376.4 455.5,375.1 457.0,373.8 458.5,372.5 460.0,371.2 461.5,369.9 463.0,368.6 464.5,367.3 466.0,366.0 467.5,364.7 469.0,363.4 470.5,362.1 472.1,360.8 473.6,359.5 475.1,358.2 476.6,356.9 478.1,355.6 479.6,354.5 481.1,353.4 482.6,352.5 484.1,351.8 485.6,351.3 487.1,351.3 488.6,353.5 488.6,353.5 487.1,359.6 485.6,362.8 484.1,365.3 482.6,367.5 481.1,369.5 479.6,371.2 478.1,372.8 476.6,374.2 475.1,375.6 473.6,376.9 472.1,378.3 470.5,379.7 469.0,381.1 467.5,382.5 466.0,383.9 464.5,385.3 463.0,386.7 461.5,388.0 460.0,389.4 458.5,390.6 457.0,391.9 455.5,393.1 454.0,394.3 452.5,395.6 451.0,396.8 449.5,398.1 448.0,399.3 446.5,400.6 445.0,401.8 443.5,403.1 442.0,404.3 440.5,405.6 439.0,406.8 437.5,408.1 436.0,409.3 434.5,410.6 433.0,411.8 431.5,413.0 430.0,414.3 428.5,415.5 427.0,416.8 425.5,418.0 424.0,419.3 422.5,420.5 421.0,421.8 419.5,423.0 418.0,424.3 416.5,425.5 415.0,426.8 413.5,428.0 412.0,429.2 410.5,430.5 409.0,431.7 407.5,433.0 406.0,434.2 404.5,435.4 403.0,436.6 401.5,437.9 400.0,439.1 398.5,440.3 397.0,441.5 395.5,442.8 394.0,444.0 392.5,445.2 391.0,446.4 389.5,447.7 388.0,448.9 386.5,450.1 385.0,451.3 383.5,452.5 382.0,453.4 380.5,454.3 379.0,454.9 377.5,455.3 376.0,455.3 374.5,454.3 373.0,453.5 371.5,454.8 370.0,456.1 368.5,457.4" fill="#bebebe" stroke="#bebebe" stroke-width="1.2" stroke-linejoin="round"/>
<line x1="330.7" y1="482.6" x2="508.6" y2="328.6" stroke="#333" stroke-width="1.2" stroke-dasharray="4 2.8"/>
<line x1="330.7" y1="501.8" x2="508.6" y2="347.9" stroke="#333" stroke-width="1.2" stroke-dasharray="4 2.8"/>
<text x="412.60" y="410.80" font-size="8.2" text-anchor="start" fill="#8a44c0" font-family='"Liberation Sans", sans-serif'>TRPV6</text>
<line x1="422.00" y1="416.20" x2="428.60" y2="416.20" stroke="#8a44c0" stroke-width="1.4"/>
<line x1="425.30" y1="412.90" x2="425.30" y2="419.50" stroke="#8a44c0" stroke-width="1.4"/>
<text x="445.10" y="424.20" font-size="8.2" text-anchor="start" fill="#9050cc" font-family='"Liberation Sans", sans-serif'>PDGFB</text>
<line x1="455.40" y1="414.60" x2="462.00" y2="414.60" stroke="#9050cc" stroke-width="1.4"/>
<line x1="458.70" y1="411.30" x2="458.70" y2="417.90" stroke="#9050cc" stroke-width="1.4"/>
<text x="459.80" y="433.20" font-size="8.2" text-anchor="start" fill="#4f9ee0" font-family='"Liberation Sans", sans-serif'>THBS1</text>
<line x1="468.50" y1="423.30" x2="475.10" y2="423.30" stroke="#4f9ee0" stroke-width="1.4"/>
<line x1="471.80" y1="420.00" x2="471.80" y2="426.60" stroke="#4f9ee0" stroke-width="1.4"/>
<text x="473.00" y="403.00" font-size="8.2" text-anchor="start" fill="#e38b25" font-family='"Liberation Sans", sans-serif'>PAEP</text>
<line x1="463.60" y1="401.20" x2="470.20" y2="401.20" stroke="#e38b25" stroke-width="1.4"/>
<line x1="466.90" y1="397.90" x2="466.90" y2="404.50" stroke="#e38b25" stroke-width="1.4"/>
<text x="471.30" y="398.40" font-size="8.2" text-anchor="start" fill="#2b2e8e" font-family='"Liberation Sans", sans-serif'>ITGB3</text>
<line x1="463.10" y1="396.30" x2="469.70" y2="396.30" stroke="#2b2e8e" stroke-width="1.4"/>
<line x1="466.40" y1="393.00" x2="466.40" y2="399.60" stroke="#2b2e8e" stroke-width="1.4"/>
</g>
<rect x="347.70" y="352.70" width="143.10" height="124.60" fill="none" stroke="#3a3a3a" stroke-width="1"/>
<line x1="342.90" y1="472.94" x2="347.70" y2="472.94" stroke="#333" stroke-width="1"/>
<text transform="translate(336.10 472.94) rotate(-90) scale(0.9 1)" font-size="10" font-weight="bold" text-anchor="middle" font-family='"Liberation Sans", sans-serif'>2</text>
<line x1="352.90" y1="477.30" x2="352.90" y2="482.50" stroke="#333" stroke-width="1"/>
<text x="0.00" y="0.00" font-size="10" font-weight="bold" text-anchor="middle" fill="#000" font-family='"Liberation Sans", sans-serif' transform="translate(352.90 495.90) scale(0.9 1)">2</text>
<line x1="342.90" y1="453.70" x2="347.70" y2="453.70" stroke="#333" stroke-width="1"/>
<text transform="translate(336.10 453.70) rotate(-90) scale(0.9 1)" font-size="10" font-weight="bold" text-anchor="middle" font-family='"Liberation Sans", sans-serif'>4</text>
<line x1="375.14" y1="477.30" x2="375.14" y2="482.50" stroke="#333" stroke-width="1"/>
<text x="0.00" y="0.00" font-size="10" font-weight="bold" text-anchor="middle" fill="#000" font-family='"Liberation Sans", sans-serif' transform="translate(375.14 495.90) scale(0.9 1)">4</text>
<line x1="342.90" y1="434.46" x2="347.70" y2="434.46" stroke="#333" stroke-width="1"/>
<text transform="translate(336.10 434.46) rotate(-90) scale(0.9 1)" font-size="10" font-weight="bold" text-anchor="middle" font-family='"Liberation Sans", sans-serif'>6</text>
<line x1="397.38" y1="477.30" x2="397.38" y2="482.50" stroke="#333" stroke-width="1"/>
<text x="0.00" y="0.00" font-size="10" font-weight="bold" text-anchor="middle" fill="#000" font-family='"Liberation Sans", sans-serif' transform="translate(397.38 495.90) scale(0.9 1)">6</text>
<line x1="342.90" y1="415.22" x2="347.70" y2="415.22" stroke="#333" stroke-width="1"/>
<text transform="translate(336.10 415.22) rotate(-90) scale(0.9 1)" font-size="10" font-weight="bold" text-anchor="middle" font-family='"Liberation Sans", sans-serif'>8</text>
<line x1="419.62" y1="477.30" x2="419.62" y2="482.50" stroke="#333" stroke-width="1"/>
<text x="0.00" y="0.00" font-size="10" font-weight="bold" text-anchor="middle" fill="#000" font-family='"Liberation Sans", sans-serif' transform="translate(419.62 495.90) scale(0.9 1)">8</text>
<line x1="342.90" y1="395.98" x2="347.70" y2="395.98" stroke="#333" stroke-width="1"/>
<text transform="translate(336.10 395.98) rotate(-90) scale(0.9 1)" font-size="10" font-weight="bold" text-anchor="middle" font-family='"Liberation Sans", sans-serif'>10</text>
<line x1="441.86" y1="477.30" x2="441.86" y2="482.50" stroke="#333" stroke-width="1"/>
<text x="0.00" y="0.00" font-size="10" font-weight="bold" text-anchor="middle" fill="#000" font-family='"Liberation Sans", sans-serif' transform="translate(441.86 495.90) scale(0.9 1)">10</text>
<line x1="342.90" y1="376.74" x2="347.70" y2="376.74" stroke="#333" stroke-width="1"/>
<text transform="translate(336.10 376.74) rotate(-90) scale(0.9 1)" font-size="10" font-weight="bold" text-anchor="middle" font-family='"Liberation Sans", sans-serif'>12</text>
<line x1="464.10" y1="477.30" x2="464.10" y2="482.50" stroke="#333" stroke-width="1"/>
<text x="0.00" y="0.00" font-size="10" font-weight="bold" text-anchor="middle" fill="#000" font-family='"Liberation Sans", sans-serif' transform="translate(464.10 495.90) scale(0.9 1)">12</text>
<line x1="342.90" y1="357.50" x2="347.70" y2="357.50" stroke="#333" stroke-width="1"/>
<text transform="translate(336.10 357.50) rotate(-90) scale(0.9 1)" font-size="10" font-weight="bold" text-anchor="middle" font-family='"Liberation Sans", sans-serif'>14</text>
<line x1="486.34" y1="477.30" x2="486.34" y2="482.50" stroke="#333" stroke-width="1"/>
<text x="0.00" y="0.00" font-size="10" font-weight="bold" text-anchor="middle" fill="#000" font-family='"Liberation Sans", sans-serif' transform="translate(486.34 495.90) scale(0.9 1)">14</text>
<text x="419.25" y="337.60" font-size="10.4" font-weight="bold" text-anchor="middle" fill="#000" font-family='"Liberation Sans", sans-serif'>RUNX1 Knock−Down</text>
<text x="419.25" y="515.60" font-size="10.4" font-weight="bold" text-anchor="middle" fill="#000" font-family='"Liberation Sans", sans-serif'>Expression at K562+TPA</text>
<text x="315.30" y="415.70" font-size="10.4" font-weight="bold" text-anchor="middle" fill="#000" font-family='"Liberation Sans", sans-serif' transform="rotate(-90 315.3 415.7)">Expression at K562+TPA+KD</text>
<clipPath id="gclip"><rect x="57.5" y="568.8" width="188.5" height="113.90000000000009"/></clipPath>
<g clip-path="url(#gclip)">
<line x1="57.50" y1="626.00" x2="246.00" y2="626.00" stroke="#333" stroke-width="1.3" stroke-dasharray="3.2 2.6"/>
<line x1="153.70" y1="568.80" x2="153.70" y2="682.70" stroke="#333" stroke-width="1.3" stroke-dasharray="3.2 2.6"/>
<line x1="67.70" y1="665.00" x2="67.70" y2="669.20" stroke="#222" stroke-width="1" stroke-dasharray="2.2 1.6"/>
<line x1="67.70" y1="676.50" x2="67.70" y2="682.50" stroke="#222" stroke-width="1" stroke-dasharray="2.2 1.6"/>
<line x1="65.80" y1="665.00" x2="69.60" y2="665.00" stroke="#222" stroke-width="1.4"/>
<line x1="65.80" y1="682.50" x2="69.60" y2="682.50" stroke="#222" stroke-width="1.4"/>
<rect x="64.80" y="669.20" width="5.80" height="7.30" fill="#de1420" stroke="#2a1010" stroke-width="1"/>
<line x1="64.80" y1="672.85" x2="70.60" y2="672.85" stroke="#111" stroke-width="2"/>
<line x1="73.55" y1="659.60" x2="73.55" y2="667.00" stroke="#222" stroke-width="1" stroke-dasharray="2.2 1.6"/>
<line x1="73.55" y1="672.10" x2="73.55" y2="678.80" stroke="#222" stroke-width="1" stroke-dasharray="2.2 1.6"/>
<line x1="71.65" y1="659.60" x2="75.45" y2="659.60" stroke="#222" stroke-width="1.4"/>
<line x1="71.65" y1="678.80" x2="75.45" y2="678.80" stroke="#222" stroke-width="1.4"/>
<rect x="70.70" y="667.00" width="5.70" height="5.10" fill="#1818d4" stroke="#2a1010" stroke-width="1"/>
<line x1="70.70" y1="669.55" x2="76.40" y2="669.55" stroke="#111" stroke-width="2"/>
<line x1="85.86" y1="651.90" x2="85.86" y2="655.40" stroke="#222" stroke-width="1" stroke-dasharray="2.2 1.6"/>
<line x1="85.86" y1="665.00" x2="85.86" y2="676.90" stroke="#222" stroke-width="1" stroke-dasharray="2.2 1.6"/>
<line x1="83.96" y1="651.90" x2="87.76" y2="651.90" stroke="#222" stroke-width="1.4"/>
<line x1="83.96" y1="676.90" x2="87.76" y2="676.90" stroke="#222" stroke-width="1.4"/>
<rect x="82.96" y="655.40" width="5.80" height="9.60" fill="#de1420" stroke="#2a1010" stroke-width="1"/>
<line x1="82.96" y1="660.20" x2="88.76" y2="660.20" stroke="#111" stroke-width="2"/>
<line x1="91.71" y1="643.30" x2="91.71" y2="653.50" stroke="#222" stroke-width="1" stroke-dasharray="2.2 1.6"/>
<line x1="91.71" y1="665.00" x2="91.71" y2="678.80" stroke="#222" stroke-width="1" stroke-dasharray="2.2 1.6"/>
<line x1="89.81" y1="643.30" x2="93.61" y2="643.30" stroke="#222" stroke-width="1.4"/>
<line x1="89.81" y1="678.80" x2="93.61" y2="678.80" stroke="#222" stroke-width="1.4"/>
<rect x="88.86" y="653.50" width="5.70" height="11.50" fill="#1818d4" stroke="#2a1010" stroke-width="1"/>
<line x1="88.86" y1="659.25" x2="94.56" y2="659.25" stroke="#111" stroke-width="2"/>
<line x1="104.02" y1="635.60" x2="104.02" y2="647.00" stroke="#222" stroke-width="1" stroke-dasharray="2.2 1.6"/>
<line x1="104.02" y1="656.20" x2="104.02" y2="667.00" stroke="#222" stroke-width="1" stroke-dasharray="2.2 1.6"/>
<line x1="102.12" y1="635.60" x2="105.92" y2="635.60" stroke="#222" stroke-width="1.4"/>
<line x1="102.12" y1="667.00" x2="105.92" y2="667.00" stroke="#222" stroke-width="1.4"/>
<rect x="101.12" y="647.00" width="5.80" height="9.20" fill="#de1420" stroke="#2a1010" stroke-width="1"/>
<line x1="101.12" y1="651.60" x2="106.92" y2="651.60" stroke="#111" stroke-width="2"/>
<line x1="109.87" y1="630.80" x2="109.87" y2="647.70" stroke="#222" stroke-width="1" stroke-dasharray="2.2 1.6"/>
<line x1="109.87" y1="658.70" x2="109.87" y2="673.00" stroke="#222" stroke-width="1" stroke-dasharray="2.2 1.6"/>
<line x1="107.97" y1="630.80" x2="111.77" y2="630.80" stroke="#222" stroke-width="1.4"/>
<line x1="107.97" y1="673.00" x2="111.77" y2="673.00" stroke="#222" stroke-width="1.4"/>
<rect x="107.02" y="647.70" width="5.70" height="11.00" fill="#1818d4" stroke="#2a1010" stroke-width="1"/>
<line x1="107.02" y1="653.20" x2="112.72" y2="653.20" stroke="#111" stroke-width="2"/>
<line x1="122.18" y1="621.20" x2="122.18" y2="635.60" stroke="#222" stroke-width="1" stroke-dasharray="2.2 1.6"/>
<line x1="122.18" y1="645.80" x2="122.18" y2="661.20" stroke="#222" stroke-width="1" stroke-dasharray="2.2 1.6"/>
<line x1="120.28" y1="621.20" x2="124.08" y2="621.20" stroke="#222" stroke-width="1.4"/>
<line x1="120.28" y1="661.20" x2="124.08" y2="661.20" stroke="#222" stroke-width="1.4"/>
<rect x="119.28" y="635.60" width="5.80" height="10.20" fill="#de1420" stroke="#2a1010" stroke-width="1"/>
<line x1="119.28" y1="640.70" x2="125.08" y2="640.70" stroke="#111" stroke-width="2"/>
<line x1="128.03" y1="618.30" x2="128.03" y2="636.20" stroke="#222" stroke-width="1" stroke-dasharray="2.2 1.6"/>
<line x1="128.03" y1="650.00" x2="128.03" y2="668.70" stroke="#222" stroke-width="1" stroke-dasharray="2.2 1.6"/>
<line x1="126.13" y1="618.30" x2="129.93" y2="618.30" stroke="#222" stroke-width="1.4"/>
<line x1="126.13" y1="668.70" x2="129.93" y2="668.70" stroke="#222" stroke-width="1.4"/>
<rect x="125.18" y="636.20" width="5.70" height="13.80" fill="#1818d4" stroke="#2a1010" stroke-width="1"/>
<line x1="125.18" y1="643.10" x2="130.88" y2="643.10" stroke="#111" stroke-width="2"/>
<line x1="140.34" y1="614.40" x2="140.34" y2="624.00" stroke="#222" stroke-width="1" stroke-dasharray="2.2 1.6"/>
<line x1="140.34" y1="631.30" x2="140.34" y2="640.00" stroke="#222" stroke-width="1" stroke-dasharray="2.2 1.6"/>
<line x1="138.44" y1="614.40" x2="142.24" y2="614.40" stroke="#222" stroke-width="1.4"/>
<line x1="138.44" y1="640.00" x2="142.24" y2="640.00" stroke="#222" stroke-width="1.4"/>
<rect x="137.44" y="624.00" width="5.80" height="7.30" fill="#de1420" stroke="#2a1010" stroke-width="1"/>
<line x1="137.44" y1="627.65" x2="143.24" y2="627.65" stroke="#111" stroke-width="2"/>
<line x1="146.19" y1="614.40" x2="146.19" y2="624.00" stroke="#222" stroke-width="1" stroke-dasharray="2.2 1.6"/>
<line x1="146.19" y1="631.20" x2="146.19" y2="640.40" stroke="#222" stroke-width="1" stroke-dasharray="2.2 1.6"/>
<line x1="144.29" y1="614.40" x2="148.09" y2="614.40" stroke="#222" stroke-width="1.4"/>
<line x1="144.29" y1="640.40" x2="148.09" y2="640.40" stroke="#222" stroke-width="1.4"/>
<rect x="143.34" y="624.00" width="5.70" height="7.20" fill="#1818d4" stroke="#2a1010" stroke-width="1"/>
<line x1="143.34" y1="627.60" x2="149.04" y2="627.60" stroke="#111" stroke-width="2"/>
<line x1="158.50" y1="611.00" x2="158.50" y2="620.00" stroke="#222" stroke-width="1" stroke-dasharray="2.2 1.6"/>
<line x1="158.50" y1="626.30" x2="158.50" y2="634.60" stroke="#222" stroke-width="1" stroke-dasharray="2.2 1.6"/>
<line x1="156.60" y1="611.00" x2="160.40" y2="611.00" stroke="#222" stroke-width="1.4"/>
<line x1="156.60" y1="634.60" x2="160.40" y2="634.60" stroke="#222" stroke-width="1.4"/>
<rect x="155.60" y="620.00" width="5.80" height="6.30" fill="#de1420" stroke="#2a1010" stroke-width="1"/>
<line x1="155.60" y1="623.15" x2="161.40" y2="623.15" stroke="#111" stroke-width="2"/>
<line x1="164.35" y1="611.00" x2="164.35" y2="621.20" stroke="#222" stroke-width="1" stroke-dasharray="2.2 1.6"/>
<line x1="164.35" y1="627.70" x2="164.35" y2="637.00" stroke="#222" stroke-width="1" stroke-dasharray="2.2 1.6"/>
<line x1="162.45" y1="611.00" x2="166.25" y2="611.00" stroke="#222" stroke-width="1.4"/>
<line x1="162.45" y1="637.00" x2="166.25" y2="637.00" stroke="#222" stroke-width="1.4"/>
<rect x="161.50" y="621.20" width="5.70" height="6.50" fill="#1818d4" stroke="#2a1010" stroke-width="1"/>
<line x1="161.50" y1="624.45" x2="167.20" y2="624.45" stroke="#111" stroke-width="2"/>
<line x1="176.66" y1="595.60" x2="176.66" y2="609.60" stroke="#222" stroke-width="1" stroke-dasharray="2.2 1.6"/>
<line x1="176.66" y1="620.00" x2="176.66" y2="634.60" stroke="#222" stroke-width="1" stroke-dasharray="2.2 1.6"/>
<line x1="174.76" y1="595.60" x2="178.56" y2="595.60" stroke="#222" stroke-width="1.4"/>
<line x1="174.76" y1="634.60" x2="178.56" y2="634.60" stroke="#222" stroke-width="1.4"/>
<rect x="173.76" y="609.60" width="5.80" height="10.40" fill="#de1420" stroke="#2a1010" stroke-width="1"/>
<line x1="173.76" y1="614.80" x2="179.56" y2="614.80" stroke="#111" stroke-width="2"/>
<line x1="182.51" y1="604.20" x2="182.51" y2="619.20" stroke="#222" stroke-width="1" stroke-dasharray="2.2 1.6"/>
<line x1="182.51" y1="629.20" x2="182.51" y2="643.10" stroke="#222" stroke-width="1" stroke-dasharray="2.2 1.6"/>
<line x1="180.61" y1="604.20" x2="184.41" y2="604.20" stroke="#222" stroke-width="1.4"/>
<line x1="180.61" y1="643.10" x2="184.41" y2="643.10" stroke="#222" stroke-width="1.4"/>
<rect x="179.66" y="619.20" width="5.70" height="10.00" fill="#1818d4" stroke="#2a1010" stroke-width="1"/>
<line x1="179.66" y1="624.20" x2="185.36" y2="624.20" stroke="#111" stroke-width="2"/>
<line x1="194.82" y1="584.00" x2="194.82" y2="596.20" stroke="#222" stroke-width="1" stroke-dasharray="2.2 1.6"/>
<line x1="194.82" y1="610.00" x2="194.82" y2="625.80" stroke="#222" stroke-width="1" stroke-dasharray="2.2 1.6"/>
<line x1="192.92" y1="584.00" x2="196.72" y2="584.00" stroke="#222" stroke-width="1.4"/>
<line x1="192.92" y1="625.80" x2="196.72" y2="625.80" stroke="#222" stroke-width="1.4"/>
<rect x="191.92" y="596.20" width="5.80" height="13.80" fill="#de1420" stroke="#2a1010" stroke-width="1"/>
<line x1="191.92" y1="603.10" x2="197.72" y2="603.10" stroke="#111" stroke-width="2"/>
<line x1="200.67" y1="601.30" x2="200.67" y2="616.20" stroke="#222" stroke-width="1" stroke-dasharray="2.2 1.6"/>
<line x1="200.67" y1="627.70" x2="200.67" y2="643.10" stroke="#222" stroke-width="1" stroke-dasharray="2.2 1.6"/>
<line x1="198.77" y1="601.30" x2="202.57" y2="601.30" stroke="#222" stroke-width="1.4"/>
<line x1="198.77" y1="643.10" x2="202.57" y2="643.10" stroke="#222" stroke-width="1.4"/>
<rect x="197.82" y="616.20" width="5.70" height="11.50" fill="#1818d4" stroke="#2a1010" stroke-width="1"/>
<line x1="197.82" y1="621.95" x2="203.52" y2="621.95" stroke="#111" stroke-width="2"/>
<line x1="212.98" y1="576.30" x2="212.98" y2="587.90" stroke="#222" stroke-width="1" stroke-dasharray="2.2 1.6"/>
<line x1="212.98" y1="596.90" x2="212.98" y2="608.00" stroke="#222" stroke-width="1" stroke-dasharray="2.2 1.6"/>
<line x1="211.08" y1="576.30" x2="214.88" y2="576.30" stroke="#222" stroke-width="1.4"/>
<line x1="211.08" y1="608.00" x2="214.88" y2="608.00" stroke="#222" stroke-width="1.4"/>
<rect x="210.08" y="587.90" width="5.80" height="9.00" fill="#de1420" stroke="#2a1010" stroke-width="1"/>
<line x1="210.08" y1="592.40" x2="215.88" y2="592.40" stroke="#111" stroke-width="2"/>
<line x1="218.83" y1="591.70" x2="218.83" y2="610.00" stroke="#222" stroke-width="1" stroke-dasharray="2.2 1.6"/>
<line x1="218.83" y1="623.80" x2="218.83" y2="635.40" stroke="#222" stroke-width="1" stroke-dasharray="2.2 1.6"/>
<line x1="216.93" y1="591.70" x2="220.73" y2="591.70" stroke="#222" stroke-width="1.4"/>
<line x1="216.93" y1="635.40" x2="220.73" y2="635.40" stroke="#222" stroke-width="1.4"/>
<rect x="215.98" y="610.00" width="5.70" height="13.80" fill="#1818d4" stroke="#2a1010" stroke-width="1"/>
<line x1="215.98" y1="616.90" x2="221.68" y2="616.90" stroke="#111" stroke-width="2"/>
<line x1="231.14" y1="571.50" x2="231.14" y2="571.50" stroke="#222" stroke-width="1" stroke-dasharray="2.2 1.6"/>
<line x1="231.14" y1="587.50" x2="231.14" y2="609.00" stroke="#222" stroke-width="1" stroke-dasharray="2.2 1.6"/>
<line x1="229.24" y1="571.50" x2="233.04" y2="571.50" stroke="#222" stroke-width="1.4"/>
<line x1="229.24" y1="609.00" x2="233.04" y2="609.00" stroke="#222" stroke-width="1.4"/>
<rect x="228.24" y="571.50" width="5.80" height="16.00" fill="#de1420" stroke="#2a1010" stroke-width="1"/>
<line x1="228.24" y1="579.50" x2="234.04" y2="579.50" stroke="#111" stroke-width="2"/>
<line x1="236.99" y1="589.80" x2="236.99" y2="601.00" stroke="#222" stroke-width="1" stroke-dasharray="2.2 1.6"/>
<line x1="236.99" y1="613.80" x2="236.99" y2="627.00" stroke="#222" stroke-width="1" stroke-dasharray="2.2 1.6"/>
<line x1="235.09" y1="589.80" x2="238.89" y2="589.80" stroke="#222" stroke-width="1.4"/>
<line x1="235.09" y1="627.00" x2="238.89" y2="627.00" stroke="#222" stroke-width="1.4"/>
<rect x="234.14" y="601.00" width="5.70" height="12.80" fill="#1818d4" stroke="#2a1010" stroke-width="1"/>
<line x1="234.14" y1="607.40" x2="239.84" y2="607.40" stroke="#111" stroke-width="2"/>
</g>
<rect x="57.50" y="568.80" width="82.10" height="30.60" fill="#fff" stroke="#222" stroke-width="1"/>
<rect x="65.20" y="576.90" width="6.50" height="5.30" fill="#de1420" stroke="#3a0a0a" stroke-width="0.8"/>
<rect x="65.20" y="586.50" width="6.50" height="5.30" fill="#1818d4" stroke="#0a0a3a" stroke-width="0.8"/>
<text x="79.60" y="583.00" font-size="10" text-anchor="start" fill="#000" font-family='"Liberation Sans", sans-serif'>TPA Control</text>
<text x="79.60" y="592.70" font-size="10" text-anchor="start" fill="#000" font-family='"Liberation Sans", sans-serif'>TPA and KD</text>
<rect x="57.50" y="568.80" width="188.50" height="113.90" fill="none" stroke="#222" stroke-width="1"/>
<line x1="52.00" y1="573.22" x2="57.50" y2="573.22" stroke="#222" stroke-width="1"/>
<text x="48.00" y="575.42" font-size="6.2" text-anchor="end" fill="#222" font-family='"Liberation Sans", sans-serif'>3.6</text>
<line x1="52.00" y1="584.97" x2="57.50" y2="584.97" stroke="#222" stroke-width="1"/>
<text x="48.00" y="587.17" font-size="6.2" text-anchor="end" fill="#222" font-family='"Liberation Sans", sans-serif'>2.8</text>
<line x1="52.00" y1="596.72" x2="57.50" y2="596.72" stroke="#222" stroke-width="1"/>
<text x="48.00" y="598.92" font-size="6.2" text-anchor="end" fill="#222" font-family='"Liberation Sans", sans-serif'>2</text>
<line x1="52.00" y1="608.47" x2="57.50" y2="608.47" stroke="#222" stroke-width="1"/>
<text x="48.00" y="610.67" font-size="6.2" text-anchor="end" fill="#222" font-family='"Liberation Sans", sans-serif'>1.2</text>
<line x1="52.00" y1="620.22" x2="57.50" y2="620.22" stroke="#222" stroke-width="1"/>
<text x="48.00" y="622.42" font-size="6.2" text-anchor="end" fill="#222" font-family='"Liberation Sans", sans-serif'>0.4</text>
<line x1="52.00" y1="631.98" x2="57.50" y2="631.98" stroke="#222" stroke-width="1"/>
<text x="48.00" y="634.18" font-size="6.2" text-anchor="end" fill="#222" font-family='"Liberation Sans", sans-serif'>−0.4</text>
<line x1="52.00" y1="643.73" x2="57.50" y2="643.73" stroke="#222" stroke-width="1"/>
<text x="48.00" y="645.93" font-size="6.2" text-anchor="end" fill="#222" font-family='"Liberation Sans", sans-serif'>−1.2</text>
<line x1="52.00" y1="655.48" x2="57.50" y2="655.48" stroke="#222" stroke-width="1"/>
<text x="48.00" y="657.68" font-size="6.2" text-anchor="end" fill="#222" font-family='"Liberation Sans", sans-serif'>−2</text>
<line x1="52.00" y1="667.23" x2="57.50" y2="667.23" stroke="#222" stroke-width="1"/>
<text x="48.00" y="669.43" font-size="6.2" text-anchor="end" fill="#222" font-family='"Liberation Sans", sans-serif'>−2.8</text>
<line x1="52.00" y1="678.98" x2="57.50" y2="678.98" stroke="#222" stroke-width="1"/>
<text x="48.00" y="681.18" font-size="6.2" text-anchor="end" fill="#222" font-family='"Liberation Sans", sans-serif'>−3.6</text>
<line x1="73.50" y1="682.70" x2="73.50" y2="687.60" stroke="#222" stroke-width="1"/>
<text x="73.50" y="700.80" font-size="6.2" text-anchor="middle" fill="#222" font-family='"Liberation Sans", sans-serif'>−3.2</text>
<line x1="91.66" y1="682.70" x2="91.66" y2="687.60" stroke="#222" stroke-width="1"/>
<text x="91.66" y="700.80" font-size="6.2" text-anchor="middle" fill="#222" font-family='"Liberation Sans", sans-serif'>−2.5</text>
<line x1="109.82" y1="682.70" x2="109.82" y2="687.60" stroke="#222" stroke-width="1"/>
<text x="109.82" y="700.80" font-size="6.2" text-anchor="middle" fill="#222" font-family='"Liberation Sans", sans-serif'>−1.8</text>
<line x1="127.98" y1="682.70" x2="127.98" y2="687.60" stroke="#222" stroke-width="1"/>
<text x="127.98" y="700.80" font-size="6.2" text-anchor="middle" fill="#222" font-family='"Liberation Sans", sans-serif'>−1.1</text>
<line x1="146.14" y1="682.70" x2="146.14" y2="687.60" stroke="#222" stroke-width="1"/>
<text x="146.14" y="700.80" font-size="6.2" text-anchor="middle" fill="#222" font-family='"Liberation Sans", sans-serif'>−0.4</text>
<line x1="164.30" y1="682.70" x2="164.30" y2="687.60" stroke="#222" stroke-width="1"/>
<text x="164.30" y="700.80" font-size="6.2" text-anchor="middle" fill="#222" font-family='"Liberation Sans", sans-serif'>0.4</text>
<line x1="182.46" y1="682.70" x2="182.46" y2="687.60" stroke="#222" stroke-width="1"/>
<text x="182.46" y="700.80" font-size="6.2" text-anchor="middle" fill="#222" font-family='"Liberation Sans", sans-serif'>1.1</text>
<line x1="200.62" y1="682.70" x2="200.62" y2="687.60" stroke="#222" stroke-width="1"/>
<text x="200.62" y="700.80" font-size="6.2" text-anchor="middle" fill="#222" font-family='"Liberation Sans", sans-serif'>1.8</text>
<line x1="218.78" y1="682.70" x2="218.78" y2="687.60" stroke="#222" stroke-width="1"/>
<text x="218.78" y="700.80" font-size="6.2" text-anchor="middle" fill="#222" font-family='"Liberation Sans", sans-serif'>2.5</text>
<line x1="236.94" y1="682.70" x2="236.94" y2="687.60" stroke="#222" stroke-width="1"/>
<text x="236.94" y="700.80" font-size="6.2" text-anchor="middle" fill="#222" font-family='"Liberation Sans", sans-serif'>3.2</text>
<text x="151.90" y="544.20" font-size="10.4" font-weight="bold" text-anchor="middle" fill="#000" font-family='"Liberation Sans", sans-serif'>Expression Change in TPA Control</text>
<text x="151.90" y="556.80" font-size="10.4" font-weight="bold" text-anchor="middle" fill="#000" font-family='"Liberation Sans", sans-serif'>and KD vs. Change in TPA</text>
<text x="25.00" y="626.00" font-size="10.4" font-weight="bold" text-anchor="middle" fill="#000" font-family='"Liberation Sans", sans-serif' transform="rotate(-90 25.0 626.0)">Control/KD Expression Change</text>
<text x="151.60" y="721.00" font-size="10.4" font-weight="bold" text-anchor="middle" fill="#000" font-family='"Liberation Sans", sans-serif'>TPA Induction Expression Change</text></svg></body></html>
